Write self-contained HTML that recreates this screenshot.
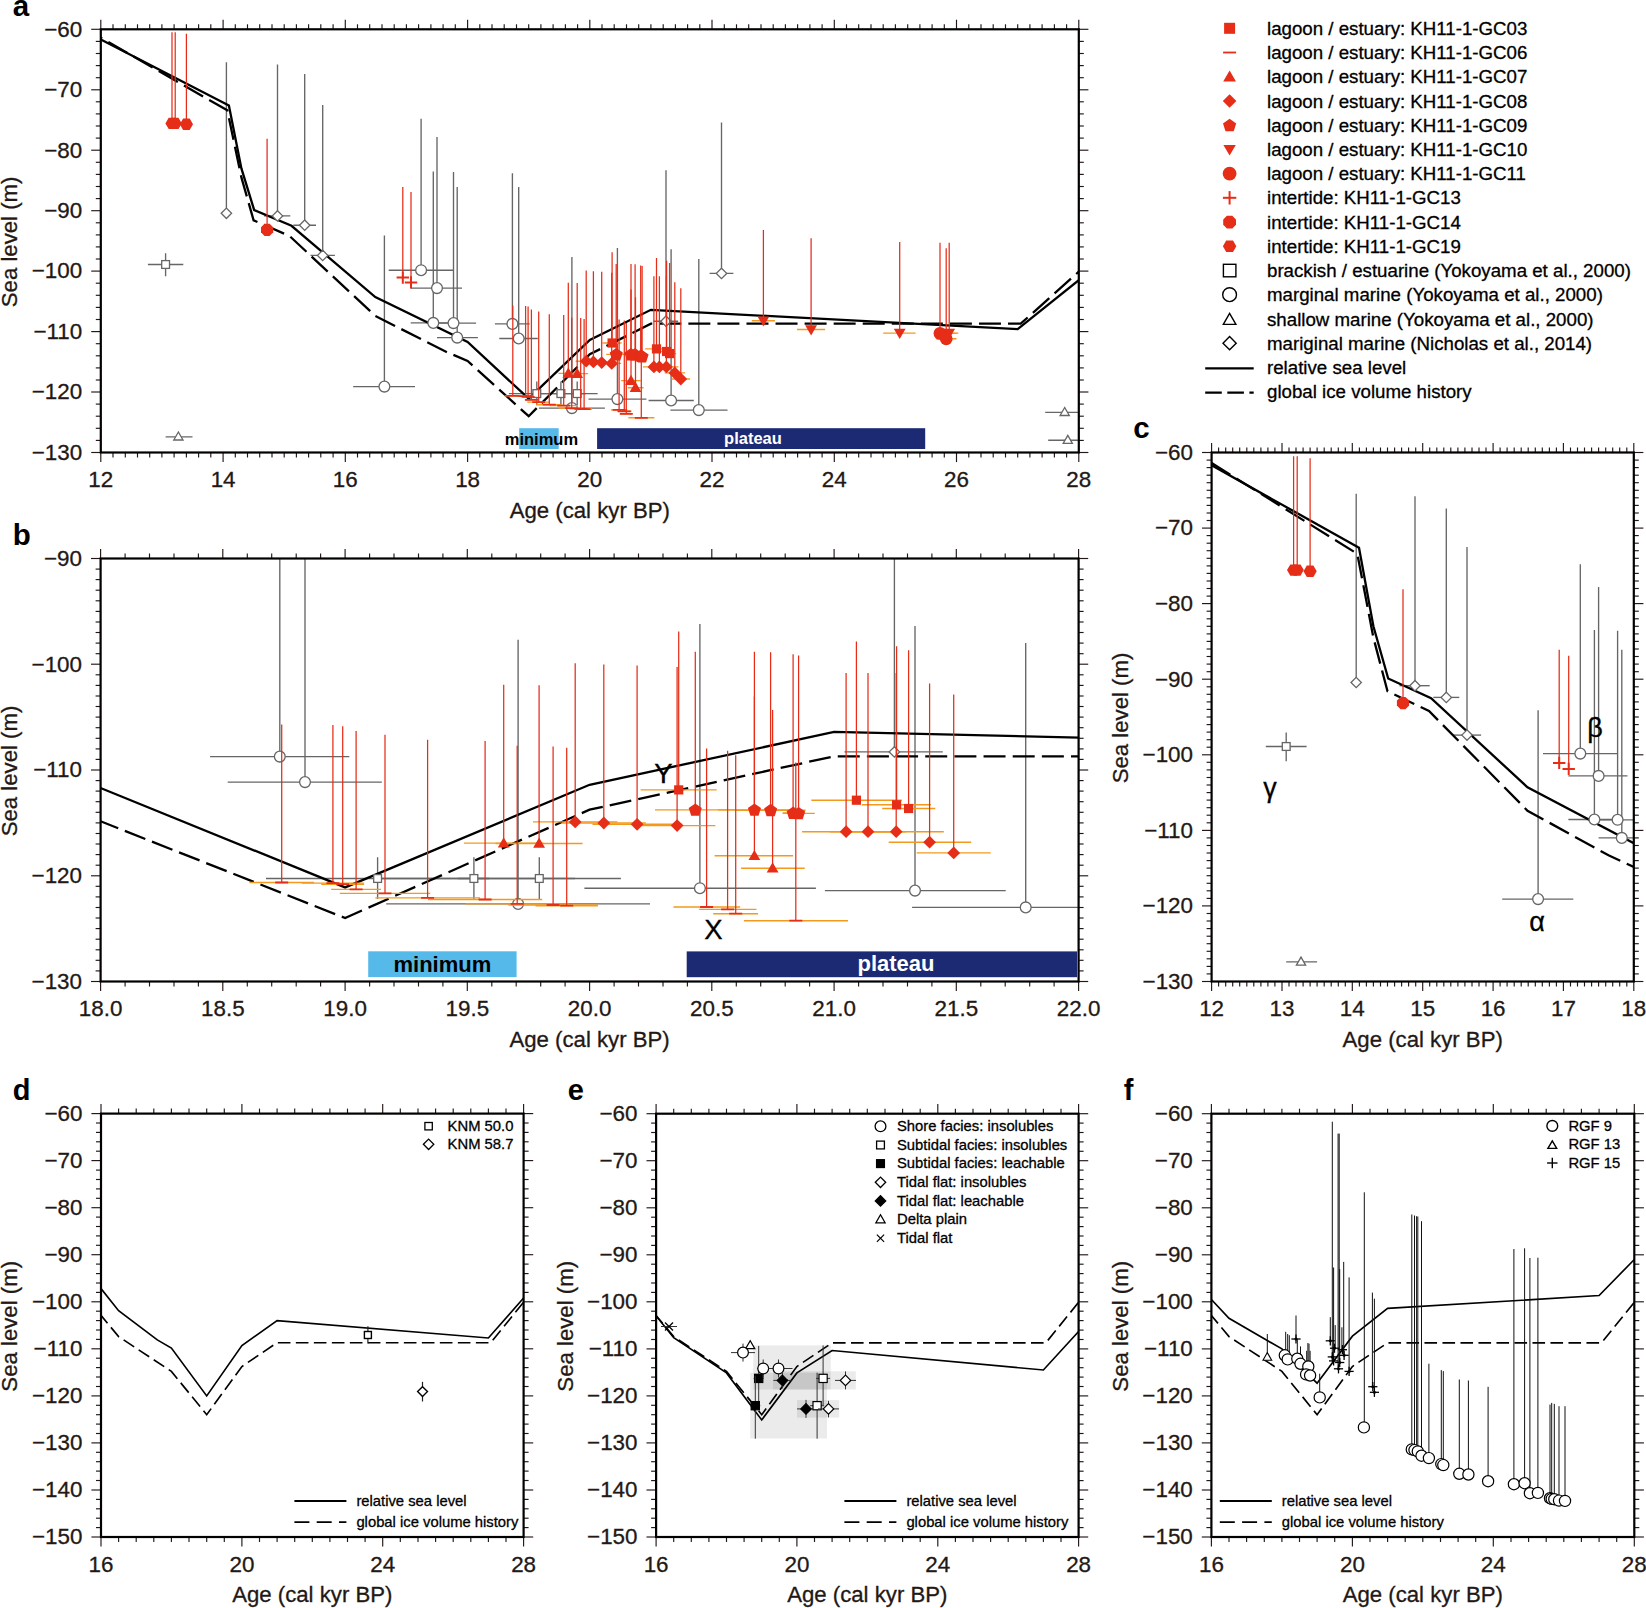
<!DOCTYPE html>
<html lang="en"><head><meta charset="utf-8"><title>Sea level figure</title>
<style>html,body{margin:0;padding:0;background:#fff}svg{display:block}text{font-family:"Liberation Sans",sans-serif}</style>
</head><body>
<svg width="1646" height="1608" viewBox="0 0 1646 1608">
<rect width="1646" height="1608" fill="#fff"/>
<clipPath id="ca"><rect x="100.8" y="29.3" width="978" height="423.2"/></clipPath>
<g clip-path="url(#ca)">
<line x1="384.4" y1="235.5" x2="384.4" y2="386.6" stroke="#666666" stroke-width="1.35"/>
<line x1="353.2" y1="386.6" x2="415" y2="386.6" stroke="#666666" stroke-width="1.35"/>
<line x1="421.1" y1="118.8" x2="421.1" y2="270.2" stroke="#666666" stroke-width="1.35"/>
<line x1="388.7" y1="270.2" x2="453.5" y2="270.2" stroke="#666666" stroke-width="1.35"/>
<line x1="437" y1="136.9" x2="437" y2="288.1" stroke="#666666" stroke-width="1.35"/>
<line x1="410.7" y1="288.1" x2="462" y2="288.1" stroke="#666666" stroke-width="1.35"/>
<line x1="433.3" y1="171.4" x2="433.3" y2="322.9" stroke="#666666" stroke-width="1.35"/>
<line x1="410.7" y1="322.9" x2="455.3" y2="322.9" stroke="#666666" stroke-width="1.35"/>
<line x1="453.5" y1="172" x2="453.5" y2="323.1" stroke="#666666" stroke-width="1.35"/>
<line x1="430.9" y1="323.1" x2="476.1" y2="323.1" stroke="#666666" stroke-width="1.35"/>
<line x1="457.2" y1="187.1" x2="457.2" y2="337.6" stroke="#666666" stroke-width="1.35"/>
<line x1="437" y1="337.6" x2="477.9" y2="337.6" stroke="#666666" stroke-width="1.35"/>
<line x1="512.4" y1="173.2" x2="512.4" y2="323.9" stroke="#666666" stroke-width="1.35"/>
<line x1="494.9" y1="323.9" x2="529.7" y2="323.9" stroke="#666666" stroke-width="1.35"/>
<line x1="518.7" y1="187.1" x2="518.7" y2="338.5" stroke="#666666" stroke-width="1.35"/>
<line x1="499.3" y1="338.5" x2="537.8" y2="338.5" stroke="#666666" stroke-width="1.35"/>
<line x1="571.9" y1="257.1" x2="571.9" y2="408.1" stroke="#666666" stroke-width="1.35"/>
<line x1="538.9" y1="408.1" x2="604.9" y2="408.1" stroke="#666666" stroke-width="1.35"/>
<line x1="617.4" y1="248.1" x2="617.4" y2="399.1" stroke="#666666" stroke-width="1.35"/>
<line x1="588.5" y1="399.1" x2="646.4" y2="399.1" stroke="#666666" stroke-width="1.35"/>
<line x1="671.1" y1="249.3" x2="671.1" y2="400.5" stroke="#666666" stroke-width="1.35"/>
<line x1="648.6" y1="400.5" x2="693.8" y2="400.5" stroke="#666666" stroke-width="1.35"/>
<line x1="698.8" y1="259" x2="698.8" y2="410.1" stroke="#666666" stroke-width="1.35"/>
<line x1="670.4" y1="410.1" x2="727.5" y2="410.1" stroke="#666666" stroke-width="1.35"/>
<line x1="165.6" y1="253.3" x2="165.6" y2="276.3" stroke="#666666" stroke-width="1.35"/>
<line x1="147.9" y1="264.5" x2="183.3" y2="264.5" stroke="#666666" stroke-width="1.35"/>
<line x1="536.8" y1="381.5" x2="536.8" y2="405.3" stroke="#666666" stroke-width="1.35"/>
<line x1="508.9" y1="393.6" x2="564.7" y2="393.6" stroke="#666666" stroke-width="1.35"/>
<line x1="560.9" y1="381.5" x2="560.9" y2="405.3" stroke="#666666" stroke-width="1.35"/>
<line x1="535.8" y1="393.6" x2="586.1" y2="393.6" stroke="#666666" stroke-width="1.35"/>
<line x1="577.2" y1="381.5" x2="577.2" y2="405.3" stroke="#666666" stroke-width="1.35"/>
<line x1="556.8" y1="393.6" x2="597.6" y2="393.6" stroke="#666666" stroke-width="1.35"/>
<line x1="165.6" y1="436.8" x2="192.5" y2="436.8" stroke="#666666" stroke-width="1.35"/>
<line x1="1045.2" y1="412.3" x2="1081.9" y2="412.3" stroke="#666666" stroke-width="1.35"/>
<line x1="1048.2" y1="440.2" x2="1084.9" y2="440.2" stroke="#666666" stroke-width="1.35"/>
<line x1="226.4" y1="62.2" x2="226.4" y2="213.3" stroke="#666666" stroke-width="1.35"/>
<line x1="223.1" y1="213.3" x2="229.8" y2="213.3" stroke="#666666" stroke-width="1.35"/>
<line x1="277.5" y1="64.4" x2="277.5" y2="215.9" stroke="#666666" stroke-width="1.35"/>
<line x1="264" y1="215.9" x2="290.3" y2="215.9" stroke="#666666" stroke-width="1.35"/>
<line x1="304.7" y1="74" x2="304.7" y2="225.2" stroke="#666666" stroke-width="1.35"/>
<line x1="293.3" y1="225.2" x2="316" y2="225.2" stroke="#666666" stroke-width="1.35"/>
<line x1="322.7" y1="104.9" x2="322.7" y2="255.4" stroke="#666666" stroke-width="1.35"/>
<line x1="310.5" y1="255.4" x2="334.9" y2="255.4" stroke="#666666" stroke-width="1.35"/>
<line x1="666" y1="170.2" x2="666" y2="321.2" stroke="#666666" stroke-width="1.35"/>
<line x1="653.5" y1="321.2" x2="678.1" y2="321.2" stroke="#666666" stroke-width="1.35"/>
<line x1="721.5" y1="122.4" x2="721.5" y2="273.4" stroke="#666666" stroke-width="1.35"/>
<line x1="709.6" y1="273.4" x2="733.4" y2="273.4" stroke="#666666" stroke-width="1.35"/>
<polyline points="100.8,39.6 228.9,105.5 241.4,168.4 254.2,210.1 291.5,225.8 375.3,297.1 467.6,341.9 528.7,398.7 589.8,340 650.9,309.8 1017.7,329.2 1078.8,280.2" fill="none" stroke="#000000" stroke-width="2.3" stroke-linejoin="miter"/>
<polyline points="100.8,37.8 227.3,110.3 241.4,177.4 253.6,220.3 289.7,236.1 375.3,315.9 445.5,351.5 467.6,360.9 528.7,416.2 589.8,354.3 650.9,323.7 1020.7,323.7 1078.8,271.7" fill="none" stroke="#000000" stroke-width="2.3" stroke-dasharray="22 7.06" stroke-dashoffset="20.37"/>
<circle cx="384.4" cy="386.6" r="5.4" fill="#fff" stroke="#666666" stroke-width="1.3"/>
<circle cx="421.1" cy="270.2" r="5.4" fill="#fff" stroke="#666666" stroke-width="1.3"/>
<circle cx="437" cy="288.1" r="5.4" fill="#fff" stroke="#666666" stroke-width="1.3"/>
<circle cx="433.3" cy="322.9" r="5.4" fill="#fff" stroke="#666666" stroke-width="1.3"/>
<circle cx="453.5" cy="323.1" r="5.4" fill="#fff" stroke="#666666" stroke-width="1.3"/>
<circle cx="457.2" cy="337.6" r="5.4" fill="#fff" stroke="#666666" stroke-width="1.3"/>
<circle cx="512.4" cy="323.9" r="5.4" fill="#fff" stroke="#666666" stroke-width="1.3"/>
<circle cx="518.7" cy="338.5" r="5.4" fill="#fff" stroke="#666666" stroke-width="1.3"/>
<circle cx="571.9" cy="408.1" r="5.4" fill="#fff" stroke="#666666" stroke-width="1.3"/>
<circle cx="617.4" cy="399.1" r="5.4" fill="#fff" stroke="#666666" stroke-width="1.3"/>
<circle cx="671.1" cy="400.5" r="5.4" fill="#fff" stroke="#666666" stroke-width="1.3"/>
<circle cx="698.8" cy="410.1" r="5.4" fill="#fff" stroke="#666666" stroke-width="1.3"/>
<rect x="161.7" y="260.6" width="7.8" height="7.8" fill="#fff" stroke="#666666" stroke-width="1.3"/>
<rect x="532.9" y="389.7" width="7.8" height="7.8" fill="#fff" stroke="#666666" stroke-width="1.3"/>
<rect x="557" y="389.7" width="7.8" height="7.8" fill="#fff" stroke="#666666" stroke-width="1.3"/>
<rect x="573.3" y="389.7" width="7.8" height="7.8" fill="#fff" stroke="#666666" stroke-width="1.3"/>
<polygon points="173.8,440 183,440 178.4,432" fill="#fff" stroke="#666666" stroke-width="1.3" stroke-linejoin="miter"/>
<polygon points="1060.1,415.5 1069.3,415.5 1064.7,407.5" fill="#fff" stroke="#666666" stroke-width="1.3" stroke-linejoin="miter"/>
<polygon points="1063.2,443.4 1072.4,443.4 1067.8,435.4" fill="#fff" stroke="#666666" stroke-width="1.3" stroke-linejoin="miter"/>
<polygon points="221.2,213.3 226.4,208.1 231.6,213.3 226.4,218.5" fill="#fff" stroke="#666666" stroke-width="1.3" stroke-linejoin="miter"/>
<polygon points="272.3,215.9 277.5,210.7 282.7,215.9 277.5,221.1" fill="#fff" stroke="#666666" stroke-width="1.3" stroke-linejoin="miter"/>
<polygon points="299.5,225.2 304.7,220 309.9,225.2 304.7,230.4" fill="#fff" stroke="#666666" stroke-width="1.3" stroke-linejoin="miter"/>
<polygon points="317.5,255.4 322.7,250.2 327.9,255.4 322.7,260.6" fill="#fff" stroke="#666666" stroke-width="1.3" stroke-linejoin="miter"/>
<polygon points="660.8,321.2 666,316 671.2,321.2 666,326.4" fill="#fff" stroke="#666666" stroke-width="1.3" stroke-linejoin="miter"/>
<polygon points="716.3,273.4 721.5,268.2 726.7,273.4 721.5,278.6" fill="#fff" stroke="#666666" stroke-width="1.3" stroke-linejoin="miter"/>
<line x1="504.7" y1="395.9" x2="520.9" y2="395.9" stroke="#f39a1e" stroke-width="1.4"/>
<line x1="517.8" y1="396.2" x2="533.4" y2="396.2" stroke="#f39a1e" stroke-width="1.4"/>
<line x1="522.7" y1="396.9" x2="533.4" y2="396.9" stroke="#f39a1e" stroke-width="1.4"/>
<line x1="525.2" y1="399.8" x2="537.7" y2="399.8" stroke="#f39a1e" stroke-width="1.4"/>
<line x1="527.3" y1="402.1" x2="550" y2="402.1" stroke="#f39a1e" stroke-width="1.4"/>
<line x1="536.2" y1="404.7" x2="562.4" y2="404.7" stroke="#f39a1e" stroke-width="1.4"/>
<line x1="549.4" y1="405.6" x2="577.9" y2="405.6" stroke="#f39a1e" stroke-width="1.4"/>
<line x1="558.8" y1="408.1" x2="584.6" y2="408.1" stroke="#f39a1e" stroke-width="1.4"/>
<line x1="569.5" y1="408.8" x2="591.9" y2="408.8" stroke="#f39a1e" stroke-width="1.4"/>
<line x1="576.3" y1="409.1" x2="591.9" y2="409.1" stroke="#f39a1e" stroke-width="1.4"/>
<line x1="610.8" y1="409.9" x2="627.4" y2="409.9" stroke="#f39a1e" stroke-width="1.4"/>
<line x1="617.2" y1="411.3" x2="631.5" y2="411.3" stroke="#f39a1e" stroke-width="1.4"/>
<line x1="620.7" y1="413.8" x2="631.9" y2="413.8" stroke="#f39a1e" stroke-width="1.4"/>
<line x1="628.4" y1="417.8" x2="654.4" y2="417.8" stroke="#f39a1e" stroke-width="1.4"/>
<line x1="558.4" y1="373.4" x2="578.3" y2="373.4" stroke="#f39a1e" stroke-width="1.4"/>
<line x1="566.3" y1="373.6" x2="588.1" y2="373.6" stroke="#f39a1e" stroke-width="1.4"/>
<line x1="621.1" y1="380.6" x2="640.7" y2="380.6" stroke="#f39a1e" stroke-width="1.4"/>
<line x1="627.7" y1="387.8" x2="643.6" y2="387.8" stroke="#f39a1e" stroke-width="1.4"/>
<line x1="575.6" y1="361.2" x2="596.8" y2="361.2" stroke="#f39a1e" stroke-width="1.4"/>
<line x1="582.9" y1="361.9" x2="603.9" y2="361.9" stroke="#f39a1e" stroke-width="1.4"/>
<line x1="590.5" y1="362.6" x2="612.9" y2="362.6" stroke="#f39a1e" stroke-width="1.4"/>
<line x1="602.1" y1="363.4" x2="621.2" y2="363.4" stroke="#f39a1e" stroke-width="1.4"/>
<line x1="642.9" y1="366.9" x2="664.9" y2="366.9" stroke="#f39a1e" stroke-width="1.4"/>
<line x1="649.8" y1="366.9" x2="669" y2="366.9" stroke="#f39a1e" stroke-width="1.4"/>
<line x1="654.5" y1="366.9" x2="678.4" y2="366.9" stroke="#f39a1e" stroke-width="1.4"/>
<line x1="664.6" y1="372.9" x2="685.2" y2="372.9" stroke="#f39a1e" stroke-width="1.4"/>
<line x1="671.6" y1="379" x2="690.1" y2="379" stroke="#f39a1e" stroke-width="1.4"/>
<line x1="602.5" y1="343" x2="621.6" y2="343" stroke="#f39a1e" stroke-width="1.4"/>
<line x1="645.2" y1="348.9" x2="667.9" y2="348.9" stroke="#f39a1e" stroke-width="1.4"/>
<line x1="657.9" y1="351.5" x2="675.1" y2="351.5" stroke="#f39a1e" stroke-width="1.4"/>
<line x1="662.9" y1="353.6" x2="676.2" y2="353.6" stroke="#f39a1e" stroke-width="1.4"/>
<line x1="606.2" y1="354.4" x2="626.3" y2="354.4" stroke="#f39a1e" stroke-width="1.4"/>
<line x1="621.9" y1="354.4" x2="640.1" y2="354.4" stroke="#f39a1e" stroke-width="1.4"/>
<line x1="626.3" y1="354.6" x2="643.8" y2="354.6" stroke="#f39a1e" stroke-width="1.4"/>
<line x1="638.1" y1="356.1" x2="643.3" y2="356.1" stroke="#f39a1e" stroke-width="1.4"/>
<line x1="638.1" y1="356.4" x2="646.1" y2="356.4" stroke="#f39a1e" stroke-width="1.4"/>
<line x1="751.8" y1="320.7" x2="775" y2="320.7" stroke="#f39a1e" stroke-width="1.4"/>
<line x1="797" y1="329.5" x2="825.1" y2="329.5" stroke="#f39a1e" stroke-width="1.4"/>
<line x1="883.2" y1="333.1" x2="915.6" y2="333.1" stroke="#f39a1e" stroke-width="1.4"/>
<line x1="934.5" y1="333.1" x2="958.4" y2="333.1" stroke="#f39a1e" stroke-width="1.4"/>
<line x1="934.5" y1="333.4" x2="956.5" y2="333.4" stroke="#f39a1e" stroke-width="1.4"/>
<line x1="935.8" y1="338.8" x2="956.5" y2="338.8" stroke="#f39a1e" stroke-width="1.4"/>
<line x1="512.8" y1="305.6" x2="512.8" y2="395.9" stroke="#e62d17" stroke-width="1.25"/>
<line x1="506.3" y1="395.9" x2="519.3" y2="395.9" stroke="#e62d17" stroke-width="1.8"/>
<line x1="525.6" y1="305.9" x2="525.6" y2="396.2" stroke="#e62d17" stroke-width="1.25"/>
<line x1="519.1" y1="396.2" x2="532.1" y2="396.2" stroke="#e62d17" stroke-width="1.8"/>
<line x1="528.1" y1="306.6" x2="528.1" y2="396.9" stroke="#e62d17" stroke-width="1.25"/>
<line x1="521.6" y1="396.9" x2="534.6" y2="396.9" stroke="#e62d17" stroke-width="1.8"/>
<line x1="531.4" y1="309.4" x2="531.4" y2="399.8" stroke="#e62d17" stroke-width="1.25"/>
<line x1="524.9" y1="399.8" x2="537.9" y2="399.8" stroke="#e62d17" stroke-width="1.8"/>
<line x1="538.7" y1="311.5" x2="538.7" y2="402.1" stroke="#e62d17" stroke-width="1.25"/>
<line x1="532.2" y1="402.1" x2="545.2" y2="402.1" stroke="#e62d17" stroke-width="1.8"/>
<line x1="549.3" y1="314.3" x2="549.3" y2="404.7" stroke="#e62d17" stroke-width="1.25"/>
<line x1="542.8" y1="404.7" x2="555.8" y2="404.7" stroke="#e62d17" stroke-width="1.8"/>
<line x1="563.7" y1="315" x2="563.7" y2="405.6" stroke="#e62d17" stroke-width="1.25"/>
<line x1="557.2" y1="405.6" x2="570.2" y2="405.6" stroke="#e62d17" stroke-width="1.8"/>
<line x1="571.7" y1="317.7" x2="571.7" y2="408.1" stroke="#e62d17" stroke-width="1.25"/>
<line x1="565.2" y1="408.1" x2="578.2" y2="408.1" stroke="#e62d17" stroke-width="1.8"/>
<line x1="580.7" y1="318.1" x2="580.7" y2="408.8" stroke="#e62d17" stroke-width="1.25"/>
<line x1="574.2" y1="408.8" x2="587.2" y2="408.8" stroke="#e62d17" stroke-width="1.8"/>
<line x1="584.1" y1="318.9" x2="584.1" y2="409.1" stroke="#e62d17" stroke-width="1.25"/>
<line x1="577.6" y1="409.1" x2="590.6" y2="409.1" stroke="#e62d17" stroke-width="1.8"/>
<line x1="619.1" y1="319.4" x2="619.1" y2="409.9" stroke="#e62d17" stroke-width="1.25"/>
<line x1="612.6" y1="409.9" x2="625.6" y2="409.9" stroke="#e62d17" stroke-width="1.8"/>
<line x1="624.3" y1="320.6" x2="624.3" y2="411.3" stroke="#e62d17" stroke-width="1.25"/>
<line x1="617.8" y1="411.3" x2="630.8" y2="411.3" stroke="#e62d17" stroke-width="1.8"/>
<line x1="626.3" y1="323.1" x2="626.3" y2="413.8" stroke="#e62d17" stroke-width="1.25"/>
<line x1="619.8" y1="413.8" x2="632.8" y2="413.8" stroke="#e62d17" stroke-width="1.8"/>
<line x1="641.3" y1="327.4" x2="641.3" y2="417.8" stroke="#e62d17" stroke-width="1.25"/>
<line x1="634.8" y1="417.8" x2="647.8" y2="417.8" stroke="#e62d17" stroke-width="1.8"/>
<line x1="568.3" y1="282.8" x2="568.3" y2="373.4" stroke="#e62d17" stroke-width="1.25"/>
<polygon points="562.4,377.7 574.2,377.7 568.3,367.5" fill="#e62d17" stroke="none" stroke-width="0" stroke-linejoin="miter"/>
<line x1="577.2" y1="283.1" x2="577.2" y2="373.6" stroke="#e62d17" stroke-width="1.25"/>
<polygon points="571.3,377.9 583.1,377.9 577.2,367.7" fill="#e62d17" stroke="none" stroke-width="0" stroke-linejoin="miter"/>
<line x1="631" y1="289.6" x2="631" y2="380.6" stroke="#e62d17" stroke-width="1.25"/>
<polygon points="625.1,384.9 636.9,384.9 631,374.7" fill="#e62d17" stroke="none" stroke-width="0" stroke-linejoin="miter"/>
<line x1="635.5" y1="297.3" x2="635.5" y2="387.8" stroke="#e62d17" stroke-width="1.25"/>
<polygon points="629.6,392 641.4,392 635.5,381.8" fill="#e62d17" stroke="none" stroke-width="0" stroke-linejoin="miter"/>
<line x1="586.2" y1="270.6" x2="586.2" y2="361.2" stroke="#e62d17" stroke-width="1.25"/>
<polygon points="579.8,361.2 586.2,354.8 592.6,361.2 586.2,367.6" fill="#e62d17" stroke="none" stroke-width="0" stroke-linejoin="miter"/>
<line x1="593.4" y1="271.2" x2="593.4" y2="361.9" stroke="#e62d17" stroke-width="1.25"/>
<polygon points="587,361.9 593.4,355.5 599.8,361.9 593.4,368.3" fill="#e62d17" stroke="none" stroke-width="0" stroke-linejoin="miter"/>
<line x1="601.7" y1="271.8" x2="601.7" y2="362.6" stroke="#e62d17" stroke-width="1.25"/>
<polygon points="595.3,362.6 601.7,356.2 608.1,362.6 601.7,369" fill="#e62d17" stroke="none" stroke-width="0" stroke-linejoin="miter"/>
<line x1="611.7" y1="272.7" x2="611.7" y2="363.4" stroke="#e62d17" stroke-width="1.25"/>
<polygon points="605.3,363.4 611.7,357 618.1,363.4 611.7,369.8" fill="#e62d17" stroke="none" stroke-width="0" stroke-linejoin="miter"/>
<line x1="653.9" y1="276.2" x2="653.9" y2="366.9" stroke="#e62d17" stroke-width="1.25"/>
<polygon points="647.5,366.9 653.9,360.5 660.3,366.9 653.9,373.3" fill="#e62d17" stroke="none" stroke-width="0" stroke-linejoin="miter"/>
<line x1="659.4" y1="276.2" x2="659.4" y2="366.9" stroke="#e62d17" stroke-width="1.25"/>
<polygon points="653,366.9 659.4,360.5 665.8,366.9 659.4,373.3" fill="#e62d17" stroke="none" stroke-width="0" stroke-linejoin="miter"/>
<line x1="666.4" y1="276.2" x2="666.4" y2="366.9" stroke="#e62d17" stroke-width="1.25"/>
<polygon points="660,366.9 666.4,360.5 672.8,366.9 666.4,373.3" fill="#e62d17" stroke="none" stroke-width="0" stroke-linejoin="miter"/>
<line x1="674.8" y1="282.2" x2="674.8" y2="372.9" stroke="#e62d17" stroke-width="1.25"/>
<polygon points="668.4,372.9 674.8,366.5 681.2,372.9 674.8,379.3" fill="#e62d17" stroke="none" stroke-width="0" stroke-linejoin="miter"/>
<line x1="680.8" y1="288.3" x2="680.8" y2="379" stroke="#e62d17" stroke-width="1.25"/>
<polygon points="674.4,379 680.8,372.6 687.2,379 680.8,385.4" fill="#e62d17" stroke="none" stroke-width="0" stroke-linejoin="miter"/>
<line x1="612.1" y1="252.3" x2="612.1" y2="343" stroke="#e62d17" stroke-width="1.25"/>
<rect x="607.5" y="338.4" width="9.2" height="9.2" fill="#e62d17" stroke="none" stroke-width="0"/>
<line x1="656.5" y1="258.1" x2="656.5" y2="348.9" stroke="#e62d17" stroke-width="1.25"/>
<rect x="651.9" y="344.3" width="9.2" height="9.2" fill="#e62d17" stroke="none" stroke-width="0"/>
<line x1="666.6" y1="260.8" x2="666.6" y2="351.5" stroke="#e62d17" stroke-width="1.25"/>
<rect x="662" y="346.9" width="9.2" height="9.2" fill="#e62d17" stroke="none" stroke-width="0"/>
<line x1="669.6" y1="263.1" x2="669.6" y2="353.6" stroke="#e62d17" stroke-width="1.25"/>
<rect x="665" y="349" width="9.2" height="9.2" fill="#e62d17" stroke="none" stroke-width="0"/>
<line x1="616.2" y1="264" x2="616.2" y2="354.4" stroke="#e62d17" stroke-width="1.25"/>
<polygon points="616.2,347.9 622.8,352.6 620.3,360.4 612.2,360.4 609.7,352.6" fill="#e62d17" stroke="none" stroke-width="0" stroke-linejoin="miter"/>
<line x1="631" y1="264" x2="631" y2="354.4" stroke="#e62d17" stroke-width="1.25"/>
<polygon points="631,347.9 637.6,352.6 635.1,360.4 627,360.4 624.4,352.6" fill="#e62d17" stroke="none" stroke-width="0" stroke-linejoin="miter"/>
<line x1="635.1" y1="264.2" x2="635.1" y2="354.6" stroke="#e62d17" stroke-width="1.25"/>
<polygon points="635.1,348.1 641.6,352.9 639.1,360.6 631,360.6 628.5,352.9" fill="#e62d17" stroke="none" stroke-width="0" stroke-linejoin="miter"/>
<line x1="640.7" y1="265.5" x2="640.7" y2="356.1" stroke="#e62d17" stroke-width="1.25"/>
<polygon points="640.7,349.6 647.2,354.4 644.7,362.1 636.6,362.1 634.1,354.4" fill="#e62d17" stroke="none" stroke-width="0" stroke-linejoin="miter"/>
<line x1="642.1" y1="266.1" x2="642.1" y2="356.4" stroke="#e62d17" stroke-width="1.25"/>
<polygon points="642.1,349.9 648.6,354.6 646.1,362.4 638,362.4 635.5,354.6" fill="#e62d17" stroke="none" stroke-width="0" stroke-linejoin="miter"/>
<line x1="763.4" y1="230" x2="763.4" y2="320.7" stroke="#e62d17" stroke-width="1.25"/>
<polygon points="757.5,316.4 769.3,316.4 763.4,326.6" fill="#e62d17" stroke="none" stroke-width="0" stroke-linejoin="miter"/>
<line x1="811.1" y1="238.2" x2="811.1" y2="329.5" stroke="#e62d17" stroke-width="1.25"/>
<polygon points="805.2,325.2 817,325.2 811.1,335.4" fill="#e62d17" stroke="none" stroke-width="0" stroke-linejoin="miter"/>
<line x1="899.7" y1="242.1" x2="899.7" y2="333.1" stroke="#e62d17" stroke-width="1.25"/>
<polygon points="893.8,328.8 905.6,328.8 899.7,339" fill="#e62d17" stroke="none" stroke-width="0" stroke-linejoin="miter"/>
<line x1="949.2" y1="242.7" x2="949.2" y2="333.1" stroke="#e62d17" stroke-width="1.25"/>
<polygon points="943.3,328.8 955.1,328.8 949.2,339" fill="#e62d17" stroke="none" stroke-width="0" stroke-linejoin="miter"/>
<line x1="940" y1="242.7" x2="940" y2="333.4" stroke="#e62d17" stroke-width="1.25"/>
<circle cx="940" cy="333.4" r="6.4" fill="#e62d17" stroke="none" stroke-width="0"/>
<line x1="946.2" y1="248.2" x2="946.2" y2="338.8" stroke="#e62d17" stroke-width="1.25"/>
<circle cx="946.2" cy="338.8" r="6.4" fill="#e62d17" stroke="none" stroke-width="0"/>
<line x1="402.8" y1="187.1" x2="402.8" y2="277.6" stroke="#e62d17" stroke-width="1.25"/>
<line x1="396.6" y1="277.6" x2="409" y2="277.6" stroke="#e62d17" stroke-width="2.0"/>
<line x1="402.8" y1="271.4" x2="402.8" y2="283.8" stroke="#e62d17" stroke-width="2.0"/>
<line x1="411" y1="191.9" x2="411" y2="282.4" stroke="#e62d17" stroke-width="1.25"/>
<line x1="404.8" y1="282.4" x2="417.2" y2="282.4" stroke="#e62d17" stroke-width="2.0"/>
<line x1="411" y1="276.2" x2="411" y2="288.6" stroke="#e62d17" stroke-width="2.0"/>
<line x1="172" y1="32.3" x2="172" y2="123.4" stroke="#e62d17" stroke-width="1.25"/>
<polygon points="178.6,123.4 175.3,129.1 168.7,129.1 165.4,123.4 168.7,117.7 175.3,117.7" fill="#e62d17" stroke="none" stroke-width="0" stroke-linejoin="miter"/>
<line x1="175.2" y1="32.3" x2="175.2" y2="123.4" stroke="#e62d17" stroke-width="1.25"/>
<polygon points="181.8,123.4 178.5,129.1 171.9,129.1 168.6,123.4 171.9,117.7 178.5,117.7" fill="#e62d17" stroke="none" stroke-width="0" stroke-linejoin="miter"/>
<line x1="186.4" y1="33.8" x2="186.4" y2="124.3" stroke="#e62d17" stroke-width="1.25"/>
<polygon points="193,124.3 189.7,130.1 183.1,130.1 179.8,124.3 183.1,118.6 189.7,118.6" fill="#e62d17" stroke="none" stroke-width="0" stroke-linejoin="miter"/>
<line x1="267.1" y1="138.7" x2="267.1" y2="229.8" stroke="#e62d17" stroke-width="1.25"/>
<polygon points="273.2,232.3 269.6,235.9 264.5,235.9 261,232.3 261,227.3 264.5,223.7 269.6,223.7 273.2,227.3" fill="#e62d17" stroke="none" stroke-width="0" stroke-linejoin="miter"/>
<rect x="519.2" y="428.2" width="39.5" height="20.8" fill="#55b9e9"/>
<rect x="597.1" y="428.2" width="328.1" height="20.8" fill="#1b2a72"/>
<text x="541.4" y="444.6" font-size="16.5" text-anchor="middle" font-weight="bold" fill="#000000">minimum</text>
<text x="753" y="444.4" font-size="16.5" text-anchor="middle" font-weight="bold" fill="#fff">plateau</text>
</g>
<line x1="100.8" y1="452.5" x2="100.8" y2="462.1" stroke="#231815" stroke-width="1.15"/>
<line x1="100.8" y1="29.3" x2="100.8" y2="19.7" stroke="#231815" stroke-width="1.15"/>
<text x="100.8" y="487.1" font-size="22.4" text-anchor="middle" font-weight="normal" fill="#231815" stroke="#231815" stroke-width="0.3">12</text>
<line x1="113" y1="452.5" x2="113" y2="457.5" stroke="#231815" stroke-width="1.15"/>
<line x1="113" y1="29.3" x2="113" y2="24.3" stroke="#231815" stroke-width="1.15"/>
<line x1="125.3" y1="452.5" x2="125.3" y2="457.5" stroke="#231815" stroke-width="1.15"/>
<line x1="125.3" y1="29.3" x2="125.3" y2="24.3" stroke="#231815" stroke-width="1.15"/>
<line x1="137.5" y1="452.5" x2="137.5" y2="457.5" stroke="#231815" stroke-width="1.15"/>
<line x1="137.5" y1="29.3" x2="137.5" y2="24.3" stroke="#231815" stroke-width="1.15"/>
<line x1="149.7" y1="452.5" x2="149.7" y2="457.5" stroke="#231815" stroke-width="1.15"/>
<line x1="149.7" y1="29.3" x2="149.7" y2="24.3" stroke="#231815" stroke-width="1.15"/>
<line x1="161.9" y1="452.5" x2="161.9" y2="457.5" stroke="#231815" stroke-width="1.15"/>
<line x1="161.9" y1="29.3" x2="161.9" y2="24.3" stroke="#231815" stroke-width="1.15"/>
<line x1="174.1" y1="452.5" x2="174.1" y2="457.5" stroke="#231815" stroke-width="1.15"/>
<line x1="174.1" y1="29.3" x2="174.1" y2="24.3" stroke="#231815" stroke-width="1.15"/>
<line x1="186.4" y1="452.5" x2="186.4" y2="457.5" stroke="#231815" stroke-width="1.15"/>
<line x1="186.4" y1="29.3" x2="186.4" y2="24.3" stroke="#231815" stroke-width="1.15"/>
<line x1="198.6" y1="452.5" x2="198.6" y2="457.5" stroke="#231815" stroke-width="1.15"/>
<line x1="198.6" y1="29.3" x2="198.6" y2="24.3" stroke="#231815" stroke-width="1.15"/>
<line x1="210.8" y1="452.5" x2="210.8" y2="457.5" stroke="#231815" stroke-width="1.15"/>
<line x1="210.8" y1="29.3" x2="210.8" y2="24.3" stroke="#231815" stroke-width="1.15"/>
<line x1="223.1" y1="452.5" x2="223.1" y2="462.1" stroke="#231815" stroke-width="1.15"/>
<line x1="223.1" y1="29.3" x2="223.1" y2="19.7" stroke="#231815" stroke-width="1.15"/>
<text x="223.1" y="487.1" font-size="22.4" text-anchor="middle" font-weight="normal" fill="#231815" stroke="#231815" stroke-width="0.3">14</text>
<line x1="235.3" y1="452.5" x2="235.3" y2="457.5" stroke="#231815" stroke-width="1.15"/>
<line x1="235.3" y1="29.3" x2="235.3" y2="24.3" stroke="#231815" stroke-width="1.15"/>
<line x1="247.5" y1="452.5" x2="247.5" y2="457.5" stroke="#231815" stroke-width="1.15"/>
<line x1="247.5" y1="29.3" x2="247.5" y2="24.3" stroke="#231815" stroke-width="1.15"/>
<line x1="259.7" y1="452.5" x2="259.7" y2="457.5" stroke="#231815" stroke-width="1.15"/>
<line x1="259.7" y1="29.3" x2="259.7" y2="24.3" stroke="#231815" stroke-width="1.15"/>
<line x1="272" y1="452.5" x2="272" y2="457.5" stroke="#231815" stroke-width="1.15"/>
<line x1="272" y1="29.3" x2="272" y2="24.3" stroke="#231815" stroke-width="1.15"/>
<line x1="284.2" y1="452.5" x2="284.2" y2="457.5" stroke="#231815" stroke-width="1.15"/>
<line x1="284.2" y1="29.3" x2="284.2" y2="24.3" stroke="#231815" stroke-width="1.15"/>
<line x1="296.4" y1="452.5" x2="296.4" y2="457.5" stroke="#231815" stroke-width="1.15"/>
<line x1="296.4" y1="29.3" x2="296.4" y2="24.3" stroke="#231815" stroke-width="1.15"/>
<line x1="308.6" y1="452.5" x2="308.6" y2="457.5" stroke="#231815" stroke-width="1.15"/>
<line x1="308.6" y1="29.3" x2="308.6" y2="24.3" stroke="#231815" stroke-width="1.15"/>
<line x1="320.8" y1="452.5" x2="320.8" y2="457.5" stroke="#231815" stroke-width="1.15"/>
<line x1="320.8" y1="29.3" x2="320.8" y2="24.3" stroke="#231815" stroke-width="1.15"/>
<line x1="333.1" y1="452.5" x2="333.1" y2="457.5" stroke="#231815" stroke-width="1.15"/>
<line x1="333.1" y1="29.3" x2="333.1" y2="24.3" stroke="#231815" stroke-width="1.15"/>
<line x1="345.3" y1="452.5" x2="345.3" y2="462.1" stroke="#231815" stroke-width="1.15"/>
<line x1="345.3" y1="29.3" x2="345.3" y2="19.7" stroke="#231815" stroke-width="1.15"/>
<text x="345.3" y="487.1" font-size="22.4" text-anchor="middle" font-weight="normal" fill="#231815" stroke="#231815" stroke-width="0.3">16</text>
<line x1="357.5" y1="452.5" x2="357.5" y2="457.5" stroke="#231815" stroke-width="1.15"/>
<line x1="357.5" y1="29.3" x2="357.5" y2="24.3" stroke="#231815" stroke-width="1.15"/>
<line x1="369.7" y1="452.5" x2="369.7" y2="457.5" stroke="#231815" stroke-width="1.15"/>
<line x1="369.7" y1="29.3" x2="369.7" y2="24.3" stroke="#231815" stroke-width="1.15"/>
<line x1="382" y1="452.5" x2="382" y2="457.5" stroke="#231815" stroke-width="1.15"/>
<line x1="382" y1="29.3" x2="382" y2="24.3" stroke="#231815" stroke-width="1.15"/>
<line x1="394.2" y1="452.5" x2="394.2" y2="457.5" stroke="#231815" stroke-width="1.15"/>
<line x1="394.2" y1="29.3" x2="394.2" y2="24.3" stroke="#231815" stroke-width="1.15"/>
<line x1="406.4" y1="452.5" x2="406.4" y2="457.5" stroke="#231815" stroke-width="1.15"/>
<line x1="406.4" y1="29.3" x2="406.4" y2="24.3" stroke="#231815" stroke-width="1.15"/>
<line x1="418.6" y1="452.5" x2="418.6" y2="457.5" stroke="#231815" stroke-width="1.15"/>
<line x1="418.6" y1="29.3" x2="418.6" y2="24.3" stroke="#231815" stroke-width="1.15"/>
<line x1="430.9" y1="452.5" x2="430.9" y2="457.5" stroke="#231815" stroke-width="1.15"/>
<line x1="430.9" y1="29.3" x2="430.9" y2="24.3" stroke="#231815" stroke-width="1.15"/>
<line x1="443.1" y1="452.5" x2="443.1" y2="457.5" stroke="#231815" stroke-width="1.15"/>
<line x1="443.1" y1="29.3" x2="443.1" y2="24.3" stroke="#231815" stroke-width="1.15"/>
<line x1="455.3" y1="452.5" x2="455.3" y2="457.5" stroke="#231815" stroke-width="1.15"/>
<line x1="455.3" y1="29.3" x2="455.3" y2="24.3" stroke="#231815" stroke-width="1.15"/>
<line x1="467.6" y1="452.5" x2="467.6" y2="462.1" stroke="#231815" stroke-width="1.15"/>
<line x1="467.6" y1="29.3" x2="467.6" y2="19.7" stroke="#231815" stroke-width="1.15"/>
<text x="467.6" y="487.1" font-size="22.4" text-anchor="middle" font-weight="normal" fill="#231815" stroke="#231815" stroke-width="0.3">18</text>
<line x1="479.8" y1="452.5" x2="479.8" y2="457.5" stroke="#231815" stroke-width="1.15"/>
<line x1="479.8" y1="29.3" x2="479.8" y2="24.3" stroke="#231815" stroke-width="1.15"/>
<line x1="492" y1="452.5" x2="492" y2="457.5" stroke="#231815" stroke-width="1.15"/>
<line x1="492" y1="29.3" x2="492" y2="24.3" stroke="#231815" stroke-width="1.15"/>
<line x1="504.2" y1="452.5" x2="504.2" y2="457.5" stroke="#231815" stroke-width="1.15"/>
<line x1="504.2" y1="29.3" x2="504.2" y2="24.3" stroke="#231815" stroke-width="1.15"/>
<line x1="516.5" y1="452.5" x2="516.5" y2="457.5" stroke="#231815" stroke-width="1.15"/>
<line x1="516.5" y1="29.3" x2="516.5" y2="24.3" stroke="#231815" stroke-width="1.15"/>
<line x1="528.7" y1="452.5" x2="528.7" y2="457.5" stroke="#231815" stroke-width="1.15"/>
<line x1="528.7" y1="29.3" x2="528.7" y2="24.3" stroke="#231815" stroke-width="1.15"/>
<line x1="540.9" y1="452.5" x2="540.9" y2="457.5" stroke="#231815" stroke-width="1.15"/>
<line x1="540.9" y1="29.3" x2="540.9" y2="24.3" stroke="#231815" stroke-width="1.15"/>
<line x1="553.1" y1="452.5" x2="553.1" y2="457.5" stroke="#231815" stroke-width="1.15"/>
<line x1="553.1" y1="29.3" x2="553.1" y2="24.3" stroke="#231815" stroke-width="1.15"/>
<line x1="565.4" y1="452.5" x2="565.4" y2="457.5" stroke="#231815" stroke-width="1.15"/>
<line x1="565.4" y1="29.3" x2="565.4" y2="24.3" stroke="#231815" stroke-width="1.15"/>
<line x1="577.6" y1="452.5" x2="577.6" y2="457.5" stroke="#231815" stroke-width="1.15"/>
<line x1="577.6" y1="29.3" x2="577.6" y2="24.3" stroke="#231815" stroke-width="1.15"/>
<line x1="589.8" y1="452.5" x2="589.8" y2="462.1" stroke="#231815" stroke-width="1.15"/>
<line x1="589.8" y1="29.3" x2="589.8" y2="19.7" stroke="#231815" stroke-width="1.15"/>
<text x="589.8" y="487.1" font-size="22.4" text-anchor="middle" font-weight="normal" fill="#231815" stroke="#231815" stroke-width="0.3">20</text>
<line x1="602" y1="452.5" x2="602" y2="457.5" stroke="#231815" stroke-width="1.15"/>
<line x1="602" y1="29.3" x2="602" y2="24.3" stroke="#231815" stroke-width="1.15"/>
<line x1="614.2" y1="452.5" x2="614.2" y2="457.5" stroke="#231815" stroke-width="1.15"/>
<line x1="614.2" y1="29.3" x2="614.2" y2="24.3" stroke="#231815" stroke-width="1.15"/>
<line x1="626.5" y1="452.5" x2="626.5" y2="457.5" stroke="#231815" stroke-width="1.15"/>
<line x1="626.5" y1="29.3" x2="626.5" y2="24.3" stroke="#231815" stroke-width="1.15"/>
<line x1="638.7" y1="452.5" x2="638.7" y2="457.5" stroke="#231815" stroke-width="1.15"/>
<line x1="638.7" y1="29.3" x2="638.7" y2="24.3" stroke="#231815" stroke-width="1.15"/>
<line x1="650.9" y1="452.5" x2="650.9" y2="457.5" stroke="#231815" stroke-width="1.15"/>
<line x1="650.9" y1="29.3" x2="650.9" y2="24.3" stroke="#231815" stroke-width="1.15"/>
<line x1="663.2" y1="452.5" x2="663.2" y2="457.5" stroke="#231815" stroke-width="1.15"/>
<line x1="663.2" y1="29.3" x2="663.2" y2="24.3" stroke="#231815" stroke-width="1.15"/>
<line x1="675.4" y1="452.5" x2="675.4" y2="457.5" stroke="#231815" stroke-width="1.15"/>
<line x1="675.4" y1="29.3" x2="675.4" y2="24.3" stroke="#231815" stroke-width="1.15"/>
<line x1="687.6" y1="452.5" x2="687.6" y2="457.5" stroke="#231815" stroke-width="1.15"/>
<line x1="687.6" y1="29.3" x2="687.6" y2="24.3" stroke="#231815" stroke-width="1.15"/>
<line x1="699.8" y1="452.5" x2="699.8" y2="457.5" stroke="#231815" stroke-width="1.15"/>
<line x1="699.8" y1="29.3" x2="699.8" y2="24.3" stroke="#231815" stroke-width="1.15"/>
<line x1="712" y1="452.5" x2="712" y2="462.1" stroke="#231815" stroke-width="1.15"/>
<line x1="712" y1="29.3" x2="712" y2="19.7" stroke="#231815" stroke-width="1.15"/>
<text x="712" y="487.1" font-size="22.4" text-anchor="middle" font-weight="normal" fill="#231815" stroke="#231815" stroke-width="0.3">22</text>
<line x1="724.3" y1="452.5" x2="724.3" y2="457.5" stroke="#231815" stroke-width="1.15"/>
<line x1="724.3" y1="29.3" x2="724.3" y2="24.3" stroke="#231815" stroke-width="1.15"/>
<line x1="736.5" y1="452.5" x2="736.5" y2="457.5" stroke="#231815" stroke-width="1.15"/>
<line x1="736.5" y1="29.3" x2="736.5" y2="24.3" stroke="#231815" stroke-width="1.15"/>
<line x1="748.7" y1="452.5" x2="748.7" y2="457.5" stroke="#231815" stroke-width="1.15"/>
<line x1="748.7" y1="29.3" x2="748.7" y2="24.3" stroke="#231815" stroke-width="1.15"/>
<line x1="761" y1="452.5" x2="761" y2="457.5" stroke="#231815" stroke-width="1.15"/>
<line x1="761" y1="29.3" x2="761" y2="24.3" stroke="#231815" stroke-width="1.15"/>
<line x1="773.2" y1="452.5" x2="773.2" y2="457.5" stroke="#231815" stroke-width="1.15"/>
<line x1="773.2" y1="29.3" x2="773.2" y2="24.3" stroke="#231815" stroke-width="1.15"/>
<line x1="785.4" y1="452.5" x2="785.4" y2="457.5" stroke="#231815" stroke-width="1.15"/>
<line x1="785.4" y1="29.3" x2="785.4" y2="24.3" stroke="#231815" stroke-width="1.15"/>
<line x1="797.6" y1="452.5" x2="797.6" y2="457.5" stroke="#231815" stroke-width="1.15"/>
<line x1="797.6" y1="29.3" x2="797.6" y2="24.3" stroke="#231815" stroke-width="1.15"/>
<line x1="809.9" y1="452.5" x2="809.9" y2="457.5" stroke="#231815" stroke-width="1.15"/>
<line x1="809.9" y1="29.3" x2="809.9" y2="24.3" stroke="#231815" stroke-width="1.15"/>
<line x1="822.1" y1="452.5" x2="822.1" y2="457.5" stroke="#231815" stroke-width="1.15"/>
<line x1="822.1" y1="29.3" x2="822.1" y2="24.3" stroke="#231815" stroke-width="1.15"/>
<line x1="834.3" y1="452.5" x2="834.3" y2="462.1" stroke="#231815" stroke-width="1.15"/>
<line x1="834.3" y1="29.3" x2="834.3" y2="19.7" stroke="#231815" stroke-width="1.15"/>
<text x="834.3" y="487.1" font-size="22.4" text-anchor="middle" font-weight="normal" fill="#231815" stroke="#231815" stroke-width="0.3">24</text>
<line x1="846.5" y1="452.5" x2="846.5" y2="457.5" stroke="#231815" stroke-width="1.15"/>
<line x1="846.5" y1="29.3" x2="846.5" y2="24.3" stroke="#231815" stroke-width="1.15"/>
<line x1="858.7" y1="452.5" x2="858.7" y2="457.5" stroke="#231815" stroke-width="1.15"/>
<line x1="858.7" y1="29.3" x2="858.7" y2="24.3" stroke="#231815" stroke-width="1.15"/>
<line x1="871" y1="452.5" x2="871" y2="457.5" stroke="#231815" stroke-width="1.15"/>
<line x1="871" y1="29.3" x2="871" y2="24.3" stroke="#231815" stroke-width="1.15"/>
<line x1="883.2" y1="452.5" x2="883.2" y2="457.5" stroke="#231815" stroke-width="1.15"/>
<line x1="883.2" y1="29.3" x2="883.2" y2="24.3" stroke="#231815" stroke-width="1.15"/>
<line x1="895.4" y1="452.5" x2="895.4" y2="457.5" stroke="#231815" stroke-width="1.15"/>
<line x1="895.4" y1="29.3" x2="895.4" y2="24.3" stroke="#231815" stroke-width="1.15"/>
<line x1="907.7" y1="452.5" x2="907.7" y2="457.5" stroke="#231815" stroke-width="1.15"/>
<line x1="907.7" y1="29.3" x2="907.7" y2="24.3" stroke="#231815" stroke-width="1.15"/>
<line x1="919.9" y1="452.5" x2="919.9" y2="457.5" stroke="#231815" stroke-width="1.15"/>
<line x1="919.9" y1="29.3" x2="919.9" y2="24.3" stroke="#231815" stroke-width="1.15"/>
<line x1="932.1" y1="452.5" x2="932.1" y2="457.5" stroke="#231815" stroke-width="1.15"/>
<line x1="932.1" y1="29.3" x2="932.1" y2="24.3" stroke="#231815" stroke-width="1.15"/>
<line x1="944.3" y1="452.5" x2="944.3" y2="457.5" stroke="#231815" stroke-width="1.15"/>
<line x1="944.3" y1="29.3" x2="944.3" y2="24.3" stroke="#231815" stroke-width="1.15"/>
<line x1="956.5" y1="452.5" x2="956.5" y2="462.1" stroke="#231815" stroke-width="1.15"/>
<line x1="956.5" y1="29.3" x2="956.5" y2="19.7" stroke="#231815" stroke-width="1.15"/>
<text x="956.5" y="487.1" font-size="22.4" text-anchor="middle" font-weight="normal" fill="#231815" stroke="#231815" stroke-width="0.3">26</text>
<line x1="968.8" y1="452.5" x2="968.8" y2="457.5" stroke="#231815" stroke-width="1.15"/>
<line x1="968.8" y1="29.3" x2="968.8" y2="24.3" stroke="#231815" stroke-width="1.15"/>
<line x1="981" y1="452.5" x2="981" y2="457.5" stroke="#231815" stroke-width="1.15"/>
<line x1="981" y1="29.3" x2="981" y2="24.3" stroke="#231815" stroke-width="1.15"/>
<line x1="993.2" y1="452.5" x2="993.2" y2="457.5" stroke="#231815" stroke-width="1.15"/>
<line x1="993.2" y1="29.3" x2="993.2" y2="24.3" stroke="#231815" stroke-width="1.15"/>
<line x1="1005.5" y1="452.5" x2="1005.5" y2="457.5" stroke="#231815" stroke-width="1.15"/>
<line x1="1005.5" y1="29.3" x2="1005.5" y2="24.3" stroke="#231815" stroke-width="1.15"/>
<line x1="1017.7" y1="452.5" x2="1017.7" y2="457.5" stroke="#231815" stroke-width="1.15"/>
<line x1="1017.7" y1="29.3" x2="1017.7" y2="24.3" stroke="#231815" stroke-width="1.15"/>
<line x1="1029.9" y1="452.5" x2="1029.9" y2="457.5" stroke="#231815" stroke-width="1.15"/>
<line x1="1029.9" y1="29.3" x2="1029.9" y2="24.3" stroke="#231815" stroke-width="1.15"/>
<line x1="1042.1" y1="452.5" x2="1042.1" y2="457.5" stroke="#231815" stroke-width="1.15"/>
<line x1="1042.1" y1="29.3" x2="1042.1" y2="24.3" stroke="#231815" stroke-width="1.15"/>
<line x1="1054.4" y1="452.5" x2="1054.4" y2="457.5" stroke="#231815" stroke-width="1.15"/>
<line x1="1054.4" y1="29.3" x2="1054.4" y2="24.3" stroke="#231815" stroke-width="1.15"/>
<line x1="1066.6" y1="452.5" x2="1066.6" y2="457.5" stroke="#231815" stroke-width="1.15"/>
<line x1="1066.6" y1="29.3" x2="1066.6" y2="24.3" stroke="#231815" stroke-width="1.15"/>
<line x1="1078.8" y1="452.5" x2="1078.8" y2="462.1" stroke="#231815" stroke-width="1.15"/>
<line x1="1078.8" y1="29.3" x2="1078.8" y2="19.7" stroke="#231815" stroke-width="1.15"/>
<text x="1078.8" y="487.1" font-size="22.4" text-anchor="middle" font-weight="normal" fill="#231815" stroke="#231815" stroke-width="0.3">28</text>
<line x1="100.8" y1="29.3" x2="91.2" y2="29.3" stroke="#231815" stroke-width="1.15"/>
<line x1="1078.8" y1="29.3" x2="1088.4" y2="29.3" stroke="#231815" stroke-width="1.15"/>
<text x="82.2" y="36.6" font-size="22.4" text-anchor="end" font-weight="normal" fill="#231815" stroke="#231815" stroke-width="0.3">−60</text>
<line x1="100.8" y1="41.4" x2="95.8" y2="41.4" stroke="#231815" stroke-width="1.15"/>
<line x1="1078.8" y1="41.4" x2="1083.8" y2="41.4" stroke="#231815" stroke-width="1.15"/>
<line x1="100.8" y1="53.5" x2="95.8" y2="53.5" stroke="#231815" stroke-width="1.15"/>
<line x1="1078.8" y1="53.5" x2="1083.8" y2="53.5" stroke="#231815" stroke-width="1.15"/>
<line x1="100.8" y1="65.6" x2="95.8" y2="65.6" stroke="#231815" stroke-width="1.15"/>
<line x1="1078.8" y1="65.6" x2="1083.8" y2="65.6" stroke="#231815" stroke-width="1.15"/>
<line x1="100.8" y1="77.7" x2="95.8" y2="77.7" stroke="#231815" stroke-width="1.15"/>
<line x1="1078.8" y1="77.7" x2="1083.8" y2="77.7" stroke="#231815" stroke-width="1.15"/>
<line x1="100.8" y1="89.8" x2="91.2" y2="89.8" stroke="#231815" stroke-width="1.15"/>
<line x1="1078.8" y1="89.8" x2="1088.4" y2="89.8" stroke="#231815" stroke-width="1.15"/>
<text x="82.2" y="97.1" font-size="22.4" text-anchor="end" font-weight="normal" fill="#231815" stroke="#231815" stroke-width="0.3">−70</text>
<line x1="100.8" y1="101.8" x2="95.8" y2="101.8" stroke="#231815" stroke-width="1.15"/>
<line x1="1078.8" y1="101.8" x2="1083.8" y2="101.8" stroke="#231815" stroke-width="1.15"/>
<line x1="100.8" y1="113.9" x2="95.8" y2="113.9" stroke="#231815" stroke-width="1.15"/>
<line x1="1078.8" y1="113.9" x2="1083.8" y2="113.9" stroke="#231815" stroke-width="1.15"/>
<line x1="100.8" y1="126" x2="95.8" y2="126" stroke="#231815" stroke-width="1.15"/>
<line x1="1078.8" y1="126" x2="1083.8" y2="126" stroke="#231815" stroke-width="1.15"/>
<line x1="100.8" y1="138.1" x2="95.8" y2="138.1" stroke="#231815" stroke-width="1.15"/>
<line x1="1078.8" y1="138.1" x2="1083.8" y2="138.1" stroke="#231815" stroke-width="1.15"/>
<line x1="100.8" y1="150.2" x2="91.2" y2="150.2" stroke="#231815" stroke-width="1.15"/>
<line x1="1078.8" y1="150.2" x2="1088.4" y2="150.2" stroke="#231815" stroke-width="1.15"/>
<text x="82.2" y="157.5" font-size="22.4" text-anchor="end" font-weight="normal" fill="#231815" stroke="#231815" stroke-width="0.3">−80</text>
<line x1="100.8" y1="162.3" x2="95.8" y2="162.3" stroke="#231815" stroke-width="1.15"/>
<line x1="1078.8" y1="162.3" x2="1083.8" y2="162.3" stroke="#231815" stroke-width="1.15"/>
<line x1="100.8" y1="174.4" x2="95.8" y2="174.4" stroke="#231815" stroke-width="1.15"/>
<line x1="1078.8" y1="174.4" x2="1083.8" y2="174.4" stroke="#231815" stroke-width="1.15"/>
<line x1="100.8" y1="186.5" x2="95.8" y2="186.5" stroke="#231815" stroke-width="1.15"/>
<line x1="1078.8" y1="186.5" x2="1083.8" y2="186.5" stroke="#231815" stroke-width="1.15"/>
<line x1="100.8" y1="198.6" x2="95.8" y2="198.6" stroke="#231815" stroke-width="1.15"/>
<line x1="1078.8" y1="198.6" x2="1083.8" y2="198.6" stroke="#231815" stroke-width="1.15"/>
<line x1="100.8" y1="210.7" x2="91.2" y2="210.7" stroke="#231815" stroke-width="1.15"/>
<line x1="1078.8" y1="210.7" x2="1088.4" y2="210.7" stroke="#231815" stroke-width="1.15"/>
<text x="82.2" y="218" font-size="22.4" text-anchor="end" font-weight="normal" fill="#231815" stroke="#231815" stroke-width="0.3">−90</text>
<line x1="100.8" y1="222.8" x2="95.8" y2="222.8" stroke="#231815" stroke-width="1.15"/>
<line x1="1078.8" y1="222.8" x2="1083.8" y2="222.8" stroke="#231815" stroke-width="1.15"/>
<line x1="100.8" y1="234.9" x2="95.8" y2="234.9" stroke="#231815" stroke-width="1.15"/>
<line x1="1078.8" y1="234.9" x2="1083.8" y2="234.9" stroke="#231815" stroke-width="1.15"/>
<line x1="100.8" y1="246.9" x2="95.8" y2="246.9" stroke="#231815" stroke-width="1.15"/>
<line x1="1078.8" y1="246.9" x2="1083.8" y2="246.9" stroke="#231815" stroke-width="1.15"/>
<line x1="100.8" y1="259" x2="95.8" y2="259" stroke="#231815" stroke-width="1.15"/>
<line x1="1078.8" y1="259" x2="1083.8" y2="259" stroke="#231815" stroke-width="1.15"/>
<line x1="100.8" y1="271.1" x2="91.2" y2="271.1" stroke="#231815" stroke-width="1.15"/>
<line x1="1078.8" y1="271.1" x2="1088.4" y2="271.1" stroke="#231815" stroke-width="1.15"/>
<text x="82.2" y="278.4" font-size="22.4" text-anchor="end" font-weight="normal" fill="#231815" stroke="#231815" stroke-width="0.3">−100</text>
<line x1="100.8" y1="283.2" x2="95.8" y2="283.2" stroke="#231815" stroke-width="1.15"/>
<line x1="1078.8" y1="283.2" x2="1083.8" y2="283.2" stroke="#231815" stroke-width="1.15"/>
<line x1="100.8" y1="295.3" x2="95.8" y2="295.3" stroke="#231815" stroke-width="1.15"/>
<line x1="1078.8" y1="295.3" x2="1083.8" y2="295.3" stroke="#231815" stroke-width="1.15"/>
<line x1="100.8" y1="307.4" x2="95.8" y2="307.4" stroke="#231815" stroke-width="1.15"/>
<line x1="1078.8" y1="307.4" x2="1083.8" y2="307.4" stroke="#231815" stroke-width="1.15"/>
<line x1="100.8" y1="319.5" x2="95.8" y2="319.5" stroke="#231815" stroke-width="1.15"/>
<line x1="1078.8" y1="319.5" x2="1083.8" y2="319.5" stroke="#231815" stroke-width="1.15"/>
<line x1="100.8" y1="331.6" x2="91.2" y2="331.6" stroke="#231815" stroke-width="1.15"/>
<line x1="1078.8" y1="331.6" x2="1088.4" y2="331.6" stroke="#231815" stroke-width="1.15"/>
<text x="82.2" y="338.9" font-size="22.4" text-anchor="end" font-weight="normal" fill="#231815" stroke="#231815" stroke-width="0.3">−110</text>
<line x1="100.8" y1="343.7" x2="95.8" y2="343.7" stroke="#231815" stroke-width="1.15"/>
<line x1="1078.8" y1="343.7" x2="1083.8" y2="343.7" stroke="#231815" stroke-width="1.15"/>
<line x1="100.8" y1="355.8" x2="95.8" y2="355.8" stroke="#231815" stroke-width="1.15"/>
<line x1="1078.8" y1="355.8" x2="1083.8" y2="355.8" stroke="#231815" stroke-width="1.15"/>
<line x1="100.8" y1="367.9" x2="95.8" y2="367.9" stroke="#231815" stroke-width="1.15"/>
<line x1="1078.8" y1="367.9" x2="1083.8" y2="367.9" stroke="#231815" stroke-width="1.15"/>
<line x1="100.8" y1="380" x2="95.8" y2="380" stroke="#231815" stroke-width="1.15"/>
<line x1="1078.8" y1="380" x2="1083.8" y2="380" stroke="#231815" stroke-width="1.15"/>
<line x1="100.8" y1="392" x2="91.2" y2="392" stroke="#231815" stroke-width="1.15"/>
<line x1="1078.8" y1="392" x2="1088.4" y2="392" stroke="#231815" stroke-width="1.15"/>
<text x="82.2" y="399.3" font-size="22.4" text-anchor="end" font-weight="normal" fill="#231815" stroke="#231815" stroke-width="0.3">−120</text>
<line x1="100.8" y1="404.1" x2="95.8" y2="404.1" stroke="#231815" stroke-width="1.15"/>
<line x1="1078.8" y1="404.1" x2="1083.8" y2="404.1" stroke="#231815" stroke-width="1.15"/>
<line x1="100.8" y1="416.2" x2="95.8" y2="416.2" stroke="#231815" stroke-width="1.15"/>
<line x1="1078.8" y1="416.2" x2="1083.8" y2="416.2" stroke="#231815" stroke-width="1.15"/>
<line x1="100.8" y1="428.3" x2="95.8" y2="428.3" stroke="#231815" stroke-width="1.15"/>
<line x1="1078.8" y1="428.3" x2="1083.8" y2="428.3" stroke="#231815" stroke-width="1.15"/>
<line x1="100.8" y1="440.4" x2="95.8" y2="440.4" stroke="#231815" stroke-width="1.15"/>
<line x1="1078.8" y1="440.4" x2="1083.8" y2="440.4" stroke="#231815" stroke-width="1.15"/>
<line x1="100.8" y1="452.5" x2="91.2" y2="452.5" stroke="#231815" stroke-width="1.15"/>
<line x1="1078.8" y1="452.5" x2="1088.4" y2="452.5" stroke="#231815" stroke-width="1.15"/>
<text x="82.2" y="459.8" font-size="22.4" text-anchor="end" font-weight="normal" fill="#231815" stroke="#231815" stroke-width="0.3">−130</text>
<rect x="100.8" y="29.3" width="978" height="423.2" fill="none" stroke="#000000" stroke-width="2.2"/>
<text x="589.8" y="517.8" font-size="22.2" text-anchor="middle" font-weight="normal" fill="#231815" stroke="#231815" stroke-width="0.3">Age (cal kyr BP)</text>
<text x="17.3" y="241.9" font-size="22.2" text-anchor="middle" font-weight="normal" fill="#231815" transform="rotate(-90 17.3 241.9)" stroke="#231815" stroke-width="0.3">Sea level (m)</text>
<text x="12.8" y="15.9" font-size="29.5" text-anchor="start" font-weight="bold" fill="#000000">a</text>
<clipPath id="cb"><rect x="100.6" y="558.5" width="978" height="423"/></clipPath>
<g clip-path="url(#cb)">
<line x1="279.8" y1="492.9" x2="279.8" y2="756.6" stroke="#666666" stroke-width="1.35"/>
<line x1="210.1" y1="756.6" x2="349.3" y2="756.6" stroke="#666666" stroke-width="1.35"/>
<line x1="305" y1="517.3" x2="305" y2="782.1" stroke="#666666" stroke-width="1.35"/>
<line x1="227.7" y1="782.1" x2="381.8" y2="782.1" stroke="#666666" stroke-width="1.35"/>
<line x1="518.1" y1="639.7" x2="518.1" y2="903.9" stroke="#666666" stroke-width="1.35"/>
<line x1="386.2" y1="903.9" x2="650" y2="903.9" stroke="#666666" stroke-width="1.35"/>
<line x1="699.9" y1="623.9" x2="699.9" y2="888.2" stroke="#666666" stroke-width="1.35"/>
<line x1="584.4" y1="888.2" x2="815.9" y2="888.2" stroke="#666666" stroke-width="1.35"/>
<line x1="915" y1="626.1" x2="915" y2="890.6" stroke="#666666" stroke-width="1.35"/>
<line x1="824.9" y1="890.6" x2="1005.7" y2="890.6" stroke="#666666" stroke-width="1.35"/>
<line x1="1025.7" y1="643" x2="1025.7" y2="907.4" stroke="#666666" stroke-width="1.35"/>
<line x1="912.1" y1="907.4" x2="1140.3" y2="907.4" stroke="#666666" stroke-width="1.35"/>
<line x1="377.6" y1="857.3" x2="377.6" y2="898.9" stroke="#666666" stroke-width="1.35"/>
<line x1="266" y1="878.5" x2="489.2" y2="878.5" stroke="#666666" stroke-width="1.35"/>
<line x1="473.9" y1="857.3" x2="473.9" y2="898.9" stroke="#666666" stroke-width="1.35"/>
<line x1="373.8" y1="878.5" x2="575" y2="878.5" stroke="#666666" stroke-width="1.35"/>
<line x1="539.3" y1="857.3" x2="539.3" y2="898.9" stroke="#666666" stroke-width="1.35"/>
<line x1="457.7" y1="878.5" x2="620.9" y2="878.5" stroke="#666666" stroke-width="1.35"/>
<line x1="894.4" y1="487.6" x2="894.4" y2="751.9" stroke="#666666" stroke-width="1.35"/>
<line x1="844.5" y1="751.9" x2="942.8" y2="751.9" stroke="#666666" stroke-width="1.35"/>
<polyline points="-1366.4,259.2 -854.2,374.5 -804,484.5 -752.7,557.4 -603.6,584.9 -268.6,709.7 100.6,788 345.1,887.4 589.6,784.8 834.1,731.9 2301.1,765.8 2545.6,680.1" fill="none" stroke="#000000" stroke-width="2.3" stroke-linejoin="miter"/>
<polyline points="-1366.4,256.1 -860.3,383 -804,500.3 -755.1,575.4 -610.9,602.9 -268.6,742.5 12.6,804.9 100.6,821.3 345.1,918 589.6,809.7 834.1,756.3 2313.3,756.3 2545.6,665.3" fill="none" stroke="#000000" stroke-width="2.3" stroke-dasharray="22 7.16" stroke-dashoffset="0.51"/>
<circle cx="279.8" cy="756.6" r="5.4" fill="#fff" stroke="#666666" stroke-width="1.3"/>
<circle cx="305" cy="782.1" r="5.4" fill="#fff" stroke="#666666" stroke-width="1.3"/>
<circle cx="518.1" cy="903.9" r="5.4" fill="#fff" stroke="#666666" stroke-width="1.3"/>
<circle cx="699.9" cy="888.2" r="5.4" fill="#fff" stroke="#666666" stroke-width="1.3"/>
<circle cx="915" cy="890.6" r="5.4" fill="#fff" stroke="#666666" stroke-width="1.3"/>
<circle cx="1025.7" cy="907.4" r="5.4" fill="#fff" stroke="#666666" stroke-width="1.3"/>
<rect x="373.7" y="874.6" width="7.8" height="7.8" fill="#fff" stroke="#666666" stroke-width="1.3"/>
<rect x="470" y="874.6" width="7.8" height="7.8" fill="#fff" stroke="#666666" stroke-width="1.3"/>
<rect x="535.4" y="874.6" width="7.8" height="7.8" fill="#fff" stroke="#666666" stroke-width="1.3"/>
<polygon points="889.2,751.9 894.4,746.7 899.6,751.9 894.4,757.1" fill="#fff" stroke="#666666" stroke-width="1.3" stroke-linejoin="miter"/>
<line x1="249.4" y1="882.5" x2="314" y2="882.5" stroke="#f39a1e" stroke-width="1.4"/>
<line x1="301.7" y1="883.1" x2="364.1" y2="883.1" stroke="#f39a1e" stroke-width="1.4"/>
<line x1="321.2" y1="884.2" x2="364.1" y2="884.2" stroke="#f39a1e" stroke-width="1.4"/>
<line x1="331.2" y1="889.4" x2="381" y2="889.4" stroke="#f39a1e" stroke-width="1.4"/>
<line x1="339.8" y1="893.4" x2="430.2" y2="893.4" stroke="#f39a1e" stroke-width="1.4"/>
<line x1="375.3" y1="897.9" x2="480" y2="897.9" stroke="#f39a1e" stroke-width="1.4"/>
<line x1="428" y1="899.5" x2="542.2" y2="899.5" stroke="#f39a1e" stroke-width="1.4"/>
<line x1="465.6" y1="903.9" x2="568.9" y2="903.9" stroke="#f39a1e" stroke-width="1.4"/>
<line x1="508.3" y1="905" x2="597.9" y2="905" stroke="#f39a1e" stroke-width="1.4"/>
<line x1="535.6" y1="905.7" x2="597.9" y2="905.7" stroke="#f39a1e" stroke-width="1.4"/>
<line x1="673.4" y1="907" x2="740.1" y2="907" stroke="#f39a1e" stroke-width="1.4"/>
<line x1="699.2" y1="909.4" x2="756.5" y2="909.4" stroke="#f39a1e" stroke-width="1.4"/>
<line x1="713.2" y1="913.7" x2="758" y2="913.7" stroke="#f39a1e" stroke-width="1.4"/>
<line x1="743.9" y1="920.7" x2="848" y2="920.7" stroke="#f39a1e" stroke-width="1.4"/>
<line x1="463.9" y1="843.1" x2="543.5" y2="843.1" stroke="#f39a1e" stroke-width="1.4"/>
<line x1="495.6" y1="843.5" x2="582.6" y2="843.5" stroke="#f39a1e" stroke-width="1.4"/>
<line x1="714.6" y1="855.8" x2="793.1" y2="855.8" stroke="#f39a1e" stroke-width="1.4"/>
<line x1="741.1" y1="868.3" x2="804.7" y2="868.3" stroke="#f39a1e" stroke-width="1.4"/>
<line x1="533" y1="821.9" x2="617.4" y2="821.9" stroke="#f39a1e" stroke-width="1.4"/>
<line x1="561.9" y1="823" x2="645.8" y2="823" stroke="#f39a1e" stroke-width="1.4"/>
<line x1="592.5" y1="824.3" x2="682.2" y2="824.3" stroke="#f39a1e" stroke-width="1.4"/>
<line x1="638.8" y1="825.6" x2="715.4" y2="825.6" stroke="#f39a1e" stroke-width="1.4"/>
<line x1="802.1" y1="831.7" x2="890" y2="831.7" stroke="#f39a1e" stroke-width="1.4"/>
<line x1="829.7" y1="831.7" x2="906.2" y2="831.7" stroke="#f39a1e" stroke-width="1.4"/>
<line x1="848.5" y1="831.7" x2="943.8" y2="831.7" stroke="#f39a1e" stroke-width="1.4"/>
<line x1="888.7" y1="842.2" x2="971.2" y2="842.2" stroke="#f39a1e" stroke-width="1.4"/>
<line x1="916.7" y1="852.9" x2="990.7" y2="852.9" stroke="#f39a1e" stroke-width="1.4"/>
<line x1="640.6" y1="789.9" x2="716.7" y2="789.9" stroke="#f39a1e" stroke-width="1.4"/>
<line x1="811.3" y1="800.2" x2="901.9" y2="800.2" stroke="#f39a1e" stroke-width="1.4"/>
<line x1="862" y1="804.8" x2="930.9" y2="804.8" stroke="#f39a1e" stroke-width="1.4"/>
<line x1="882.2" y1="808.5" x2="935.3" y2="808.5" stroke="#f39a1e" stroke-width="1.4"/>
<line x1="655" y1="809.9" x2="735.5" y2="809.9" stroke="#f39a1e" stroke-width="1.4"/>
<line x1="718.1" y1="809.9" x2="790.7" y2="809.9" stroke="#f39a1e" stroke-width="1.4"/>
<line x1="735.6" y1="810.3" x2="805.6" y2="810.3" stroke="#f39a1e" stroke-width="1.4"/>
<line x1="782.7" y1="812.9" x2="803.6" y2="812.9" stroke="#f39a1e" stroke-width="1.4"/>
<line x1="782.7" y1="813.4" x2="814.8" y2="813.4" stroke="#f39a1e" stroke-width="1.4"/>
<line x1="281.7" y1="724.5" x2="281.7" y2="882.5" stroke="#e62d17" stroke-width="1.25"/>
<line x1="275.2" y1="882.5" x2="288.2" y2="882.5" stroke="#e62d17" stroke-width="1.8"/>
<line x1="332.9" y1="725.1" x2="332.9" y2="883.1" stroke="#e62d17" stroke-width="1.25"/>
<line x1="326.4" y1="883.1" x2="339.4" y2="883.1" stroke="#e62d17" stroke-width="1.8"/>
<line x1="342.7" y1="726.3" x2="342.7" y2="884.2" stroke="#e62d17" stroke-width="1.25"/>
<line x1="336.2" y1="884.2" x2="349.2" y2="884.2" stroke="#e62d17" stroke-width="1.8"/>
<line x1="356.1" y1="731.1" x2="356.1" y2="889.4" stroke="#e62d17" stroke-width="1.25"/>
<line x1="349.6" y1="889.4" x2="362.6" y2="889.4" stroke="#e62d17" stroke-width="1.8"/>
<line x1="385" y1="734.8" x2="385" y2="893.4" stroke="#e62d17" stroke-width="1.25"/>
<line x1="378.5" y1="893.4" x2="391.5" y2="893.4" stroke="#e62d17" stroke-width="1.8"/>
<line x1="427.6" y1="739.7" x2="427.6" y2="897.9" stroke="#e62d17" stroke-width="1.25"/>
<line x1="421.1" y1="897.9" x2="434.1" y2="897.9" stroke="#e62d17" stroke-width="1.8"/>
<line x1="485.1" y1="741" x2="485.1" y2="899.5" stroke="#e62d17" stroke-width="1.25"/>
<line x1="478.6" y1="899.5" x2="491.6" y2="899.5" stroke="#e62d17" stroke-width="1.8"/>
<line x1="517.2" y1="745.8" x2="517.2" y2="903.9" stroke="#e62d17" stroke-width="1.25"/>
<line x1="510.7" y1="903.9" x2="523.7" y2="903.9" stroke="#e62d17" stroke-width="1.8"/>
<line x1="553.1" y1="746.4" x2="553.1" y2="905" stroke="#e62d17" stroke-width="1.25"/>
<line x1="546.6" y1="905" x2="559.6" y2="905" stroke="#e62d17" stroke-width="1.8"/>
<line x1="566.7" y1="747.7" x2="566.7" y2="905.7" stroke="#e62d17" stroke-width="1.25"/>
<line x1="560.2" y1="905.7" x2="573.2" y2="905.7" stroke="#e62d17" stroke-width="1.8"/>
<line x1="706.6" y1="748.6" x2="706.6" y2="907" stroke="#e62d17" stroke-width="1.25"/>
<line x1="700.1" y1="907" x2="713.1" y2="907" stroke="#e62d17" stroke-width="1.8"/>
<line x1="727.6" y1="750.8" x2="727.6" y2="909.4" stroke="#e62d17" stroke-width="1.25"/>
<line x1="721.1" y1="909.4" x2="734.1" y2="909.4" stroke="#e62d17" stroke-width="1.8"/>
<line x1="735.7" y1="755.2" x2="735.7" y2="913.7" stroke="#e62d17" stroke-width="1.25"/>
<line x1="729.2" y1="913.7" x2="742.2" y2="913.7" stroke="#e62d17" stroke-width="1.8"/>
<line x1="795.8" y1="762.6" x2="795.8" y2="920.7" stroke="#e62d17" stroke-width="1.25"/>
<line x1="789.3" y1="920.7" x2="802.3" y2="920.7" stroke="#e62d17" stroke-width="1.8"/>
<line x1="503.7" y1="684.7" x2="503.7" y2="843.1" stroke="#e62d17" stroke-width="1.25"/>
<polygon points="497.8,847.4 509.6,847.4 503.7,837.2" fill="#e62d17" stroke="none" stroke-width="0" stroke-linejoin="miter"/>
<line x1="539.1" y1="685.2" x2="539.1" y2="843.5" stroke="#e62d17" stroke-width="1.25"/>
<polygon points="533.2,847.8 545,847.8 539.1,837.6" fill="#e62d17" stroke="none" stroke-width="0" stroke-linejoin="miter"/>
<line x1="754.4" y1="696.6" x2="754.4" y2="855.8" stroke="#e62d17" stroke-width="1.25"/>
<polygon points="748.5,860.1 760.3,860.1 754.4,849.9" fill="#e62d17" stroke="none" stroke-width="0" stroke-linejoin="miter"/>
<line x1="772.6" y1="710.1" x2="772.6" y2="868.3" stroke="#e62d17" stroke-width="1.25"/>
<polygon points="766.7,872.5 778.5,872.5 772.6,862.3" fill="#e62d17" stroke="none" stroke-width="0" stroke-linejoin="miter"/>
<line x1="575.2" y1="663.3" x2="575.2" y2="821.9" stroke="#e62d17" stroke-width="1.25"/>
<polygon points="568.8,821.9 575.2,815.5 581.6,821.9 575.2,828.3" fill="#e62d17" stroke="none" stroke-width="0" stroke-linejoin="miter"/>
<line x1="603.8" y1="664.4" x2="603.8" y2="823" stroke="#e62d17" stroke-width="1.25"/>
<polygon points="597.4,823 603.8,816.6 610.2,823 603.8,829.4" fill="#e62d17" stroke="none" stroke-width="0" stroke-linejoin="miter"/>
<line x1="637.1" y1="665.5" x2="637.1" y2="824.3" stroke="#e62d17" stroke-width="1.25"/>
<polygon points="630.7,824.3 637.1,817.9 643.5,824.3 637.1,830.7" fill="#e62d17" stroke="none" stroke-width="0" stroke-linejoin="miter"/>
<line x1="677.1" y1="667" x2="677.1" y2="825.6" stroke="#e62d17" stroke-width="1.25"/>
<polygon points="670.7,825.6 677.1,819.2 683.5,825.6 677.1,832" fill="#e62d17" stroke="none" stroke-width="0" stroke-linejoin="miter"/>
<line x1="846.1" y1="673.1" x2="846.1" y2="831.7" stroke="#e62d17" stroke-width="1.25"/>
<polygon points="839.7,831.7 846.1,825.3 852.5,831.7 846.1,838.1" fill="#e62d17" stroke="none" stroke-width="0" stroke-linejoin="miter"/>
<line x1="868" y1="673.1" x2="868" y2="831.7" stroke="#e62d17" stroke-width="1.25"/>
<polygon points="861.6,831.7 868,825.3 874.4,831.7 868,838.1" fill="#e62d17" stroke="none" stroke-width="0" stroke-linejoin="miter"/>
<line x1="896.2" y1="673.1" x2="896.2" y2="831.7" stroke="#e62d17" stroke-width="1.25"/>
<polygon points="889.8,831.7 896.2,825.3 902.6,831.7 896.2,838.1" fill="#e62d17" stroke="none" stroke-width="0" stroke-linejoin="miter"/>
<line x1="929.6" y1="683.6" x2="929.6" y2="842.2" stroke="#e62d17" stroke-width="1.25"/>
<polygon points="923.2,842.2 929.6,835.8 936,842.2 929.6,848.6" fill="#e62d17" stroke="none" stroke-width="0" stroke-linejoin="miter"/>
<line x1="953.7" y1="694.4" x2="953.7" y2="852.9" stroke="#e62d17" stroke-width="1.25"/>
<polygon points="947.3,852.9 953.7,846.5 960.1,852.9 953.7,859.3" fill="#e62d17" stroke="none" stroke-width="0" stroke-linejoin="miter"/>
<line x1="678.7" y1="631.4" x2="678.7" y2="789.9" stroke="#e62d17" stroke-width="1.25"/>
<rect x="674.1" y="785.3" width="9.2" height="9.2" fill="#e62d17" stroke="none" stroke-width="0"/>
<line x1="856.4" y1="641.4" x2="856.4" y2="800.2" stroke="#e62d17" stroke-width="1.25"/>
<rect x="851.8" y="795.6" width="9.2" height="9.2" fill="#e62d17" stroke="none" stroke-width="0"/>
<line x1="896.6" y1="646.2" x2="896.6" y2="804.8" stroke="#e62d17" stroke-width="1.25"/>
<rect x="892" y="800.2" width="9.2" height="9.2" fill="#e62d17" stroke="none" stroke-width="0"/>
<line x1="908.6" y1="650.2" x2="908.6" y2="808.5" stroke="#e62d17" stroke-width="1.25"/>
<rect x="904" y="803.9" width="9.2" height="9.2" fill="#e62d17" stroke="none" stroke-width="0"/>
<line x1="695.3" y1="651.7" x2="695.3" y2="809.9" stroke="#e62d17" stroke-width="1.25"/>
<polygon points="695.3,803.4 701.8,808.1 699.3,815.8 691.2,815.8 688.7,808.1" fill="#e62d17" stroke="none" stroke-width="0" stroke-linejoin="miter"/>
<line x1="754.4" y1="651.7" x2="754.4" y2="809.9" stroke="#e62d17" stroke-width="1.25"/>
<polygon points="754.4,803.4 761,808.1 758.5,815.8 750.4,815.8 747.9,808.1" fill="#e62d17" stroke="none" stroke-width="0" stroke-linejoin="miter"/>
<line x1="770.6" y1="652.2" x2="770.6" y2="810.3" stroke="#e62d17" stroke-width="1.25"/>
<polygon points="770.6,803.8 777.2,808.6 774.7,816.3 766.6,816.3 764.1,808.6" fill="#e62d17" stroke="none" stroke-width="0" stroke-linejoin="miter"/>
<line x1="793.1" y1="654.3" x2="793.1" y2="812.9" stroke="#e62d17" stroke-width="1.25"/>
<polygon points="793.1,806.4 799.7,811.2 797.2,818.9 789.1,818.9 786.6,811.2" fill="#e62d17" stroke="none" stroke-width="0" stroke-linejoin="miter"/>
<line x1="798.6" y1="655.4" x2="798.6" y2="813.4" stroke="#e62d17" stroke-width="1.25"/>
<polygon points="798.6,806.9 805.2,811.6 802.7,819.3 794.6,819.3 792.1,811.6" fill="#e62d17" stroke="none" stroke-width="0" stroke-linejoin="miter"/>
<rect x="368.2" y="951.3" width="148.4" height="25.8" fill="#55b9e9"/>
<rect x="686.7" y="951.4" width="390.4" height="25.8" fill="#1b2a72"/>
<text x="442.4" y="971.6" font-size="22" text-anchor="middle" font-weight="bold" fill="#000000">minimum</text>
<text x="896" y="971.4" font-size="22" text-anchor="middle" font-weight="bold" fill="#fff">plateau</text>
</g>
<text x="663.3" y="783" font-size="27.5" text-anchor="middle" font-weight="normal" fill="#000000" stroke="#000000" stroke-width="0.3">Y</text>
<text x="713.3" y="939.3" font-size="27.5" text-anchor="middle" font-weight="normal" fill="#000000" stroke="#000000" stroke-width="0.3">X</text>
<line x1="100.6" y1="981.5" x2="100.6" y2="991.1" stroke="#231815" stroke-width="1.15"/>
<line x1="100.6" y1="558.5" x2="100.6" y2="548.9" stroke="#231815" stroke-width="1.15"/>
<text x="100.6" y="1016.1" font-size="22.4" text-anchor="middle" font-weight="normal" fill="#231815" stroke="#231815" stroke-width="0.3">18.0</text>
<line x1="125.1" y1="981.5" x2="125.1" y2="986.5" stroke="#231815" stroke-width="1.15"/>
<line x1="125.1" y1="558.5" x2="125.1" y2="553.5" stroke="#231815" stroke-width="1.15"/>
<line x1="149.5" y1="981.5" x2="149.5" y2="986.5" stroke="#231815" stroke-width="1.15"/>
<line x1="149.5" y1="558.5" x2="149.5" y2="553.5" stroke="#231815" stroke-width="1.15"/>
<line x1="174" y1="981.5" x2="174" y2="986.5" stroke="#231815" stroke-width="1.15"/>
<line x1="174" y1="558.5" x2="174" y2="553.5" stroke="#231815" stroke-width="1.15"/>
<line x1="198.4" y1="981.5" x2="198.4" y2="986.5" stroke="#231815" stroke-width="1.15"/>
<line x1="198.4" y1="558.5" x2="198.4" y2="553.5" stroke="#231815" stroke-width="1.15"/>
<line x1="222.8" y1="981.5" x2="222.8" y2="991.1" stroke="#231815" stroke-width="1.15"/>
<line x1="222.8" y1="558.5" x2="222.8" y2="548.9" stroke="#231815" stroke-width="1.15"/>
<text x="222.8" y="1016.1" font-size="22.4" text-anchor="middle" font-weight="normal" fill="#231815" stroke="#231815" stroke-width="0.3">18.5</text>
<line x1="247.3" y1="981.5" x2="247.3" y2="986.5" stroke="#231815" stroke-width="1.15"/>
<line x1="247.3" y1="558.5" x2="247.3" y2="553.5" stroke="#231815" stroke-width="1.15"/>
<line x1="271.7" y1="981.5" x2="271.7" y2="986.5" stroke="#231815" stroke-width="1.15"/>
<line x1="271.7" y1="558.5" x2="271.7" y2="553.5" stroke="#231815" stroke-width="1.15"/>
<line x1="296.2" y1="981.5" x2="296.2" y2="986.5" stroke="#231815" stroke-width="1.15"/>
<line x1="296.2" y1="558.5" x2="296.2" y2="553.5" stroke="#231815" stroke-width="1.15"/>
<line x1="320.6" y1="981.5" x2="320.6" y2="986.5" stroke="#231815" stroke-width="1.15"/>
<line x1="320.6" y1="558.5" x2="320.6" y2="553.5" stroke="#231815" stroke-width="1.15"/>
<line x1="345.1" y1="981.5" x2="345.1" y2="991.1" stroke="#231815" stroke-width="1.15"/>
<line x1="345.1" y1="558.5" x2="345.1" y2="548.9" stroke="#231815" stroke-width="1.15"/>
<text x="345.1" y="1016.1" font-size="22.4" text-anchor="middle" font-weight="normal" fill="#231815" stroke="#231815" stroke-width="0.3">19.0</text>
<line x1="369.6" y1="981.5" x2="369.6" y2="986.5" stroke="#231815" stroke-width="1.15"/>
<line x1="369.6" y1="558.5" x2="369.6" y2="553.5" stroke="#231815" stroke-width="1.15"/>
<line x1="394" y1="981.5" x2="394" y2="986.5" stroke="#231815" stroke-width="1.15"/>
<line x1="394" y1="558.5" x2="394" y2="553.5" stroke="#231815" stroke-width="1.15"/>
<line x1="418.5" y1="981.5" x2="418.5" y2="986.5" stroke="#231815" stroke-width="1.15"/>
<line x1="418.5" y1="558.5" x2="418.5" y2="553.5" stroke="#231815" stroke-width="1.15"/>
<line x1="442.9" y1="981.5" x2="442.9" y2="986.5" stroke="#231815" stroke-width="1.15"/>
<line x1="442.9" y1="558.5" x2="442.9" y2="553.5" stroke="#231815" stroke-width="1.15"/>
<line x1="467.3" y1="981.5" x2="467.3" y2="991.1" stroke="#231815" stroke-width="1.15"/>
<line x1="467.3" y1="558.5" x2="467.3" y2="548.9" stroke="#231815" stroke-width="1.15"/>
<text x="467.3" y="1016.1" font-size="22.4" text-anchor="middle" font-weight="normal" fill="#231815" stroke="#231815" stroke-width="0.3">19.5</text>
<line x1="491.8" y1="981.5" x2="491.8" y2="986.5" stroke="#231815" stroke-width="1.15"/>
<line x1="491.8" y1="558.5" x2="491.8" y2="553.5" stroke="#231815" stroke-width="1.15"/>
<line x1="516.2" y1="981.5" x2="516.2" y2="986.5" stroke="#231815" stroke-width="1.15"/>
<line x1="516.2" y1="558.5" x2="516.2" y2="553.5" stroke="#231815" stroke-width="1.15"/>
<line x1="540.7" y1="981.5" x2="540.7" y2="986.5" stroke="#231815" stroke-width="1.15"/>
<line x1="540.7" y1="558.5" x2="540.7" y2="553.5" stroke="#231815" stroke-width="1.15"/>
<line x1="565.1" y1="981.5" x2="565.1" y2="986.5" stroke="#231815" stroke-width="1.15"/>
<line x1="565.1" y1="558.5" x2="565.1" y2="553.5" stroke="#231815" stroke-width="1.15"/>
<line x1="589.6" y1="981.5" x2="589.6" y2="991.1" stroke="#231815" stroke-width="1.15"/>
<line x1="589.6" y1="558.5" x2="589.6" y2="548.9" stroke="#231815" stroke-width="1.15"/>
<text x="589.6" y="1016.1" font-size="22.4" text-anchor="middle" font-weight="normal" fill="#231815" stroke="#231815" stroke-width="0.3">20.0</text>
<line x1="614.1" y1="981.5" x2="614.1" y2="986.5" stroke="#231815" stroke-width="1.15"/>
<line x1="614.1" y1="558.5" x2="614.1" y2="553.5" stroke="#231815" stroke-width="1.15"/>
<line x1="638.5" y1="981.5" x2="638.5" y2="986.5" stroke="#231815" stroke-width="1.15"/>
<line x1="638.5" y1="558.5" x2="638.5" y2="553.5" stroke="#231815" stroke-width="1.15"/>
<line x1="663" y1="981.5" x2="663" y2="986.5" stroke="#231815" stroke-width="1.15"/>
<line x1="663" y1="558.5" x2="663" y2="553.5" stroke="#231815" stroke-width="1.15"/>
<line x1="687.4" y1="981.5" x2="687.4" y2="986.5" stroke="#231815" stroke-width="1.15"/>
<line x1="687.4" y1="558.5" x2="687.4" y2="553.5" stroke="#231815" stroke-width="1.15"/>
<line x1="711.8" y1="981.5" x2="711.8" y2="991.1" stroke="#231815" stroke-width="1.15"/>
<line x1="711.8" y1="558.5" x2="711.8" y2="548.9" stroke="#231815" stroke-width="1.15"/>
<text x="711.8" y="1016.1" font-size="22.4" text-anchor="middle" font-weight="normal" fill="#231815" stroke="#231815" stroke-width="0.3">20.5</text>
<line x1="736.3" y1="981.5" x2="736.3" y2="986.5" stroke="#231815" stroke-width="1.15"/>
<line x1="736.3" y1="558.5" x2="736.3" y2="553.5" stroke="#231815" stroke-width="1.15"/>
<line x1="760.7" y1="981.5" x2="760.7" y2="986.5" stroke="#231815" stroke-width="1.15"/>
<line x1="760.7" y1="558.5" x2="760.7" y2="553.5" stroke="#231815" stroke-width="1.15"/>
<line x1="785.2" y1="981.5" x2="785.2" y2="986.5" stroke="#231815" stroke-width="1.15"/>
<line x1="785.2" y1="558.5" x2="785.2" y2="553.5" stroke="#231815" stroke-width="1.15"/>
<line x1="809.6" y1="981.5" x2="809.6" y2="986.5" stroke="#231815" stroke-width="1.15"/>
<line x1="809.6" y1="558.5" x2="809.6" y2="553.5" stroke="#231815" stroke-width="1.15"/>
<line x1="834.1" y1="981.5" x2="834.1" y2="991.1" stroke="#231815" stroke-width="1.15"/>
<line x1="834.1" y1="558.5" x2="834.1" y2="548.9" stroke="#231815" stroke-width="1.15"/>
<text x="834.1" y="1016.1" font-size="22.4" text-anchor="middle" font-weight="normal" fill="#231815" stroke="#231815" stroke-width="0.3">21.0</text>
<line x1="858.6" y1="981.5" x2="858.6" y2="986.5" stroke="#231815" stroke-width="1.15"/>
<line x1="858.6" y1="558.5" x2="858.6" y2="553.5" stroke="#231815" stroke-width="1.15"/>
<line x1="883" y1="981.5" x2="883" y2="986.5" stroke="#231815" stroke-width="1.15"/>
<line x1="883" y1="558.5" x2="883" y2="553.5" stroke="#231815" stroke-width="1.15"/>
<line x1="907.5" y1="981.5" x2="907.5" y2="986.5" stroke="#231815" stroke-width="1.15"/>
<line x1="907.5" y1="558.5" x2="907.5" y2="553.5" stroke="#231815" stroke-width="1.15"/>
<line x1="931.9" y1="981.5" x2="931.9" y2="986.5" stroke="#231815" stroke-width="1.15"/>
<line x1="931.9" y1="558.5" x2="931.9" y2="553.5" stroke="#231815" stroke-width="1.15"/>
<line x1="956.3" y1="981.5" x2="956.3" y2="991.1" stroke="#231815" stroke-width="1.15"/>
<line x1="956.3" y1="558.5" x2="956.3" y2="548.9" stroke="#231815" stroke-width="1.15"/>
<text x="956.3" y="1016.1" font-size="22.4" text-anchor="middle" font-weight="normal" fill="#231815" stroke="#231815" stroke-width="0.3">21.5</text>
<line x1="980.8" y1="981.5" x2="980.8" y2="986.5" stroke="#231815" stroke-width="1.15"/>
<line x1="980.8" y1="558.5" x2="980.8" y2="553.5" stroke="#231815" stroke-width="1.15"/>
<line x1="1005.2" y1="981.5" x2="1005.2" y2="986.5" stroke="#231815" stroke-width="1.15"/>
<line x1="1005.2" y1="558.5" x2="1005.2" y2="553.5" stroke="#231815" stroke-width="1.15"/>
<line x1="1029.7" y1="981.5" x2="1029.7" y2="986.5" stroke="#231815" stroke-width="1.15"/>
<line x1="1029.7" y1="558.5" x2="1029.7" y2="553.5" stroke="#231815" stroke-width="1.15"/>
<line x1="1054.1" y1="981.5" x2="1054.1" y2="986.5" stroke="#231815" stroke-width="1.15"/>
<line x1="1054.1" y1="558.5" x2="1054.1" y2="553.5" stroke="#231815" stroke-width="1.15"/>
<line x1="1078.6" y1="981.5" x2="1078.6" y2="991.1" stroke="#231815" stroke-width="1.15"/>
<line x1="1078.6" y1="558.5" x2="1078.6" y2="548.9" stroke="#231815" stroke-width="1.15"/>
<text x="1078.6" y="1016.1" font-size="22.4" text-anchor="middle" font-weight="normal" fill="#231815" stroke="#231815" stroke-width="0.3">22.0</text>
<line x1="100.6" y1="558.5" x2="91" y2="558.5" stroke="#231815" stroke-width="1.15"/>
<line x1="1078.6" y1="558.5" x2="1088.2" y2="558.5" stroke="#231815" stroke-width="1.15"/>
<text x="82" y="565.8" font-size="22.4" text-anchor="end" font-weight="normal" fill="#231815" stroke="#231815" stroke-width="0.3">−90</text>
<line x1="100.6" y1="569.1" x2="95.6" y2="569.1" stroke="#231815" stroke-width="1.15"/>
<line x1="1078.6" y1="569.1" x2="1083.6" y2="569.1" stroke="#231815" stroke-width="1.15"/>
<line x1="100.6" y1="579.6" x2="95.6" y2="579.6" stroke="#231815" stroke-width="1.15"/>
<line x1="1078.6" y1="579.6" x2="1083.6" y2="579.6" stroke="#231815" stroke-width="1.15"/>
<line x1="100.6" y1="590.2" x2="95.6" y2="590.2" stroke="#231815" stroke-width="1.15"/>
<line x1="1078.6" y1="590.2" x2="1083.6" y2="590.2" stroke="#231815" stroke-width="1.15"/>
<line x1="100.6" y1="600.8" x2="95.6" y2="600.8" stroke="#231815" stroke-width="1.15"/>
<line x1="1078.6" y1="600.8" x2="1083.6" y2="600.8" stroke="#231815" stroke-width="1.15"/>
<line x1="100.6" y1="611.4" x2="95.6" y2="611.4" stroke="#231815" stroke-width="1.15"/>
<line x1="1078.6" y1="611.4" x2="1083.6" y2="611.4" stroke="#231815" stroke-width="1.15"/>
<line x1="100.6" y1="622" x2="95.6" y2="622" stroke="#231815" stroke-width="1.15"/>
<line x1="1078.6" y1="622" x2="1083.6" y2="622" stroke="#231815" stroke-width="1.15"/>
<line x1="100.6" y1="632.5" x2="95.6" y2="632.5" stroke="#231815" stroke-width="1.15"/>
<line x1="1078.6" y1="632.5" x2="1083.6" y2="632.5" stroke="#231815" stroke-width="1.15"/>
<line x1="100.6" y1="643.1" x2="95.6" y2="643.1" stroke="#231815" stroke-width="1.15"/>
<line x1="1078.6" y1="643.1" x2="1083.6" y2="643.1" stroke="#231815" stroke-width="1.15"/>
<line x1="100.6" y1="653.7" x2="95.6" y2="653.7" stroke="#231815" stroke-width="1.15"/>
<line x1="1078.6" y1="653.7" x2="1083.6" y2="653.7" stroke="#231815" stroke-width="1.15"/>
<line x1="100.6" y1="664.2" x2="91" y2="664.2" stroke="#231815" stroke-width="1.15"/>
<line x1="1078.6" y1="664.2" x2="1088.2" y2="664.2" stroke="#231815" stroke-width="1.15"/>
<text x="82" y="671.5" font-size="22.4" text-anchor="end" font-weight="normal" fill="#231815" stroke="#231815" stroke-width="0.3">−100</text>
<line x1="100.6" y1="674.8" x2="95.6" y2="674.8" stroke="#231815" stroke-width="1.15"/>
<line x1="1078.6" y1="674.8" x2="1083.6" y2="674.8" stroke="#231815" stroke-width="1.15"/>
<line x1="100.6" y1="685.4" x2="95.6" y2="685.4" stroke="#231815" stroke-width="1.15"/>
<line x1="1078.6" y1="685.4" x2="1083.6" y2="685.4" stroke="#231815" stroke-width="1.15"/>
<line x1="100.6" y1="696" x2="95.6" y2="696" stroke="#231815" stroke-width="1.15"/>
<line x1="1078.6" y1="696" x2="1083.6" y2="696" stroke="#231815" stroke-width="1.15"/>
<line x1="100.6" y1="706.5" x2="95.6" y2="706.5" stroke="#231815" stroke-width="1.15"/>
<line x1="1078.6" y1="706.5" x2="1083.6" y2="706.5" stroke="#231815" stroke-width="1.15"/>
<line x1="100.6" y1="717.1" x2="95.6" y2="717.1" stroke="#231815" stroke-width="1.15"/>
<line x1="1078.6" y1="717.1" x2="1083.6" y2="717.1" stroke="#231815" stroke-width="1.15"/>
<line x1="100.6" y1="727.7" x2="95.6" y2="727.7" stroke="#231815" stroke-width="1.15"/>
<line x1="1078.6" y1="727.7" x2="1083.6" y2="727.7" stroke="#231815" stroke-width="1.15"/>
<line x1="100.6" y1="738.3" x2="95.6" y2="738.3" stroke="#231815" stroke-width="1.15"/>
<line x1="1078.6" y1="738.3" x2="1083.6" y2="738.3" stroke="#231815" stroke-width="1.15"/>
<line x1="100.6" y1="748.9" x2="95.6" y2="748.9" stroke="#231815" stroke-width="1.15"/>
<line x1="1078.6" y1="748.9" x2="1083.6" y2="748.9" stroke="#231815" stroke-width="1.15"/>
<line x1="100.6" y1="759.4" x2="95.6" y2="759.4" stroke="#231815" stroke-width="1.15"/>
<line x1="1078.6" y1="759.4" x2="1083.6" y2="759.4" stroke="#231815" stroke-width="1.15"/>
<line x1="100.6" y1="770" x2="91" y2="770" stroke="#231815" stroke-width="1.15"/>
<line x1="1078.6" y1="770" x2="1088.2" y2="770" stroke="#231815" stroke-width="1.15"/>
<text x="82" y="777.3" font-size="22.4" text-anchor="end" font-weight="normal" fill="#231815" stroke="#231815" stroke-width="0.3">−110</text>
<line x1="100.6" y1="780.6" x2="95.6" y2="780.6" stroke="#231815" stroke-width="1.15"/>
<line x1="1078.6" y1="780.6" x2="1083.6" y2="780.6" stroke="#231815" stroke-width="1.15"/>
<line x1="100.6" y1="791.1" x2="95.6" y2="791.1" stroke="#231815" stroke-width="1.15"/>
<line x1="1078.6" y1="791.1" x2="1083.6" y2="791.1" stroke="#231815" stroke-width="1.15"/>
<line x1="100.6" y1="801.7" x2="95.6" y2="801.7" stroke="#231815" stroke-width="1.15"/>
<line x1="1078.6" y1="801.7" x2="1083.6" y2="801.7" stroke="#231815" stroke-width="1.15"/>
<line x1="100.6" y1="812.3" x2="95.6" y2="812.3" stroke="#231815" stroke-width="1.15"/>
<line x1="1078.6" y1="812.3" x2="1083.6" y2="812.3" stroke="#231815" stroke-width="1.15"/>
<line x1="100.6" y1="822.9" x2="95.6" y2="822.9" stroke="#231815" stroke-width="1.15"/>
<line x1="1078.6" y1="822.9" x2="1083.6" y2="822.9" stroke="#231815" stroke-width="1.15"/>
<line x1="100.6" y1="833.5" x2="95.6" y2="833.5" stroke="#231815" stroke-width="1.15"/>
<line x1="1078.6" y1="833.5" x2="1083.6" y2="833.5" stroke="#231815" stroke-width="1.15"/>
<line x1="100.6" y1="844" x2="95.6" y2="844" stroke="#231815" stroke-width="1.15"/>
<line x1="1078.6" y1="844" x2="1083.6" y2="844" stroke="#231815" stroke-width="1.15"/>
<line x1="100.6" y1="854.6" x2="95.6" y2="854.6" stroke="#231815" stroke-width="1.15"/>
<line x1="1078.6" y1="854.6" x2="1083.6" y2="854.6" stroke="#231815" stroke-width="1.15"/>
<line x1="100.6" y1="865.2" x2="95.6" y2="865.2" stroke="#231815" stroke-width="1.15"/>
<line x1="1078.6" y1="865.2" x2="1083.6" y2="865.2" stroke="#231815" stroke-width="1.15"/>
<line x1="100.6" y1="875.8" x2="91" y2="875.8" stroke="#231815" stroke-width="1.15"/>
<line x1="1078.6" y1="875.8" x2="1088.2" y2="875.8" stroke="#231815" stroke-width="1.15"/>
<text x="82" y="883" font-size="22.4" text-anchor="end" font-weight="normal" fill="#231815" stroke="#231815" stroke-width="0.3">−120</text>
<line x1="100.6" y1="886.3" x2="95.6" y2="886.3" stroke="#231815" stroke-width="1.15"/>
<line x1="1078.6" y1="886.3" x2="1083.6" y2="886.3" stroke="#231815" stroke-width="1.15"/>
<line x1="100.6" y1="896.9" x2="95.6" y2="896.9" stroke="#231815" stroke-width="1.15"/>
<line x1="1078.6" y1="896.9" x2="1083.6" y2="896.9" stroke="#231815" stroke-width="1.15"/>
<line x1="100.6" y1="907.5" x2="95.6" y2="907.5" stroke="#231815" stroke-width="1.15"/>
<line x1="1078.6" y1="907.5" x2="1083.6" y2="907.5" stroke="#231815" stroke-width="1.15"/>
<line x1="100.6" y1="918" x2="95.6" y2="918" stroke="#231815" stroke-width="1.15"/>
<line x1="1078.6" y1="918" x2="1083.6" y2="918" stroke="#231815" stroke-width="1.15"/>
<line x1="100.6" y1="928.6" x2="95.6" y2="928.6" stroke="#231815" stroke-width="1.15"/>
<line x1="1078.6" y1="928.6" x2="1083.6" y2="928.6" stroke="#231815" stroke-width="1.15"/>
<line x1="100.6" y1="939.2" x2="95.6" y2="939.2" stroke="#231815" stroke-width="1.15"/>
<line x1="1078.6" y1="939.2" x2="1083.6" y2="939.2" stroke="#231815" stroke-width="1.15"/>
<line x1="100.6" y1="949.8" x2="95.6" y2="949.8" stroke="#231815" stroke-width="1.15"/>
<line x1="1078.6" y1="949.8" x2="1083.6" y2="949.8" stroke="#231815" stroke-width="1.15"/>
<line x1="100.6" y1="960.3" x2="95.6" y2="960.3" stroke="#231815" stroke-width="1.15"/>
<line x1="1078.6" y1="960.3" x2="1083.6" y2="960.3" stroke="#231815" stroke-width="1.15"/>
<line x1="100.6" y1="970.9" x2="95.6" y2="970.9" stroke="#231815" stroke-width="1.15"/>
<line x1="1078.6" y1="970.9" x2="1083.6" y2="970.9" stroke="#231815" stroke-width="1.15"/>
<line x1="100.6" y1="981.5" x2="91" y2="981.5" stroke="#231815" stroke-width="1.15"/>
<line x1="1078.6" y1="981.5" x2="1088.2" y2="981.5" stroke="#231815" stroke-width="1.15"/>
<text x="82" y="988.8" font-size="22.4" text-anchor="end" font-weight="normal" fill="#231815" stroke="#231815" stroke-width="0.3">−130</text>
<rect x="100.6" y="558.5" width="978" height="423" fill="none" stroke="#000000" stroke-width="2.2"/>
<text x="589.6" y="1046.8" font-size="22.2" text-anchor="middle" font-weight="normal" fill="#231815" stroke="#231815" stroke-width="0.3">Age (cal kyr BP)</text>
<text x="17.1" y="771" font-size="22.2" text-anchor="middle" font-weight="normal" fill="#231815" transform="rotate(-90 17.1 771)" stroke="#231815" stroke-width="0.3">Sea level (m)</text>
<text x="12.8" y="545" font-size="29.5" text-anchor="start" font-weight="bold" fill="#000000">b</text>
<clipPath id="cc"><rect x="1211.6" y="452.5" width="422.2" height="529"/></clipPath>
<g clip-path="url(#cc)">
<line x1="1538.1" y1="710.2" x2="1538.1" y2="899.1" stroke="#666666" stroke-width="1.35"/>
<line x1="1502.2" y1="899.1" x2="1573.3" y2="899.1" stroke="#666666" stroke-width="1.35"/>
<line x1="1580.3" y1="564.3" x2="1580.3" y2="753.6" stroke="#666666" stroke-width="1.35"/>
<line x1="1543" y1="753.6" x2="1617.6" y2="753.6" stroke="#666666" stroke-width="1.35"/>
<line x1="1598.6" y1="587" x2="1598.6" y2="775.9" stroke="#666666" stroke-width="1.35"/>
<line x1="1568.4" y1="775.9" x2="1627.5" y2="775.9" stroke="#666666" stroke-width="1.35"/>
<line x1="1594.4" y1="630.1" x2="1594.4" y2="819.5" stroke="#666666" stroke-width="1.35"/>
<line x1="1568.4" y1="819.5" x2="1619.7" y2="819.5" stroke="#666666" stroke-width="1.35"/>
<line x1="1617.6" y1="630.8" x2="1617.6" y2="819.8" stroke="#666666" stroke-width="1.35"/>
<line x1="1591.6" y1="819.8" x2="1643.7" y2="819.8" stroke="#666666" stroke-width="1.35"/>
<line x1="1621.8" y1="649.7" x2="1621.8" y2="837.9" stroke="#666666" stroke-width="1.35"/>
<line x1="1598.6" y1="837.9" x2="1645.8" y2="837.9" stroke="#666666" stroke-width="1.35"/>
<line x1="1286.2" y1="732.5" x2="1286.2" y2="761.2" stroke="#666666" stroke-width="1.35"/>
<line x1="1265.8" y1="746.5" x2="1306.6" y2="746.5" stroke="#666666" stroke-width="1.35"/>
<line x1="1286.2" y1="961.9" x2="1317.1" y2="961.9" stroke="#666666" stroke-width="1.35"/>
<line x1="1356.2" y1="493.7" x2="1356.2" y2="682.5" stroke="#666666" stroke-width="1.35"/>
<line x1="1352.3" y1="682.5" x2="1360.1" y2="682.5" stroke="#666666" stroke-width="1.35"/>
<line x1="1415" y1="496.3" x2="1415" y2="685.7" stroke="#666666" stroke-width="1.35"/>
<line x1="1399.5" y1="685.7" x2="1429.7" y2="685.7" stroke="#666666" stroke-width="1.35"/>
<line x1="1446.3" y1="508.4" x2="1446.3" y2="697.4" stroke="#666666" stroke-width="1.35"/>
<line x1="1433.3" y1="697.4" x2="1459.3" y2="697.4" stroke="#666666" stroke-width="1.35"/>
<line x1="1467" y1="547" x2="1467" y2="735.1" stroke="#666666" stroke-width="1.35"/>
<line x1="1453" y1="735.1" x2="1481.1" y2="735.1" stroke="#666666" stroke-width="1.35"/>
<polyline points="1211.6,465.3 1359,547.7 1373.4,626.3 1388.2,678.5 1431.1,698.1 1527.5,787.3 1633.8,843.2 1704.2,914.2 1774.5,840.9 1844.9,803.2 2267.1,827.3 2337.5,766.1" fill="none" stroke="#000000" stroke-width="2.3" stroke-linejoin="miter"/>
<polyline points="1211.6,463.1 1357.3,553.8 1373.4,637.6 1387.5,691.3 1429,711 1527.5,810.7 1608.5,855.3 1633.8,867 1704.2,936.2 1774.5,858.7 1844.9,820.5 2270.6,820.5 2337.5,755.5" fill="none" stroke="#000000" stroke-width="2.3" stroke-linejoin="miter" stroke-dasharray="22 7.1"/>
<circle cx="1538.1" cy="899.1" r="5.4" fill="#fff" stroke="#666666" stroke-width="1.3"/>
<circle cx="1580.3" cy="753.6" r="5.4" fill="#fff" stroke="#666666" stroke-width="1.3"/>
<circle cx="1598.6" cy="775.9" r="5.4" fill="#fff" stroke="#666666" stroke-width="1.3"/>
<circle cx="1594.4" cy="819.5" r="5.4" fill="#fff" stroke="#666666" stroke-width="1.3"/>
<circle cx="1617.6" cy="819.8" r="5.4" fill="#fff" stroke="#666666" stroke-width="1.3"/>
<circle cx="1621.8" cy="837.9" r="5.4" fill="#fff" stroke="#666666" stroke-width="1.3"/>
<rect x="1282.3" y="742.6" width="7.8" height="7.8" fill="#fff" stroke="#666666" stroke-width="1.3"/>
<polygon points="1296.4,965.1 1305.6,965.1 1301,957.1" fill="#fff" stroke="#666666" stroke-width="1.3" stroke-linejoin="miter"/>
<polygon points="1351,682.5 1356.2,677.3 1361.4,682.5 1356.2,687.7" fill="#fff" stroke="#666666" stroke-width="1.3" stroke-linejoin="miter"/>
<polygon points="1409.8,685.7 1415,680.5 1420.2,685.7 1415,690.9" fill="#fff" stroke="#666666" stroke-width="1.3" stroke-linejoin="miter"/>
<polygon points="1441.1,697.4 1446.3,692.2 1451.5,697.4 1446.3,702.6" fill="#fff" stroke="#666666" stroke-width="1.3" stroke-linejoin="miter"/>
<polygon points="1461.8,735.1 1467,729.9 1472.2,735.1 1467,740.3" fill="#fff" stroke="#666666" stroke-width="1.3" stroke-linejoin="miter"/>
<line x1="1559.2" y1="649.7" x2="1559.2" y2="762.9" stroke="#e62d17" stroke-width="1.25"/>
<line x1="1553" y1="762.9" x2="1565.4" y2="762.9" stroke="#e62d17" stroke-width="2.0"/>
<line x1="1559.2" y1="756.7" x2="1559.2" y2="769.1" stroke="#e62d17" stroke-width="2.0"/>
<line x1="1568.7" y1="655.8" x2="1568.7" y2="768.9" stroke="#e62d17" stroke-width="1.25"/>
<line x1="1562.5" y1="768.9" x2="1574.9" y2="768.9" stroke="#e62d17" stroke-width="2.0"/>
<line x1="1568.7" y1="762.7" x2="1568.7" y2="775.1" stroke="#e62d17" stroke-width="2.0"/>
<line x1="1293.6" y1="456.3" x2="1293.6" y2="570.1" stroke="#e62d17" stroke-width="1.25"/>
<polygon points="1300.2,570.1 1296.9,575.8 1290.3,575.8 1287,570.1 1290.3,564.4 1296.9,564.4" fill="#e62d17" stroke="none" stroke-width="0" stroke-linejoin="miter"/>
<line x1="1297.2" y1="456.3" x2="1297.2" y2="570.1" stroke="#e62d17" stroke-width="1.25"/>
<polygon points="1303.8,570.1 1300.5,575.8 1293.9,575.8 1290.6,570.1 1293.9,564.4 1300.5,564.4" fill="#e62d17" stroke="none" stroke-width="0" stroke-linejoin="miter"/>
<line x1="1310.1" y1="458.2" x2="1310.1" y2="571.3" stroke="#e62d17" stroke-width="1.25"/>
<polygon points="1316.7,571.3 1313.4,577 1306.8,577 1303.5,571.3 1306.8,565.6 1313.4,565.6" fill="#e62d17" stroke="none" stroke-width="0" stroke-linejoin="miter"/>
<line x1="1403" y1="589.3" x2="1403" y2="703.1" stroke="#e62d17" stroke-width="1.25"/>
<polygon points="1409.1,705.6 1405.5,709.2 1400.5,709.2 1396.9,705.6 1396.9,700.6 1400.5,697 1405.5,697 1409.1,700.6" fill="#e62d17" stroke="none" stroke-width="0" stroke-linejoin="miter"/>
</g>
<text x="1270" y="796.5" font-size="27" text-anchor="middle" font-weight="normal" fill="#000000" stroke="#000000" stroke-width="0.3">γ</text>
<text x="1595" y="737" font-size="27" text-anchor="middle" font-weight="normal" fill="#000000" stroke="#000000" stroke-width="0.3">β</text>
<text x="1537" y="931" font-size="27" text-anchor="middle" font-weight="normal" fill="#000000" stroke="#000000" stroke-width="0.3">α</text>
<line x1="1211.6" y1="981.5" x2="1211.6" y2="991.1" stroke="#231815" stroke-width="1.15"/>
<line x1="1211.6" y1="452.5" x2="1211.6" y2="442.9" stroke="#231815" stroke-width="1.15"/>
<text x="1211.6" y="1016.1" font-size="22.4" text-anchor="middle" font-weight="normal" fill="#231815" stroke="#231815" stroke-width="0.3">12</text>
<line x1="1218.6" y1="981.5" x2="1218.6" y2="986.5" stroke="#231815" stroke-width="1.15"/>
<line x1="1218.6" y1="452.5" x2="1218.6" y2="447.5" stroke="#231815" stroke-width="1.15"/>
<line x1="1225.7" y1="981.5" x2="1225.7" y2="986.5" stroke="#231815" stroke-width="1.15"/>
<line x1="1225.7" y1="452.5" x2="1225.7" y2="447.5" stroke="#231815" stroke-width="1.15"/>
<line x1="1232.7" y1="981.5" x2="1232.7" y2="986.5" stroke="#231815" stroke-width="1.15"/>
<line x1="1232.7" y1="452.5" x2="1232.7" y2="447.5" stroke="#231815" stroke-width="1.15"/>
<line x1="1239.7" y1="981.5" x2="1239.7" y2="986.5" stroke="#231815" stroke-width="1.15"/>
<line x1="1239.7" y1="452.5" x2="1239.7" y2="447.5" stroke="#231815" stroke-width="1.15"/>
<line x1="1246.8" y1="981.5" x2="1246.8" y2="986.5" stroke="#231815" stroke-width="1.15"/>
<line x1="1246.8" y1="452.5" x2="1246.8" y2="447.5" stroke="#231815" stroke-width="1.15"/>
<line x1="1253.8" y1="981.5" x2="1253.8" y2="986.5" stroke="#231815" stroke-width="1.15"/>
<line x1="1253.8" y1="452.5" x2="1253.8" y2="447.5" stroke="#231815" stroke-width="1.15"/>
<line x1="1260.9" y1="981.5" x2="1260.9" y2="986.5" stroke="#231815" stroke-width="1.15"/>
<line x1="1260.9" y1="452.5" x2="1260.9" y2="447.5" stroke="#231815" stroke-width="1.15"/>
<line x1="1267.9" y1="981.5" x2="1267.9" y2="986.5" stroke="#231815" stroke-width="1.15"/>
<line x1="1267.9" y1="452.5" x2="1267.9" y2="447.5" stroke="#231815" stroke-width="1.15"/>
<line x1="1274.9" y1="981.5" x2="1274.9" y2="986.5" stroke="#231815" stroke-width="1.15"/>
<line x1="1274.9" y1="452.5" x2="1274.9" y2="447.5" stroke="#231815" stroke-width="1.15"/>
<line x1="1282" y1="981.5" x2="1282" y2="991.1" stroke="#231815" stroke-width="1.15"/>
<line x1="1282" y1="452.5" x2="1282" y2="442.9" stroke="#231815" stroke-width="1.15"/>
<text x="1282" y="1016.1" font-size="22.4" text-anchor="middle" font-weight="normal" fill="#231815" stroke="#231815" stroke-width="0.3">13</text>
<line x1="1289" y1="981.5" x2="1289" y2="986.5" stroke="#231815" stroke-width="1.15"/>
<line x1="1289" y1="452.5" x2="1289" y2="447.5" stroke="#231815" stroke-width="1.15"/>
<line x1="1296" y1="981.5" x2="1296" y2="986.5" stroke="#231815" stroke-width="1.15"/>
<line x1="1296" y1="452.5" x2="1296" y2="447.5" stroke="#231815" stroke-width="1.15"/>
<line x1="1303.1" y1="981.5" x2="1303.1" y2="986.5" stroke="#231815" stroke-width="1.15"/>
<line x1="1303.1" y1="452.5" x2="1303.1" y2="447.5" stroke="#231815" stroke-width="1.15"/>
<line x1="1310.1" y1="981.5" x2="1310.1" y2="986.5" stroke="#231815" stroke-width="1.15"/>
<line x1="1310.1" y1="452.5" x2="1310.1" y2="447.5" stroke="#231815" stroke-width="1.15"/>
<line x1="1317.1" y1="981.5" x2="1317.1" y2="986.5" stroke="#231815" stroke-width="1.15"/>
<line x1="1317.1" y1="452.5" x2="1317.1" y2="447.5" stroke="#231815" stroke-width="1.15"/>
<line x1="1324.2" y1="981.5" x2="1324.2" y2="986.5" stroke="#231815" stroke-width="1.15"/>
<line x1="1324.2" y1="452.5" x2="1324.2" y2="447.5" stroke="#231815" stroke-width="1.15"/>
<line x1="1331.2" y1="981.5" x2="1331.2" y2="986.5" stroke="#231815" stroke-width="1.15"/>
<line x1="1331.2" y1="452.5" x2="1331.2" y2="447.5" stroke="#231815" stroke-width="1.15"/>
<line x1="1338.3" y1="981.5" x2="1338.3" y2="986.5" stroke="#231815" stroke-width="1.15"/>
<line x1="1338.3" y1="452.5" x2="1338.3" y2="447.5" stroke="#231815" stroke-width="1.15"/>
<line x1="1345.3" y1="981.5" x2="1345.3" y2="986.5" stroke="#231815" stroke-width="1.15"/>
<line x1="1345.3" y1="452.5" x2="1345.3" y2="447.5" stroke="#231815" stroke-width="1.15"/>
<line x1="1352.3" y1="981.5" x2="1352.3" y2="991.1" stroke="#231815" stroke-width="1.15"/>
<line x1="1352.3" y1="452.5" x2="1352.3" y2="442.9" stroke="#231815" stroke-width="1.15"/>
<text x="1352.3" y="1016.1" font-size="22.4" text-anchor="middle" font-weight="normal" fill="#231815" stroke="#231815" stroke-width="0.3">14</text>
<line x1="1359.4" y1="981.5" x2="1359.4" y2="986.5" stroke="#231815" stroke-width="1.15"/>
<line x1="1359.4" y1="452.5" x2="1359.4" y2="447.5" stroke="#231815" stroke-width="1.15"/>
<line x1="1366.4" y1="981.5" x2="1366.4" y2="986.5" stroke="#231815" stroke-width="1.15"/>
<line x1="1366.4" y1="452.5" x2="1366.4" y2="447.5" stroke="#231815" stroke-width="1.15"/>
<line x1="1373.4" y1="981.5" x2="1373.4" y2="986.5" stroke="#231815" stroke-width="1.15"/>
<line x1="1373.4" y1="452.5" x2="1373.4" y2="447.5" stroke="#231815" stroke-width="1.15"/>
<line x1="1380.5" y1="981.5" x2="1380.5" y2="986.5" stroke="#231815" stroke-width="1.15"/>
<line x1="1380.5" y1="452.5" x2="1380.5" y2="447.5" stroke="#231815" stroke-width="1.15"/>
<line x1="1387.5" y1="981.5" x2="1387.5" y2="986.5" stroke="#231815" stroke-width="1.15"/>
<line x1="1387.5" y1="452.5" x2="1387.5" y2="447.5" stroke="#231815" stroke-width="1.15"/>
<line x1="1394.6" y1="981.5" x2="1394.6" y2="986.5" stroke="#231815" stroke-width="1.15"/>
<line x1="1394.6" y1="452.5" x2="1394.6" y2="447.5" stroke="#231815" stroke-width="1.15"/>
<line x1="1401.6" y1="981.5" x2="1401.6" y2="986.5" stroke="#231815" stroke-width="1.15"/>
<line x1="1401.6" y1="452.5" x2="1401.6" y2="447.5" stroke="#231815" stroke-width="1.15"/>
<line x1="1408.6" y1="981.5" x2="1408.6" y2="986.5" stroke="#231815" stroke-width="1.15"/>
<line x1="1408.6" y1="452.5" x2="1408.6" y2="447.5" stroke="#231815" stroke-width="1.15"/>
<line x1="1415.7" y1="981.5" x2="1415.7" y2="986.5" stroke="#231815" stroke-width="1.15"/>
<line x1="1415.7" y1="452.5" x2="1415.7" y2="447.5" stroke="#231815" stroke-width="1.15"/>
<line x1="1422.7" y1="981.5" x2="1422.7" y2="991.1" stroke="#231815" stroke-width="1.15"/>
<line x1="1422.7" y1="452.5" x2="1422.7" y2="442.9" stroke="#231815" stroke-width="1.15"/>
<text x="1422.7" y="1016.1" font-size="22.4" text-anchor="middle" font-weight="normal" fill="#231815" stroke="#231815" stroke-width="0.3">15</text>
<line x1="1429.7" y1="981.5" x2="1429.7" y2="986.5" stroke="#231815" stroke-width="1.15"/>
<line x1="1429.7" y1="452.5" x2="1429.7" y2="447.5" stroke="#231815" stroke-width="1.15"/>
<line x1="1436.8" y1="981.5" x2="1436.8" y2="986.5" stroke="#231815" stroke-width="1.15"/>
<line x1="1436.8" y1="452.5" x2="1436.8" y2="447.5" stroke="#231815" stroke-width="1.15"/>
<line x1="1443.8" y1="981.5" x2="1443.8" y2="986.5" stroke="#231815" stroke-width="1.15"/>
<line x1="1443.8" y1="452.5" x2="1443.8" y2="447.5" stroke="#231815" stroke-width="1.15"/>
<line x1="1450.8" y1="981.5" x2="1450.8" y2="986.5" stroke="#231815" stroke-width="1.15"/>
<line x1="1450.8" y1="452.5" x2="1450.8" y2="447.5" stroke="#231815" stroke-width="1.15"/>
<line x1="1457.9" y1="981.5" x2="1457.9" y2="986.5" stroke="#231815" stroke-width="1.15"/>
<line x1="1457.9" y1="452.5" x2="1457.9" y2="447.5" stroke="#231815" stroke-width="1.15"/>
<line x1="1464.9" y1="981.5" x2="1464.9" y2="986.5" stroke="#231815" stroke-width="1.15"/>
<line x1="1464.9" y1="452.5" x2="1464.9" y2="447.5" stroke="#231815" stroke-width="1.15"/>
<line x1="1472" y1="981.5" x2="1472" y2="986.5" stroke="#231815" stroke-width="1.15"/>
<line x1="1472" y1="452.5" x2="1472" y2="447.5" stroke="#231815" stroke-width="1.15"/>
<line x1="1479" y1="981.5" x2="1479" y2="986.5" stroke="#231815" stroke-width="1.15"/>
<line x1="1479" y1="452.5" x2="1479" y2="447.5" stroke="#231815" stroke-width="1.15"/>
<line x1="1486" y1="981.5" x2="1486" y2="986.5" stroke="#231815" stroke-width="1.15"/>
<line x1="1486" y1="452.5" x2="1486" y2="447.5" stroke="#231815" stroke-width="1.15"/>
<line x1="1493.1" y1="981.5" x2="1493.1" y2="991.1" stroke="#231815" stroke-width="1.15"/>
<line x1="1493.1" y1="452.5" x2="1493.1" y2="442.9" stroke="#231815" stroke-width="1.15"/>
<text x="1493.1" y="1016.1" font-size="22.4" text-anchor="middle" font-weight="normal" fill="#231815" stroke="#231815" stroke-width="0.3">16</text>
<line x1="1500.1" y1="981.5" x2="1500.1" y2="986.5" stroke="#231815" stroke-width="1.15"/>
<line x1="1500.1" y1="452.5" x2="1500.1" y2="447.5" stroke="#231815" stroke-width="1.15"/>
<line x1="1507.1" y1="981.5" x2="1507.1" y2="986.5" stroke="#231815" stroke-width="1.15"/>
<line x1="1507.1" y1="452.5" x2="1507.1" y2="447.5" stroke="#231815" stroke-width="1.15"/>
<line x1="1514.2" y1="981.5" x2="1514.2" y2="986.5" stroke="#231815" stroke-width="1.15"/>
<line x1="1514.2" y1="452.5" x2="1514.2" y2="447.5" stroke="#231815" stroke-width="1.15"/>
<line x1="1521.2" y1="981.5" x2="1521.2" y2="986.5" stroke="#231815" stroke-width="1.15"/>
<line x1="1521.2" y1="452.5" x2="1521.2" y2="447.5" stroke="#231815" stroke-width="1.15"/>
<line x1="1528.2" y1="981.5" x2="1528.2" y2="986.5" stroke="#231815" stroke-width="1.15"/>
<line x1="1528.2" y1="452.5" x2="1528.2" y2="447.5" stroke="#231815" stroke-width="1.15"/>
<line x1="1535.3" y1="981.5" x2="1535.3" y2="986.5" stroke="#231815" stroke-width="1.15"/>
<line x1="1535.3" y1="452.5" x2="1535.3" y2="447.5" stroke="#231815" stroke-width="1.15"/>
<line x1="1542.3" y1="981.5" x2="1542.3" y2="986.5" stroke="#231815" stroke-width="1.15"/>
<line x1="1542.3" y1="452.5" x2="1542.3" y2="447.5" stroke="#231815" stroke-width="1.15"/>
<line x1="1549.4" y1="981.5" x2="1549.4" y2="986.5" stroke="#231815" stroke-width="1.15"/>
<line x1="1549.4" y1="452.5" x2="1549.4" y2="447.5" stroke="#231815" stroke-width="1.15"/>
<line x1="1556.4" y1="981.5" x2="1556.4" y2="986.5" stroke="#231815" stroke-width="1.15"/>
<line x1="1556.4" y1="452.5" x2="1556.4" y2="447.5" stroke="#231815" stroke-width="1.15"/>
<line x1="1563.4" y1="981.5" x2="1563.4" y2="991.1" stroke="#231815" stroke-width="1.15"/>
<line x1="1563.4" y1="452.5" x2="1563.4" y2="442.9" stroke="#231815" stroke-width="1.15"/>
<text x="1563.4" y="1016.1" font-size="22.4" text-anchor="middle" font-weight="normal" fill="#231815" stroke="#231815" stroke-width="0.3">17</text>
<line x1="1570.5" y1="981.5" x2="1570.5" y2="986.5" stroke="#231815" stroke-width="1.15"/>
<line x1="1570.5" y1="452.5" x2="1570.5" y2="447.5" stroke="#231815" stroke-width="1.15"/>
<line x1="1577.5" y1="981.5" x2="1577.5" y2="986.5" stroke="#231815" stroke-width="1.15"/>
<line x1="1577.5" y1="452.5" x2="1577.5" y2="447.5" stroke="#231815" stroke-width="1.15"/>
<line x1="1584.5" y1="981.5" x2="1584.5" y2="986.5" stroke="#231815" stroke-width="1.15"/>
<line x1="1584.5" y1="452.5" x2="1584.5" y2="447.5" stroke="#231815" stroke-width="1.15"/>
<line x1="1591.6" y1="981.5" x2="1591.6" y2="986.5" stroke="#231815" stroke-width="1.15"/>
<line x1="1591.6" y1="452.5" x2="1591.6" y2="447.5" stroke="#231815" stroke-width="1.15"/>
<line x1="1598.6" y1="981.5" x2="1598.6" y2="986.5" stroke="#231815" stroke-width="1.15"/>
<line x1="1598.6" y1="452.5" x2="1598.6" y2="447.5" stroke="#231815" stroke-width="1.15"/>
<line x1="1605.7" y1="981.5" x2="1605.7" y2="986.5" stroke="#231815" stroke-width="1.15"/>
<line x1="1605.7" y1="452.5" x2="1605.7" y2="447.5" stroke="#231815" stroke-width="1.15"/>
<line x1="1612.7" y1="981.5" x2="1612.7" y2="986.5" stroke="#231815" stroke-width="1.15"/>
<line x1="1612.7" y1="452.5" x2="1612.7" y2="447.5" stroke="#231815" stroke-width="1.15"/>
<line x1="1619.7" y1="981.5" x2="1619.7" y2="986.5" stroke="#231815" stroke-width="1.15"/>
<line x1="1619.7" y1="452.5" x2="1619.7" y2="447.5" stroke="#231815" stroke-width="1.15"/>
<line x1="1626.8" y1="981.5" x2="1626.8" y2="986.5" stroke="#231815" stroke-width="1.15"/>
<line x1="1626.8" y1="452.5" x2="1626.8" y2="447.5" stroke="#231815" stroke-width="1.15"/>
<line x1="1633.8" y1="981.5" x2="1633.8" y2="991.1" stroke="#231815" stroke-width="1.15"/>
<line x1="1633.8" y1="452.5" x2="1633.8" y2="442.9" stroke="#231815" stroke-width="1.15"/>
<text x="1633.8" y="1016.1" font-size="22.4" text-anchor="middle" font-weight="normal" fill="#231815" stroke="#231815" stroke-width="0.3">18</text>
<line x1="1211.6" y1="452.5" x2="1202" y2="452.5" stroke="#231815" stroke-width="1.15"/>
<line x1="1633.8" y1="452.5" x2="1643.4" y2="452.5" stroke="#231815" stroke-width="1.15"/>
<text x="1193" y="459.8" font-size="22.4" text-anchor="end" font-weight="normal" fill="#231815" stroke="#231815" stroke-width="0.3">−60</text>
<line x1="1211.6" y1="460.1" x2="1206.6" y2="460.1" stroke="#231815" stroke-width="1.15"/>
<line x1="1633.8" y1="460.1" x2="1638.8" y2="460.1" stroke="#231815" stroke-width="1.15"/>
<line x1="1211.6" y1="467.6" x2="1206.6" y2="467.6" stroke="#231815" stroke-width="1.15"/>
<line x1="1633.8" y1="467.6" x2="1638.8" y2="467.6" stroke="#231815" stroke-width="1.15"/>
<line x1="1211.6" y1="475.2" x2="1206.6" y2="475.2" stroke="#231815" stroke-width="1.15"/>
<line x1="1633.8" y1="475.2" x2="1638.8" y2="475.2" stroke="#231815" stroke-width="1.15"/>
<line x1="1211.6" y1="482.7" x2="1206.6" y2="482.7" stroke="#231815" stroke-width="1.15"/>
<line x1="1633.8" y1="482.7" x2="1638.8" y2="482.7" stroke="#231815" stroke-width="1.15"/>
<line x1="1211.6" y1="490.3" x2="1206.6" y2="490.3" stroke="#231815" stroke-width="1.15"/>
<line x1="1633.8" y1="490.3" x2="1638.8" y2="490.3" stroke="#231815" stroke-width="1.15"/>
<line x1="1211.6" y1="497.8" x2="1206.6" y2="497.8" stroke="#231815" stroke-width="1.15"/>
<line x1="1633.8" y1="497.8" x2="1638.8" y2="497.8" stroke="#231815" stroke-width="1.15"/>
<line x1="1211.6" y1="505.4" x2="1206.6" y2="505.4" stroke="#231815" stroke-width="1.15"/>
<line x1="1633.8" y1="505.4" x2="1638.8" y2="505.4" stroke="#231815" stroke-width="1.15"/>
<line x1="1211.6" y1="513" x2="1206.6" y2="513" stroke="#231815" stroke-width="1.15"/>
<line x1="1633.8" y1="513" x2="1638.8" y2="513" stroke="#231815" stroke-width="1.15"/>
<line x1="1211.6" y1="520.5" x2="1206.6" y2="520.5" stroke="#231815" stroke-width="1.15"/>
<line x1="1633.8" y1="520.5" x2="1638.8" y2="520.5" stroke="#231815" stroke-width="1.15"/>
<line x1="1211.6" y1="528.1" x2="1202" y2="528.1" stroke="#231815" stroke-width="1.15"/>
<line x1="1633.8" y1="528.1" x2="1643.4" y2="528.1" stroke="#231815" stroke-width="1.15"/>
<text x="1193" y="535.4" font-size="22.4" text-anchor="end" font-weight="normal" fill="#231815" stroke="#231815" stroke-width="0.3">−70</text>
<line x1="1211.6" y1="535.6" x2="1206.6" y2="535.6" stroke="#231815" stroke-width="1.15"/>
<line x1="1633.8" y1="535.6" x2="1638.8" y2="535.6" stroke="#231815" stroke-width="1.15"/>
<line x1="1211.6" y1="543.2" x2="1206.6" y2="543.2" stroke="#231815" stroke-width="1.15"/>
<line x1="1633.8" y1="543.2" x2="1638.8" y2="543.2" stroke="#231815" stroke-width="1.15"/>
<line x1="1211.6" y1="550.7" x2="1206.6" y2="550.7" stroke="#231815" stroke-width="1.15"/>
<line x1="1633.8" y1="550.7" x2="1638.8" y2="550.7" stroke="#231815" stroke-width="1.15"/>
<line x1="1211.6" y1="558.3" x2="1206.6" y2="558.3" stroke="#231815" stroke-width="1.15"/>
<line x1="1633.8" y1="558.3" x2="1638.8" y2="558.3" stroke="#231815" stroke-width="1.15"/>
<line x1="1211.6" y1="565.9" x2="1206.6" y2="565.9" stroke="#231815" stroke-width="1.15"/>
<line x1="1633.8" y1="565.9" x2="1638.8" y2="565.9" stroke="#231815" stroke-width="1.15"/>
<line x1="1211.6" y1="573.4" x2="1206.6" y2="573.4" stroke="#231815" stroke-width="1.15"/>
<line x1="1633.8" y1="573.4" x2="1638.8" y2="573.4" stroke="#231815" stroke-width="1.15"/>
<line x1="1211.6" y1="581" x2="1206.6" y2="581" stroke="#231815" stroke-width="1.15"/>
<line x1="1633.8" y1="581" x2="1638.8" y2="581" stroke="#231815" stroke-width="1.15"/>
<line x1="1211.6" y1="588.5" x2="1206.6" y2="588.5" stroke="#231815" stroke-width="1.15"/>
<line x1="1633.8" y1="588.5" x2="1638.8" y2="588.5" stroke="#231815" stroke-width="1.15"/>
<line x1="1211.6" y1="596.1" x2="1206.6" y2="596.1" stroke="#231815" stroke-width="1.15"/>
<line x1="1633.8" y1="596.1" x2="1638.8" y2="596.1" stroke="#231815" stroke-width="1.15"/>
<line x1="1211.6" y1="603.6" x2="1202" y2="603.6" stroke="#231815" stroke-width="1.15"/>
<line x1="1633.8" y1="603.6" x2="1643.4" y2="603.6" stroke="#231815" stroke-width="1.15"/>
<text x="1193" y="610.9" font-size="22.4" text-anchor="end" font-weight="normal" fill="#231815" stroke="#231815" stroke-width="0.3">−80</text>
<line x1="1211.6" y1="611.2" x2="1206.6" y2="611.2" stroke="#231815" stroke-width="1.15"/>
<line x1="1633.8" y1="611.2" x2="1638.8" y2="611.2" stroke="#231815" stroke-width="1.15"/>
<line x1="1211.6" y1="618.8" x2="1206.6" y2="618.8" stroke="#231815" stroke-width="1.15"/>
<line x1="1633.8" y1="618.8" x2="1638.8" y2="618.8" stroke="#231815" stroke-width="1.15"/>
<line x1="1211.6" y1="626.3" x2="1206.6" y2="626.3" stroke="#231815" stroke-width="1.15"/>
<line x1="1633.8" y1="626.3" x2="1638.8" y2="626.3" stroke="#231815" stroke-width="1.15"/>
<line x1="1211.6" y1="633.9" x2="1206.6" y2="633.9" stroke="#231815" stroke-width="1.15"/>
<line x1="1633.8" y1="633.9" x2="1638.8" y2="633.9" stroke="#231815" stroke-width="1.15"/>
<line x1="1211.6" y1="641.4" x2="1206.6" y2="641.4" stroke="#231815" stroke-width="1.15"/>
<line x1="1633.8" y1="641.4" x2="1638.8" y2="641.4" stroke="#231815" stroke-width="1.15"/>
<line x1="1211.6" y1="649" x2="1206.6" y2="649" stroke="#231815" stroke-width="1.15"/>
<line x1="1633.8" y1="649" x2="1638.8" y2="649" stroke="#231815" stroke-width="1.15"/>
<line x1="1211.6" y1="656.5" x2="1206.6" y2="656.5" stroke="#231815" stroke-width="1.15"/>
<line x1="1633.8" y1="656.5" x2="1638.8" y2="656.5" stroke="#231815" stroke-width="1.15"/>
<line x1="1211.6" y1="664.1" x2="1206.6" y2="664.1" stroke="#231815" stroke-width="1.15"/>
<line x1="1633.8" y1="664.1" x2="1638.8" y2="664.1" stroke="#231815" stroke-width="1.15"/>
<line x1="1211.6" y1="671.7" x2="1206.6" y2="671.7" stroke="#231815" stroke-width="1.15"/>
<line x1="1633.8" y1="671.7" x2="1638.8" y2="671.7" stroke="#231815" stroke-width="1.15"/>
<line x1="1211.6" y1="679.2" x2="1202" y2="679.2" stroke="#231815" stroke-width="1.15"/>
<line x1="1633.8" y1="679.2" x2="1643.4" y2="679.2" stroke="#231815" stroke-width="1.15"/>
<text x="1193" y="686.5" font-size="22.4" text-anchor="end" font-weight="normal" fill="#231815" stroke="#231815" stroke-width="0.3">−90</text>
<line x1="1211.6" y1="686.8" x2="1206.6" y2="686.8" stroke="#231815" stroke-width="1.15"/>
<line x1="1633.8" y1="686.8" x2="1638.8" y2="686.8" stroke="#231815" stroke-width="1.15"/>
<line x1="1211.6" y1="694.3" x2="1206.6" y2="694.3" stroke="#231815" stroke-width="1.15"/>
<line x1="1633.8" y1="694.3" x2="1638.8" y2="694.3" stroke="#231815" stroke-width="1.15"/>
<line x1="1211.6" y1="701.9" x2="1206.6" y2="701.9" stroke="#231815" stroke-width="1.15"/>
<line x1="1633.8" y1="701.9" x2="1638.8" y2="701.9" stroke="#231815" stroke-width="1.15"/>
<line x1="1211.6" y1="709.4" x2="1206.6" y2="709.4" stroke="#231815" stroke-width="1.15"/>
<line x1="1633.8" y1="709.4" x2="1638.8" y2="709.4" stroke="#231815" stroke-width="1.15"/>
<line x1="1211.6" y1="717" x2="1206.6" y2="717" stroke="#231815" stroke-width="1.15"/>
<line x1="1633.8" y1="717" x2="1638.8" y2="717" stroke="#231815" stroke-width="1.15"/>
<line x1="1211.6" y1="724.6" x2="1206.6" y2="724.6" stroke="#231815" stroke-width="1.15"/>
<line x1="1633.8" y1="724.6" x2="1638.8" y2="724.6" stroke="#231815" stroke-width="1.15"/>
<line x1="1211.6" y1="732.1" x2="1206.6" y2="732.1" stroke="#231815" stroke-width="1.15"/>
<line x1="1633.8" y1="732.1" x2="1638.8" y2="732.1" stroke="#231815" stroke-width="1.15"/>
<line x1="1211.6" y1="739.7" x2="1206.6" y2="739.7" stroke="#231815" stroke-width="1.15"/>
<line x1="1633.8" y1="739.7" x2="1638.8" y2="739.7" stroke="#231815" stroke-width="1.15"/>
<line x1="1211.6" y1="747.2" x2="1206.6" y2="747.2" stroke="#231815" stroke-width="1.15"/>
<line x1="1633.8" y1="747.2" x2="1638.8" y2="747.2" stroke="#231815" stroke-width="1.15"/>
<line x1="1211.6" y1="754.8" x2="1202" y2="754.8" stroke="#231815" stroke-width="1.15"/>
<line x1="1633.8" y1="754.8" x2="1643.4" y2="754.8" stroke="#231815" stroke-width="1.15"/>
<text x="1193" y="762.1" font-size="22.4" text-anchor="end" font-weight="normal" fill="#231815" stroke="#231815" stroke-width="0.3">−100</text>
<line x1="1211.6" y1="762.3" x2="1206.6" y2="762.3" stroke="#231815" stroke-width="1.15"/>
<line x1="1633.8" y1="762.3" x2="1638.8" y2="762.3" stroke="#231815" stroke-width="1.15"/>
<line x1="1211.6" y1="769.9" x2="1206.6" y2="769.9" stroke="#231815" stroke-width="1.15"/>
<line x1="1633.8" y1="769.9" x2="1638.8" y2="769.9" stroke="#231815" stroke-width="1.15"/>
<line x1="1211.6" y1="777.5" x2="1206.6" y2="777.5" stroke="#231815" stroke-width="1.15"/>
<line x1="1633.8" y1="777.5" x2="1638.8" y2="777.5" stroke="#231815" stroke-width="1.15"/>
<line x1="1211.6" y1="785" x2="1206.6" y2="785" stroke="#231815" stroke-width="1.15"/>
<line x1="1633.8" y1="785" x2="1638.8" y2="785" stroke="#231815" stroke-width="1.15"/>
<line x1="1211.6" y1="792.6" x2="1206.6" y2="792.6" stroke="#231815" stroke-width="1.15"/>
<line x1="1633.8" y1="792.6" x2="1638.8" y2="792.6" stroke="#231815" stroke-width="1.15"/>
<line x1="1211.6" y1="800.1" x2="1206.6" y2="800.1" stroke="#231815" stroke-width="1.15"/>
<line x1="1633.8" y1="800.1" x2="1638.8" y2="800.1" stroke="#231815" stroke-width="1.15"/>
<line x1="1211.6" y1="807.7" x2="1206.6" y2="807.7" stroke="#231815" stroke-width="1.15"/>
<line x1="1633.8" y1="807.7" x2="1638.8" y2="807.7" stroke="#231815" stroke-width="1.15"/>
<line x1="1211.6" y1="815.2" x2="1206.6" y2="815.2" stroke="#231815" stroke-width="1.15"/>
<line x1="1633.8" y1="815.2" x2="1638.8" y2="815.2" stroke="#231815" stroke-width="1.15"/>
<line x1="1211.6" y1="822.8" x2="1206.6" y2="822.8" stroke="#231815" stroke-width="1.15"/>
<line x1="1633.8" y1="822.8" x2="1638.8" y2="822.8" stroke="#231815" stroke-width="1.15"/>
<line x1="1211.6" y1="830.4" x2="1202" y2="830.4" stroke="#231815" stroke-width="1.15"/>
<line x1="1633.8" y1="830.4" x2="1643.4" y2="830.4" stroke="#231815" stroke-width="1.15"/>
<text x="1193" y="837.7" font-size="22.4" text-anchor="end" font-weight="normal" fill="#231815" stroke="#231815" stroke-width="0.3">−110</text>
<line x1="1211.6" y1="837.9" x2="1206.6" y2="837.9" stroke="#231815" stroke-width="1.15"/>
<line x1="1633.8" y1="837.9" x2="1638.8" y2="837.9" stroke="#231815" stroke-width="1.15"/>
<line x1="1211.6" y1="845.5" x2="1206.6" y2="845.5" stroke="#231815" stroke-width="1.15"/>
<line x1="1633.8" y1="845.5" x2="1638.8" y2="845.5" stroke="#231815" stroke-width="1.15"/>
<line x1="1211.6" y1="853" x2="1206.6" y2="853" stroke="#231815" stroke-width="1.15"/>
<line x1="1633.8" y1="853" x2="1638.8" y2="853" stroke="#231815" stroke-width="1.15"/>
<line x1="1211.6" y1="860.6" x2="1206.6" y2="860.6" stroke="#231815" stroke-width="1.15"/>
<line x1="1633.8" y1="860.6" x2="1638.8" y2="860.6" stroke="#231815" stroke-width="1.15"/>
<line x1="1211.6" y1="868.1" x2="1206.6" y2="868.1" stroke="#231815" stroke-width="1.15"/>
<line x1="1633.8" y1="868.1" x2="1638.8" y2="868.1" stroke="#231815" stroke-width="1.15"/>
<line x1="1211.6" y1="875.7" x2="1206.6" y2="875.7" stroke="#231815" stroke-width="1.15"/>
<line x1="1633.8" y1="875.7" x2="1638.8" y2="875.7" stroke="#231815" stroke-width="1.15"/>
<line x1="1211.6" y1="883.3" x2="1206.6" y2="883.3" stroke="#231815" stroke-width="1.15"/>
<line x1="1633.8" y1="883.3" x2="1638.8" y2="883.3" stroke="#231815" stroke-width="1.15"/>
<line x1="1211.6" y1="890.8" x2="1206.6" y2="890.8" stroke="#231815" stroke-width="1.15"/>
<line x1="1633.8" y1="890.8" x2="1638.8" y2="890.8" stroke="#231815" stroke-width="1.15"/>
<line x1="1211.6" y1="898.4" x2="1206.6" y2="898.4" stroke="#231815" stroke-width="1.15"/>
<line x1="1633.8" y1="898.4" x2="1638.8" y2="898.4" stroke="#231815" stroke-width="1.15"/>
<line x1="1211.6" y1="905.9" x2="1202" y2="905.9" stroke="#231815" stroke-width="1.15"/>
<line x1="1633.8" y1="905.9" x2="1643.4" y2="905.9" stroke="#231815" stroke-width="1.15"/>
<text x="1193" y="913.2" font-size="22.4" text-anchor="end" font-weight="normal" fill="#231815" stroke="#231815" stroke-width="0.3">−120</text>
<line x1="1211.6" y1="913.5" x2="1206.6" y2="913.5" stroke="#231815" stroke-width="1.15"/>
<line x1="1633.8" y1="913.5" x2="1638.8" y2="913.5" stroke="#231815" stroke-width="1.15"/>
<line x1="1211.6" y1="921" x2="1206.6" y2="921" stroke="#231815" stroke-width="1.15"/>
<line x1="1633.8" y1="921" x2="1638.8" y2="921" stroke="#231815" stroke-width="1.15"/>
<line x1="1211.6" y1="928.6" x2="1206.6" y2="928.6" stroke="#231815" stroke-width="1.15"/>
<line x1="1633.8" y1="928.6" x2="1638.8" y2="928.6" stroke="#231815" stroke-width="1.15"/>
<line x1="1211.6" y1="936.2" x2="1206.6" y2="936.2" stroke="#231815" stroke-width="1.15"/>
<line x1="1633.8" y1="936.2" x2="1638.8" y2="936.2" stroke="#231815" stroke-width="1.15"/>
<line x1="1211.6" y1="943.7" x2="1206.6" y2="943.7" stroke="#231815" stroke-width="1.15"/>
<line x1="1633.8" y1="943.7" x2="1638.8" y2="943.7" stroke="#231815" stroke-width="1.15"/>
<line x1="1211.6" y1="951.3" x2="1206.6" y2="951.3" stroke="#231815" stroke-width="1.15"/>
<line x1="1633.8" y1="951.3" x2="1638.8" y2="951.3" stroke="#231815" stroke-width="1.15"/>
<line x1="1211.6" y1="958.8" x2="1206.6" y2="958.8" stroke="#231815" stroke-width="1.15"/>
<line x1="1633.8" y1="958.8" x2="1638.8" y2="958.8" stroke="#231815" stroke-width="1.15"/>
<line x1="1211.6" y1="966.4" x2="1206.6" y2="966.4" stroke="#231815" stroke-width="1.15"/>
<line x1="1633.8" y1="966.4" x2="1638.8" y2="966.4" stroke="#231815" stroke-width="1.15"/>
<line x1="1211.6" y1="973.9" x2="1206.6" y2="973.9" stroke="#231815" stroke-width="1.15"/>
<line x1="1633.8" y1="973.9" x2="1638.8" y2="973.9" stroke="#231815" stroke-width="1.15"/>
<line x1="1211.6" y1="981.5" x2="1202" y2="981.5" stroke="#231815" stroke-width="1.15"/>
<line x1="1633.8" y1="981.5" x2="1643.4" y2="981.5" stroke="#231815" stroke-width="1.15"/>
<text x="1193" y="988.8" font-size="22.4" text-anchor="end" font-weight="normal" fill="#231815" stroke="#231815" stroke-width="0.3">−130</text>
<rect x="1211.6" y="452.5" width="422.2" height="529" fill="none" stroke="#000000" stroke-width="2.2"/>
<text x="1422.7" y="1046.8" font-size="22.2" text-anchor="middle" font-weight="normal" fill="#231815" stroke="#231815" stroke-width="0.3">Age (cal kyr BP)</text>
<text x="1128.1" y="718" font-size="22.2" text-anchor="middle" font-weight="normal" fill="#231815" transform="rotate(-90 1128.1 718)" stroke="#231815" stroke-width="0.3">Sea level (m)</text>
<text x="1133.3" y="438.4" font-size="29.5" text-anchor="start" font-weight="bold" fill="#000000">c</text>
<rect x="1224.1" y="22.8" width="11" height="11" fill="#e62d17" stroke="none" stroke-width="0"/>
<text x="1267" y="34.9" font-size="18.7" text-anchor="start" font-weight="normal" fill="#000000" stroke="#000000" stroke-width="0.3">lagoon / estuary: KH11-1-GC03</text>
<line x1="1223.1" y1="52.5" x2="1236.1" y2="52.5" stroke="#e62d17" stroke-width="1.8"/>
<text x="1267" y="59.1" font-size="18.7" text-anchor="start" font-weight="normal" fill="#000000" stroke="#000000" stroke-width="0.3">lagoon / estuary: KH11-1-GC06</text>
<polygon points="1223.2,81.4 1236,81.4 1229.6,70.4" fill="#e62d17" stroke="none" stroke-width="0" stroke-linejoin="miter"/>
<text x="1267" y="83.3" font-size="18.7" text-anchor="start" font-weight="normal" fill="#000000" stroke="#000000" stroke-width="0.3">lagoon / estuary: KH11-1-GC07</text>
<polygon points="1222.8,101 1229.6,94.2 1236.4,101 1229.6,107.7" fill="#e62d17" stroke="none" stroke-width="0" stroke-linejoin="miter"/>
<text x="1267" y="107.6" font-size="18.7" text-anchor="start" font-weight="normal" fill="#000000" stroke="#000000" stroke-width="0.3">lagoon / estuary: KH11-1-GC08</text>
<polygon points="1229.6,118.7 1236.2,123.4 1233.7,131.2 1225.5,131.2 1223,123.4" fill="#e62d17" stroke="none" stroke-width="0" stroke-linejoin="miter"/>
<text x="1267" y="131.8" font-size="18.7" text-anchor="start" font-weight="normal" fill="#000000" stroke="#000000" stroke-width="0.3">lagoon / estuary: KH11-1-GC09</text>
<polygon points="1223.4,144.9 1235.8,144.9 1229.6,155.6" fill="#e62d17" stroke="none" stroke-width="0" stroke-linejoin="miter"/>
<text x="1267" y="156" font-size="18.7" text-anchor="start" font-weight="normal" fill="#000000" stroke="#000000" stroke-width="0.3">lagoon / estuary: KH11-1-GC10</text>
<circle cx="1229.6" cy="173.6" r="6.9" fill="#e62d17" stroke="none" stroke-width="0"/>
<text x="1267" y="180.2" font-size="18.7" text-anchor="start" font-weight="normal" fill="#000000" stroke="#000000" stroke-width="0.3">lagoon / estuary: KH11-1-GC11</text>
<line x1="1222.9" y1="197.8" x2="1236.3" y2="197.8" stroke="#e62d17" stroke-width="2.0"/>
<line x1="1229.6" y1="191.1" x2="1229.6" y2="204.5" stroke="#e62d17" stroke-width="2.0"/>
<text x="1267" y="204.4" font-size="18.7" text-anchor="start" font-weight="normal" fill="#000000" stroke="#000000" stroke-width="0.3">intertide: KH11-1-GC13</text>
<polygon points="1236,224.7 1232.3,228.5 1226.9,228.5 1223.2,224.7 1223.2,219.4 1226.9,215.7 1232.3,215.7 1236,219.4" fill="#e62d17" stroke="none" stroke-width="0" stroke-linejoin="miter"/>
<text x="1267" y="228.7" font-size="18.7" text-anchor="start" font-weight="normal" fill="#000000" stroke="#000000" stroke-width="0.3">intertide: KH11-1-GC14</text>
<polygon points="1236.3,246.3 1233,252.1 1226.2,252.1 1222.9,246.3 1226.2,240.4 1233,240.4" fill="#e62d17" stroke="none" stroke-width="0" stroke-linejoin="miter"/>
<text x="1267" y="252.9" font-size="18.7" text-anchor="start" font-weight="normal" fill="#000000" stroke="#000000" stroke-width="0.3">intertide: KH11-1-GC19</text>
<rect x="1223.4" y="264.3" width="12.5" height="12.5" fill="#fff" stroke="#000000" stroke-width="1.4"/>
<text x="1267" y="277.1" font-size="18.7" text-anchor="start" font-weight="normal" fill="#000000" stroke="#000000" stroke-width="0.3">brackish / estuarine (Yokoyama et al., 2000)</text>
<circle cx="1229.6" cy="294.7" r="6.9" fill="#fff" stroke="#000000" stroke-width="1.4"/>
<text x="1267" y="301.3" font-size="18.7" text-anchor="start" font-weight="normal" fill="#000000" stroke="#000000" stroke-width="0.3">marginal marine (Yokoyama et al., 2000)</text>
<polygon points="1223.3,324.4 1235.9,324.4 1229.6,313.3" fill="#fff" stroke="#000000" stroke-width="1.4" stroke-linejoin="miter"/>
<text x="1267" y="325.5" font-size="18.7" text-anchor="start" font-weight="normal" fill="#000000" stroke="#000000" stroke-width="0.3">shallow marine (Yokoyama et al., 2000)</text>
<polygon points="1223,343.2 1229.6,336.6 1236.2,343.2 1229.6,349.8" fill="#fff" stroke="#000000" stroke-width="1.4" stroke-linejoin="miter"/>
<text x="1267" y="349.8" font-size="18.7" text-anchor="start" font-weight="normal" fill="#000000" stroke="#000000" stroke-width="0.3">mariginal marine (Nicholas et al., 2014)</text>
<line x1="1205.2" y1="368.4" x2="1253.7" y2="368.4" stroke="#000000" stroke-width="2.3"/>
<text x="1267" y="374" font-size="18.7" text-anchor="start" font-weight="normal" fill="#000000" stroke="#000000" stroke-width="0.3">relative sea level</text>
<line x1="1205.2" y1="392.6" x2="1253.7" y2="392.6" stroke="#000000" stroke-width="2.3" stroke-dasharray="16.6 5.5"/>
<text x="1267" y="398.2" font-size="18.7" text-anchor="start" font-weight="normal" fill="#000000" stroke="#000000" stroke-width="0.3">global ice volume history</text>
<clipPath id="cd"><rect x="101" y="1113.6" width="422.6" height="423.4"/></clipPath>
<g clip-path="url(#cd)">
<polyline points="101,1288.6 118.6,1310.7 157.3,1339.9 171.4,1348.1 206.7,1395.9 241.9,1345.5 277.1,1320.6 488.4,1338 523.6,1298" fill="none" stroke="#000000" stroke-width="1.65" stroke-linejoin="miter"/>
<polyline points="101,1315.4 118.6,1336.6 171.4,1371.4 206.7,1414.7 241.9,1366.5 277.1,1342.7 490.8,1342.7 523.6,1302.2" fill="none" stroke="#000000" stroke-width="1.65" stroke-dasharray="12.6 5.4" stroke-dashoffset="2.41"/>
</g>
<line x1="367.9" y1="1326.2" x2="367.9" y2="1343.6" stroke="#222" stroke-width="1.2"/>
<rect x="364.4" y="1331.5" width="7" height="7" fill="#fff" stroke="#000000" stroke-width="1.4"/>
<line x1="422.5" y1="1381.8" x2="422.5" y2="1401.5" stroke="#222" stroke-width="1.2"/>
<polygon points="417.6,1391.6 422.5,1386.7 427.5,1391.6 422.5,1396.6" fill="#fff" stroke="#000000" stroke-width="1.4" stroke-linejoin="miter"/>
<rect x="424.9" y="1122.5" width="7.4" height="7.4" fill="#fff" stroke="#000000" stroke-width="1.3"/>
<polygon points="423.4,1144.3 428.6,1139.1 433.8,1144.3 428.6,1149.5" fill="#fff" stroke="#000000" stroke-width="1.3" stroke-linejoin="miter"/>
<text x="447.6" y="1130.8" font-size="14.8" text-anchor="start" font-weight="normal" fill="#000000" stroke="#000000" stroke-width="0.3">KNM 50.0</text>
<text x="447.6" y="1148.9" font-size="14.8" text-anchor="start" font-weight="normal" fill="#000000" stroke="#000000" stroke-width="0.3">KNM 58.7</text>
<line x1="294.4" y1="1501" x2="346.4" y2="1501" stroke="#000000" stroke-width="1.9"/>
<line x1="294.4" y1="1522.1" x2="346.4" y2="1522.1" stroke="#000000" stroke-width="1.9" stroke-dasharray="15 7.3"/>
<text x="356.4" y="1506.1" font-size="14.8" text-anchor="start" font-weight="normal" fill="#000000" stroke="#000000" stroke-width="0.3">relative sea level</text>
<text x="356.4" y="1527.2" font-size="14.8" text-anchor="start" font-weight="normal" fill="#000000" stroke="#000000" stroke-width="0.3">global ice volume history</text>
<line x1="101" y1="1537" x2="101" y2="1546.6" stroke="#231815" stroke-width="1.15"/>
<line x1="101" y1="1113.6" x2="101" y2="1104" stroke="#231815" stroke-width="1.15"/>
<text x="101" y="1571.6" font-size="22.4" text-anchor="middle" font-weight="normal" fill="#231815" stroke="#231815" stroke-width="0.3">16</text>
<line x1="118.6" y1="1537" x2="118.6" y2="1542" stroke="#231815" stroke-width="1.15"/>
<line x1="118.6" y1="1113.6" x2="118.6" y2="1108.6" stroke="#231815" stroke-width="1.15"/>
<line x1="136.2" y1="1537" x2="136.2" y2="1542" stroke="#231815" stroke-width="1.15"/>
<line x1="136.2" y1="1113.6" x2="136.2" y2="1108.6" stroke="#231815" stroke-width="1.15"/>
<line x1="153.8" y1="1537" x2="153.8" y2="1542" stroke="#231815" stroke-width="1.15"/>
<line x1="153.8" y1="1113.6" x2="153.8" y2="1108.6" stroke="#231815" stroke-width="1.15"/>
<line x1="171.4" y1="1537" x2="171.4" y2="1542" stroke="#231815" stroke-width="1.15"/>
<line x1="171.4" y1="1113.6" x2="171.4" y2="1108.6" stroke="#231815" stroke-width="1.15"/>
<line x1="189" y1="1537" x2="189" y2="1542" stroke="#231815" stroke-width="1.15"/>
<line x1="189" y1="1113.6" x2="189" y2="1108.6" stroke="#231815" stroke-width="1.15"/>
<line x1="206.7" y1="1537" x2="206.7" y2="1542" stroke="#231815" stroke-width="1.15"/>
<line x1="206.7" y1="1113.6" x2="206.7" y2="1108.6" stroke="#231815" stroke-width="1.15"/>
<line x1="224.3" y1="1537" x2="224.3" y2="1542" stroke="#231815" stroke-width="1.15"/>
<line x1="224.3" y1="1113.6" x2="224.3" y2="1108.6" stroke="#231815" stroke-width="1.15"/>
<line x1="241.9" y1="1537" x2="241.9" y2="1546.6" stroke="#231815" stroke-width="1.15"/>
<line x1="241.9" y1="1113.6" x2="241.9" y2="1104" stroke="#231815" stroke-width="1.15"/>
<text x="241.9" y="1571.6" font-size="22.4" text-anchor="middle" font-weight="normal" fill="#231815" stroke="#231815" stroke-width="0.3">20</text>
<line x1="259.5" y1="1537" x2="259.5" y2="1542" stroke="#231815" stroke-width="1.15"/>
<line x1="259.5" y1="1113.6" x2="259.5" y2="1108.6" stroke="#231815" stroke-width="1.15"/>
<line x1="277.1" y1="1537" x2="277.1" y2="1542" stroke="#231815" stroke-width="1.15"/>
<line x1="277.1" y1="1113.6" x2="277.1" y2="1108.6" stroke="#231815" stroke-width="1.15"/>
<line x1="294.7" y1="1537" x2="294.7" y2="1542" stroke="#231815" stroke-width="1.15"/>
<line x1="294.7" y1="1113.6" x2="294.7" y2="1108.6" stroke="#231815" stroke-width="1.15"/>
<line x1="312.3" y1="1537" x2="312.3" y2="1542" stroke="#231815" stroke-width="1.15"/>
<line x1="312.3" y1="1113.6" x2="312.3" y2="1108.6" stroke="#231815" stroke-width="1.15"/>
<line x1="329.9" y1="1537" x2="329.9" y2="1542" stroke="#231815" stroke-width="1.15"/>
<line x1="329.9" y1="1113.6" x2="329.9" y2="1108.6" stroke="#231815" stroke-width="1.15"/>
<line x1="347.5" y1="1537" x2="347.5" y2="1542" stroke="#231815" stroke-width="1.15"/>
<line x1="347.5" y1="1113.6" x2="347.5" y2="1108.6" stroke="#231815" stroke-width="1.15"/>
<line x1="365.1" y1="1537" x2="365.1" y2="1542" stroke="#231815" stroke-width="1.15"/>
<line x1="365.1" y1="1113.6" x2="365.1" y2="1108.6" stroke="#231815" stroke-width="1.15"/>
<line x1="382.7" y1="1537" x2="382.7" y2="1546.6" stroke="#231815" stroke-width="1.15"/>
<line x1="382.7" y1="1113.6" x2="382.7" y2="1104" stroke="#231815" stroke-width="1.15"/>
<text x="382.7" y="1571.6" font-size="22.4" text-anchor="middle" font-weight="normal" fill="#231815" stroke="#231815" stroke-width="0.3">24</text>
<line x1="400.3" y1="1537" x2="400.3" y2="1542" stroke="#231815" stroke-width="1.15"/>
<line x1="400.3" y1="1113.6" x2="400.3" y2="1108.6" stroke="#231815" stroke-width="1.15"/>
<line x1="418" y1="1537" x2="418" y2="1542" stroke="#231815" stroke-width="1.15"/>
<line x1="418" y1="1113.6" x2="418" y2="1108.6" stroke="#231815" stroke-width="1.15"/>
<line x1="435.6" y1="1537" x2="435.6" y2="1542" stroke="#231815" stroke-width="1.15"/>
<line x1="435.6" y1="1113.6" x2="435.6" y2="1108.6" stroke="#231815" stroke-width="1.15"/>
<line x1="453.2" y1="1537" x2="453.2" y2="1542" stroke="#231815" stroke-width="1.15"/>
<line x1="453.2" y1="1113.6" x2="453.2" y2="1108.6" stroke="#231815" stroke-width="1.15"/>
<line x1="470.8" y1="1537" x2="470.8" y2="1542" stroke="#231815" stroke-width="1.15"/>
<line x1="470.8" y1="1113.6" x2="470.8" y2="1108.6" stroke="#231815" stroke-width="1.15"/>
<line x1="488.4" y1="1537" x2="488.4" y2="1542" stroke="#231815" stroke-width="1.15"/>
<line x1="488.4" y1="1113.6" x2="488.4" y2="1108.6" stroke="#231815" stroke-width="1.15"/>
<line x1="506" y1="1537" x2="506" y2="1542" stroke="#231815" stroke-width="1.15"/>
<line x1="506" y1="1113.6" x2="506" y2="1108.6" stroke="#231815" stroke-width="1.15"/>
<line x1="523.6" y1="1537" x2="523.6" y2="1546.6" stroke="#231815" stroke-width="1.15"/>
<line x1="523.6" y1="1113.6" x2="523.6" y2="1104" stroke="#231815" stroke-width="1.15"/>
<text x="523.6" y="1571.6" font-size="22.4" text-anchor="middle" font-weight="normal" fill="#231815" stroke="#231815" stroke-width="0.3">28</text>
<line x1="101" y1="1113.6" x2="91.4" y2="1113.6" stroke="#231815" stroke-width="1.15"/>
<line x1="523.6" y1="1113.6" x2="533.2" y2="1113.6" stroke="#231815" stroke-width="1.15"/>
<text x="82.4" y="1120.9" font-size="22.4" text-anchor="end" font-weight="normal" fill="#231815" stroke="#231815" stroke-width="0.3">−60</text>
<line x1="101" y1="1123" x2="96" y2="1123" stroke="#231815" stroke-width="1.15"/>
<line x1="523.6" y1="1123" x2="528.6" y2="1123" stroke="#231815" stroke-width="1.15"/>
<line x1="101" y1="1132.4" x2="96" y2="1132.4" stroke="#231815" stroke-width="1.15"/>
<line x1="523.6" y1="1132.4" x2="528.6" y2="1132.4" stroke="#231815" stroke-width="1.15"/>
<line x1="101" y1="1141.8" x2="96" y2="1141.8" stroke="#231815" stroke-width="1.15"/>
<line x1="523.6" y1="1141.8" x2="528.6" y2="1141.8" stroke="#231815" stroke-width="1.15"/>
<line x1="101" y1="1151.2" x2="96" y2="1151.2" stroke="#231815" stroke-width="1.15"/>
<line x1="523.6" y1="1151.2" x2="528.6" y2="1151.2" stroke="#231815" stroke-width="1.15"/>
<line x1="101" y1="1160.6" x2="91.4" y2="1160.6" stroke="#231815" stroke-width="1.15"/>
<line x1="523.6" y1="1160.6" x2="533.2" y2="1160.6" stroke="#231815" stroke-width="1.15"/>
<text x="82.4" y="1167.9" font-size="22.4" text-anchor="end" font-weight="normal" fill="#231815" stroke="#231815" stroke-width="0.3">−70</text>
<line x1="101" y1="1170.1" x2="96" y2="1170.1" stroke="#231815" stroke-width="1.15"/>
<line x1="523.6" y1="1170.1" x2="528.6" y2="1170.1" stroke="#231815" stroke-width="1.15"/>
<line x1="101" y1="1179.5" x2="96" y2="1179.5" stroke="#231815" stroke-width="1.15"/>
<line x1="523.6" y1="1179.5" x2="528.6" y2="1179.5" stroke="#231815" stroke-width="1.15"/>
<line x1="101" y1="1188.9" x2="96" y2="1188.9" stroke="#231815" stroke-width="1.15"/>
<line x1="523.6" y1="1188.9" x2="528.6" y2="1188.9" stroke="#231815" stroke-width="1.15"/>
<line x1="101" y1="1198.3" x2="96" y2="1198.3" stroke="#231815" stroke-width="1.15"/>
<line x1="523.6" y1="1198.3" x2="528.6" y2="1198.3" stroke="#231815" stroke-width="1.15"/>
<line x1="101" y1="1207.7" x2="91.4" y2="1207.7" stroke="#231815" stroke-width="1.15"/>
<line x1="523.6" y1="1207.7" x2="533.2" y2="1207.7" stroke="#231815" stroke-width="1.15"/>
<text x="82.4" y="1215" font-size="22.4" text-anchor="end" font-weight="normal" fill="#231815" stroke="#231815" stroke-width="0.3">−80</text>
<line x1="101" y1="1217.1" x2="96" y2="1217.1" stroke="#231815" stroke-width="1.15"/>
<line x1="523.6" y1="1217.1" x2="528.6" y2="1217.1" stroke="#231815" stroke-width="1.15"/>
<line x1="101" y1="1226.5" x2="96" y2="1226.5" stroke="#231815" stroke-width="1.15"/>
<line x1="523.6" y1="1226.5" x2="528.6" y2="1226.5" stroke="#231815" stroke-width="1.15"/>
<line x1="101" y1="1235.9" x2="96" y2="1235.9" stroke="#231815" stroke-width="1.15"/>
<line x1="523.6" y1="1235.9" x2="528.6" y2="1235.9" stroke="#231815" stroke-width="1.15"/>
<line x1="101" y1="1245.3" x2="96" y2="1245.3" stroke="#231815" stroke-width="1.15"/>
<line x1="523.6" y1="1245.3" x2="528.6" y2="1245.3" stroke="#231815" stroke-width="1.15"/>
<line x1="101" y1="1254.7" x2="91.4" y2="1254.7" stroke="#231815" stroke-width="1.15"/>
<line x1="523.6" y1="1254.7" x2="533.2" y2="1254.7" stroke="#231815" stroke-width="1.15"/>
<text x="82.4" y="1262" font-size="22.4" text-anchor="end" font-weight="normal" fill="#231815" stroke="#231815" stroke-width="0.3">−90</text>
<line x1="101" y1="1264.1" x2="96" y2="1264.1" stroke="#231815" stroke-width="1.15"/>
<line x1="523.6" y1="1264.1" x2="528.6" y2="1264.1" stroke="#231815" stroke-width="1.15"/>
<line x1="101" y1="1273.6" x2="96" y2="1273.6" stroke="#231815" stroke-width="1.15"/>
<line x1="523.6" y1="1273.6" x2="528.6" y2="1273.6" stroke="#231815" stroke-width="1.15"/>
<line x1="101" y1="1283" x2="96" y2="1283" stroke="#231815" stroke-width="1.15"/>
<line x1="523.6" y1="1283" x2="528.6" y2="1283" stroke="#231815" stroke-width="1.15"/>
<line x1="101" y1="1292.4" x2="96" y2="1292.4" stroke="#231815" stroke-width="1.15"/>
<line x1="523.6" y1="1292.4" x2="528.6" y2="1292.4" stroke="#231815" stroke-width="1.15"/>
<line x1="101" y1="1301.8" x2="91.4" y2="1301.8" stroke="#231815" stroke-width="1.15"/>
<line x1="523.6" y1="1301.8" x2="533.2" y2="1301.8" stroke="#231815" stroke-width="1.15"/>
<text x="82.4" y="1309.1" font-size="22.4" text-anchor="end" font-weight="normal" fill="#231815" stroke="#231815" stroke-width="0.3">−100</text>
<line x1="101" y1="1311.2" x2="96" y2="1311.2" stroke="#231815" stroke-width="1.15"/>
<line x1="523.6" y1="1311.2" x2="528.6" y2="1311.2" stroke="#231815" stroke-width="1.15"/>
<line x1="101" y1="1320.6" x2="96" y2="1320.6" stroke="#231815" stroke-width="1.15"/>
<line x1="523.6" y1="1320.6" x2="528.6" y2="1320.6" stroke="#231815" stroke-width="1.15"/>
<line x1="101" y1="1330" x2="96" y2="1330" stroke="#231815" stroke-width="1.15"/>
<line x1="523.6" y1="1330" x2="528.6" y2="1330" stroke="#231815" stroke-width="1.15"/>
<line x1="101" y1="1339.4" x2="96" y2="1339.4" stroke="#231815" stroke-width="1.15"/>
<line x1="523.6" y1="1339.4" x2="528.6" y2="1339.4" stroke="#231815" stroke-width="1.15"/>
<line x1="101" y1="1348.8" x2="91.4" y2="1348.8" stroke="#231815" stroke-width="1.15"/>
<line x1="523.6" y1="1348.8" x2="533.2" y2="1348.8" stroke="#231815" stroke-width="1.15"/>
<text x="82.4" y="1356.1" font-size="22.4" text-anchor="end" font-weight="normal" fill="#231815" stroke="#231815" stroke-width="0.3">−110</text>
<line x1="101" y1="1358.2" x2="96" y2="1358.2" stroke="#231815" stroke-width="1.15"/>
<line x1="523.6" y1="1358.2" x2="528.6" y2="1358.2" stroke="#231815" stroke-width="1.15"/>
<line x1="101" y1="1367.6" x2="96" y2="1367.6" stroke="#231815" stroke-width="1.15"/>
<line x1="523.6" y1="1367.6" x2="528.6" y2="1367.6" stroke="#231815" stroke-width="1.15"/>
<line x1="101" y1="1377" x2="96" y2="1377" stroke="#231815" stroke-width="1.15"/>
<line x1="523.6" y1="1377" x2="528.6" y2="1377" stroke="#231815" stroke-width="1.15"/>
<line x1="101" y1="1386.5" x2="96" y2="1386.5" stroke="#231815" stroke-width="1.15"/>
<line x1="523.6" y1="1386.5" x2="528.6" y2="1386.5" stroke="#231815" stroke-width="1.15"/>
<line x1="101" y1="1395.9" x2="91.4" y2="1395.9" stroke="#231815" stroke-width="1.15"/>
<line x1="523.6" y1="1395.9" x2="533.2" y2="1395.9" stroke="#231815" stroke-width="1.15"/>
<text x="82.4" y="1403.2" font-size="22.4" text-anchor="end" font-weight="normal" fill="#231815" stroke="#231815" stroke-width="0.3">−120</text>
<line x1="101" y1="1405.3" x2="96" y2="1405.3" stroke="#231815" stroke-width="1.15"/>
<line x1="523.6" y1="1405.3" x2="528.6" y2="1405.3" stroke="#231815" stroke-width="1.15"/>
<line x1="101" y1="1414.7" x2="96" y2="1414.7" stroke="#231815" stroke-width="1.15"/>
<line x1="523.6" y1="1414.7" x2="528.6" y2="1414.7" stroke="#231815" stroke-width="1.15"/>
<line x1="101" y1="1424.1" x2="96" y2="1424.1" stroke="#231815" stroke-width="1.15"/>
<line x1="523.6" y1="1424.1" x2="528.6" y2="1424.1" stroke="#231815" stroke-width="1.15"/>
<line x1="101" y1="1433.5" x2="96" y2="1433.5" stroke="#231815" stroke-width="1.15"/>
<line x1="523.6" y1="1433.5" x2="528.6" y2="1433.5" stroke="#231815" stroke-width="1.15"/>
<line x1="101" y1="1442.9" x2="91.4" y2="1442.9" stroke="#231815" stroke-width="1.15"/>
<line x1="523.6" y1="1442.9" x2="533.2" y2="1442.9" stroke="#231815" stroke-width="1.15"/>
<text x="82.4" y="1450.2" font-size="22.4" text-anchor="end" font-weight="normal" fill="#231815" stroke="#231815" stroke-width="0.3">−130</text>
<line x1="101" y1="1452.3" x2="96" y2="1452.3" stroke="#231815" stroke-width="1.15"/>
<line x1="523.6" y1="1452.3" x2="528.6" y2="1452.3" stroke="#231815" stroke-width="1.15"/>
<line x1="101" y1="1461.7" x2="96" y2="1461.7" stroke="#231815" stroke-width="1.15"/>
<line x1="523.6" y1="1461.7" x2="528.6" y2="1461.7" stroke="#231815" stroke-width="1.15"/>
<line x1="101" y1="1471.1" x2="96" y2="1471.1" stroke="#231815" stroke-width="1.15"/>
<line x1="523.6" y1="1471.1" x2="528.6" y2="1471.1" stroke="#231815" stroke-width="1.15"/>
<line x1="101" y1="1480.5" x2="96" y2="1480.5" stroke="#231815" stroke-width="1.15"/>
<line x1="523.6" y1="1480.5" x2="528.6" y2="1480.5" stroke="#231815" stroke-width="1.15"/>
<line x1="101" y1="1490" x2="91.4" y2="1490" stroke="#231815" stroke-width="1.15"/>
<line x1="523.6" y1="1490" x2="533.2" y2="1490" stroke="#231815" stroke-width="1.15"/>
<text x="82.4" y="1497.3" font-size="22.4" text-anchor="end" font-weight="normal" fill="#231815" stroke="#231815" stroke-width="0.3">−140</text>
<line x1="101" y1="1499.4" x2="96" y2="1499.4" stroke="#231815" stroke-width="1.15"/>
<line x1="523.6" y1="1499.4" x2="528.6" y2="1499.4" stroke="#231815" stroke-width="1.15"/>
<line x1="101" y1="1508.8" x2="96" y2="1508.8" stroke="#231815" stroke-width="1.15"/>
<line x1="523.6" y1="1508.8" x2="528.6" y2="1508.8" stroke="#231815" stroke-width="1.15"/>
<line x1="101" y1="1518.2" x2="96" y2="1518.2" stroke="#231815" stroke-width="1.15"/>
<line x1="523.6" y1="1518.2" x2="528.6" y2="1518.2" stroke="#231815" stroke-width="1.15"/>
<line x1="101" y1="1527.6" x2="96" y2="1527.6" stroke="#231815" stroke-width="1.15"/>
<line x1="523.6" y1="1527.6" x2="528.6" y2="1527.6" stroke="#231815" stroke-width="1.15"/>
<line x1="101" y1="1537" x2="91.4" y2="1537" stroke="#231815" stroke-width="1.15"/>
<line x1="523.6" y1="1537" x2="533.2" y2="1537" stroke="#231815" stroke-width="1.15"/>
<text x="82.4" y="1544.3" font-size="22.4" text-anchor="end" font-weight="normal" fill="#231815" stroke="#231815" stroke-width="0.3">−150</text>
<rect x="101" y="1113.6" width="422.6" height="423.4" fill="none" stroke="#000000" stroke-width="2.2"/>
<text x="312.3" y="1602.3" font-size="22.2" text-anchor="middle" font-weight="normal" fill="#231815" stroke="#231815" stroke-width="0.3">Age (cal kyr BP)</text>
<text x="17.5" y="1326.3" font-size="22.2" text-anchor="middle" font-weight="normal" fill="#231815" transform="rotate(-90 17.5 1326.3)" stroke="#231815" stroke-width="0.3">Sea level (m)</text>
<text x="12.8" y="1100.1" font-size="29" text-anchor="start" font-weight="bold" fill="#000000">d</text>
<rect x="750.2" y="1372.8" width="76.8" height="65.7" fill="#000" fill-opacity="0.078"/>
<rect x="753.3" y="1345.4" width="77.4" height="44.1" fill="#000" fill-opacity="0.078"/>
<rect x="773" y="1371.3" width="82.8" height="18.2" fill="#000" fill-opacity="0.078"/>
<rect x="797" y="1400.1" width="42.1" height="17.5" fill="#000" fill-opacity="0.078"/>
<clipPath id="ce"><rect x="656.1" y="1113.7" width="422.5" height="423.3"/></clipPath>
<g clip-path="url(#ce)">
<polyline points="656.1,1315.9 673.7,1337.6 726.5,1372.9 761.7,1419.9 796.9,1372.9 832.1,1350.5 1043.4,1370 1078.6,1331.5" fill="none" stroke="#000000" stroke-width="1.65" stroke-linejoin="miter"/>
<polyline points="656.1,1315.5 673.7,1336.6 726.5,1371.4 761.7,1414.7 796.9,1366.5 832.1,1342.8 1045.9,1342.8 1078.6,1302.3" fill="none" stroke="#000000" stroke-width="1.65" stroke-dasharray="12.6 5.4" stroke-dashoffset="2.47"/>
</g>
<line x1="661" y1="1326.5" x2="677" y2="1326.5" stroke="#333" stroke-width="1.0"/>
<line x1="669" y1="1326.5" x2="669" y2="1326.5" stroke="#333" stroke-width="1.0"/>
<line x1="665" y1="1322.5" x2="673" y2="1330.5" stroke="#000000" stroke-width="1.2"/>
<line x1="665" y1="1330.5" x2="673" y2="1322.5" stroke="#000000" stroke-width="1.2"/>
<line x1="750.2" y1="1345.5" x2="750.2" y2="1345.5" stroke="#333" stroke-width="1.0"/>
<line x1="750.2" y1="1345.5" x2="750.2" y2="1345.5" stroke="#333" stroke-width="1.0"/>
<polygon points="745.6,1348.7 754.8,1348.7 750.2,1340.7" fill="#fff" stroke="#000000" stroke-width="1.2" stroke-linejoin="miter"/>
<line x1="731" y1="1352.6" x2="755" y2="1352.6" stroke="#333" stroke-width="1.0"/>
<line x1="743" y1="1343.6" x2="743" y2="1361.6" stroke="#333" stroke-width="1.0"/>
<circle cx="743" cy="1352.6" r="5.4" fill="#fff" stroke="#000000" stroke-width="1.2"/>
<line x1="753.7" y1="1378.4" x2="763.7" y2="1378.4" stroke="#333" stroke-width="1.0"/>
<line x1="758.7" y1="1345.9" x2="758.7" y2="1408.4" stroke="#333" stroke-width="1.0"/>
<rect x="754.6" y="1374.3" width="8.2" height="8.2" fill="#000000" stroke="#000000" stroke-width="1.2"/>
<line x1="750.3" y1="1405.7" x2="760.3" y2="1405.7" stroke="#333" stroke-width="1.0"/>
<line x1="755.3" y1="1375.7" x2="755.3" y2="1438.7" stroke="#333" stroke-width="1.0"/>
<rect x="751.2" y="1401.6" width="8.2" height="8.2" fill="#000000" stroke="#000000" stroke-width="1.2"/>
<line x1="757.2" y1="1368.5" x2="778.2" y2="1368.5" stroke="#333" stroke-width="1.0"/>
<line x1="763.2" y1="1359.5" x2="763.2" y2="1377.5" stroke="#333" stroke-width="1.0"/>
<circle cx="763.2" cy="1368.5" r="5.4" fill="#fff" stroke="#000000" stroke-width="1.2"/>
<line x1="768.5" y1="1368.5" x2="792.5" y2="1368.5" stroke="#333" stroke-width="1.0"/>
<line x1="778.5" y1="1359.5" x2="778.5" y2="1377.5" stroke="#333" stroke-width="1.0"/>
<circle cx="778.5" cy="1368.5" r="5.4" fill="#fff" stroke="#000000" stroke-width="1.2"/>
<line x1="773.4" y1="1380.4" x2="791.4" y2="1380.4" stroke="#333" stroke-width="1.0"/>
<line x1="782.4" y1="1372.4" x2="782.4" y2="1388.4" stroke="#333" stroke-width="1.0"/>
<polygon points="777.2,1380.4 782.4,1375.2 787.6,1380.4 782.4,1385.6" fill="#000000" stroke="#000000" stroke-width="1.2" stroke-linejoin="miter"/>
<line x1="797" y1="1408.9" x2="815" y2="1408.9" stroke="#333" stroke-width="1.0"/>
<line x1="806" y1="1399.9" x2="806" y2="1417.9" stroke="#333" stroke-width="1.0"/>
<polygon points="800.8,1408.9 806,1403.7 811.2,1408.9 806,1414.1" fill="#000000" stroke="#000000" stroke-width="1.2" stroke-linejoin="miter"/>
<line x1="816.1" y1="1378.4" x2="830.1" y2="1378.4" stroke="#333" stroke-width="1.0"/>
<line x1="823.1" y1="1345.4" x2="823.1" y2="1405.4" stroke="#333" stroke-width="1.0"/>
<rect x="819" y="1374.3" width="8.2" height="8.2" fill="#fff" stroke="#000000" stroke-width="1.2"/>
<line x1="810.1" y1="1405.7" x2="824.1" y2="1405.7" stroke="#333" stroke-width="1.0"/>
<line x1="817.1" y1="1372.7" x2="817.1" y2="1438.7" stroke="#333" stroke-width="1.0"/>
<rect x="813" y="1401.6" width="8.2" height="8.2" fill="#fff" stroke="#000000" stroke-width="1.2"/>
<line x1="835" y1="1380.4" x2="856" y2="1380.4" stroke="#333" stroke-width="1.0"/>
<line x1="845.5" y1="1371.4" x2="845.5" y2="1389.4" stroke="#333" stroke-width="1.0"/>
<polygon points="840.3,1380.4 845.5,1375.2 850.7,1380.4 845.5,1385.6" fill="#fff" stroke="#000000" stroke-width="1.2" stroke-linejoin="miter"/>
<line x1="818" y1="1408.9" x2="839" y2="1408.9" stroke="#333" stroke-width="1.0"/>
<line x1="828.5" y1="1400.9" x2="828.5" y2="1417.4" stroke="#333" stroke-width="1.0"/>
<polygon points="823.3,1408.9 828.5,1403.7 833.7,1408.9 828.5,1414.1" fill="#fff" stroke="#000000" stroke-width="1.2" stroke-linejoin="miter"/>
<circle cx="880.5" cy="1126.3" r="5.4" fill="#fff" stroke="#000000" stroke-width="1.3"/>
<text x="897" y="1130.9" font-size="14.8" text-anchor="start" font-weight="normal" fill="#000000" stroke="#000000" stroke-width="0.3">Shore facies: insolubles</text>
<rect x="876.6" y="1141.1" width="7.8" height="7.8" fill="#fff" stroke="#000000" stroke-width="1.3"/>
<text x="897" y="1149.6" font-size="14.8" text-anchor="start" font-weight="normal" fill="#000000" stroke="#000000" stroke-width="0.3">Subtidal facies: insolubles</text>
<rect x="876.6" y="1159.7" width="7.8" height="7.8" fill="#000000" stroke="#000000" stroke-width="1.3"/>
<text x="897" y="1168.2" font-size="14.8" text-anchor="start" font-weight="normal" fill="#000000" stroke="#000000" stroke-width="0.3">Subtidal facies: leachable</text>
<polygon points="875.3,1182.3 880.5,1177.1 885.7,1182.3 880.5,1187.5" fill="#fff" stroke="#000000" stroke-width="1.3" stroke-linejoin="miter"/>
<text x="897" y="1186.9" font-size="14.8" text-anchor="start" font-weight="normal" fill="#000000" stroke="#000000" stroke-width="0.3">Tidal flat: insolubles</text>
<polygon points="875.3,1200.9 880.5,1195.7 885.7,1200.9 880.5,1206.1" fill="#000000" stroke="#000000" stroke-width="1.3" stroke-linejoin="miter"/>
<text x="897" y="1205.5" font-size="14.8" text-anchor="start" font-weight="normal" fill="#000000" stroke="#000000" stroke-width="0.3">Tidal flat: leachable</text>
<polygon points="875.9,1222.8 885.1,1222.8 880.5,1214.8" fill="#fff" stroke="#000000" stroke-width="1.3" stroke-linejoin="miter"/>
<text x="897" y="1224.2" font-size="14.8" text-anchor="start" font-weight="normal" fill="#000000" stroke="#000000" stroke-width="0.3">Delta plain</text>
<line x1="876.9" y1="1234.7" x2="884.1" y2="1241.9" stroke="#000000" stroke-width="1.2"/>
<line x1="876.9" y1="1241.9" x2="884.1" y2="1234.7" stroke="#000000" stroke-width="1.2"/>
<text x="897" y="1242.9" font-size="14.8" text-anchor="start" font-weight="normal" fill="#000000" stroke="#000000" stroke-width="0.3">Tidal flat</text>
<line x1="844.4" y1="1501" x2="896.4" y2="1501" stroke="#000000" stroke-width="1.9"/>
<line x1="844.4" y1="1522.1" x2="896.4" y2="1522.1" stroke="#000000" stroke-width="1.9" stroke-dasharray="15 7.3"/>
<text x="906.4" y="1506.1" font-size="14.8" text-anchor="start" font-weight="normal" fill="#000000" stroke="#000000" stroke-width="0.3">relative sea level</text>
<text x="906.4" y="1527.2" font-size="14.8" text-anchor="start" font-weight="normal" fill="#000000" stroke="#000000" stroke-width="0.3">global ice volume history</text>
<line x1="656.1" y1="1537" x2="656.1" y2="1546.6" stroke="#231815" stroke-width="1.15"/>
<line x1="656.1" y1="1113.7" x2="656.1" y2="1104.1" stroke="#231815" stroke-width="1.15"/>
<text x="656.1" y="1571.6" font-size="22.4" text-anchor="middle" font-weight="normal" fill="#231815" stroke="#231815" stroke-width="0.3">16</text>
<line x1="673.7" y1="1537" x2="673.7" y2="1542" stroke="#231815" stroke-width="1.15"/>
<line x1="673.7" y1="1113.7" x2="673.7" y2="1108.7" stroke="#231815" stroke-width="1.15"/>
<line x1="691.3" y1="1537" x2="691.3" y2="1542" stroke="#231815" stroke-width="1.15"/>
<line x1="691.3" y1="1113.7" x2="691.3" y2="1108.7" stroke="#231815" stroke-width="1.15"/>
<line x1="708.9" y1="1537" x2="708.9" y2="1542" stroke="#231815" stroke-width="1.15"/>
<line x1="708.9" y1="1113.7" x2="708.9" y2="1108.7" stroke="#231815" stroke-width="1.15"/>
<line x1="726.5" y1="1537" x2="726.5" y2="1542" stroke="#231815" stroke-width="1.15"/>
<line x1="726.5" y1="1113.7" x2="726.5" y2="1108.7" stroke="#231815" stroke-width="1.15"/>
<line x1="744.1" y1="1537" x2="744.1" y2="1542" stroke="#231815" stroke-width="1.15"/>
<line x1="744.1" y1="1113.7" x2="744.1" y2="1108.7" stroke="#231815" stroke-width="1.15"/>
<line x1="761.7" y1="1537" x2="761.7" y2="1542" stroke="#231815" stroke-width="1.15"/>
<line x1="761.7" y1="1113.7" x2="761.7" y2="1108.7" stroke="#231815" stroke-width="1.15"/>
<line x1="779.3" y1="1537" x2="779.3" y2="1542" stroke="#231815" stroke-width="1.15"/>
<line x1="779.3" y1="1113.7" x2="779.3" y2="1108.7" stroke="#231815" stroke-width="1.15"/>
<line x1="796.9" y1="1537" x2="796.9" y2="1546.6" stroke="#231815" stroke-width="1.15"/>
<line x1="796.9" y1="1113.7" x2="796.9" y2="1104.1" stroke="#231815" stroke-width="1.15"/>
<text x="796.9" y="1571.6" font-size="22.4" text-anchor="middle" font-weight="normal" fill="#231815" stroke="#231815" stroke-width="0.3">20</text>
<line x1="814.5" y1="1537" x2="814.5" y2="1542" stroke="#231815" stroke-width="1.15"/>
<line x1="814.5" y1="1113.7" x2="814.5" y2="1108.7" stroke="#231815" stroke-width="1.15"/>
<line x1="832.1" y1="1537" x2="832.1" y2="1542" stroke="#231815" stroke-width="1.15"/>
<line x1="832.1" y1="1113.7" x2="832.1" y2="1108.7" stroke="#231815" stroke-width="1.15"/>
<line x1="849.7" y1="1537" x2="849.7" y2="1542" stroke="#231815" stroke-width="1.15"/>
<line x1="849.7" y1="1113.7" x2="849.7" y2="1108.7" stroke="#231815" stroke-width="1.15"/>
<line x1="867.3" y1="1537" x2="867.3" y2="1542" stroke="#231815" stroke-width="1.15"/>
<line x1="867.3" y1="1113.7" x2="867.3" y2="1108.7" stroke="#231815" stroke-width="1.15"/>
<line x1="885" y1="1537" x2="885" y2="1542" stroke="#231815" stroke-width="1.15"/>
<line x1="885" y1="1113.7" x2="885" y2="1108.7" stroke="#231815" stroke-width="1.15"/>
<line x1="902.6" y1="1537" x2="902.6" y2="1542" stroke="#231815" stroke-width="1.15"/>
<line x1="902.6" y1="1113.7" x2="902.6" y2="1108.7" stroke="#231815" stroke-width="1.15"/>
<line x1="920.2" y1="1537" x2="920.2" y2="1542" stroke="#231815" stroke-width="1.15"/>
<line x1="920.2" y1="1113.7" x2="920.2" y2="1108.7" stroke="#231815" stroke-width="1.15"/>
<line x1="937.8" y1="1537" x2="937.8" y2="1546.6" stroke="#231815" stroke-width="1.15"/>
<line x1="937.8" y1="1113.7" x2="937.8" y2="1104.1" stroke="#231815" stroke-width="1.15"/>
<text x="937.8" y="1571.6" font-size="22.4" text-anchor="middle" font-weight="normal" fill="#231815" stroke="#231815" stroke-width="0.3">24</text>
<line x1="955.4" y1="1537" x2="955.4" y2="1542" stroke="#231815" stroke-width="1.15"/>
<line x1="955.4" y1="1113.7" x2="955.4" y2="1108.7" stroke="#231815" stroke-width="1.15"/>
<line x1="973" y1="1537" x2="973" y2="1542" stroke="#231815" stroke-width="1.15"/>
<line x1="973" y1="1113.7" x2="973" y2="1108.7" stroke="#231815" stroke-width="1.15"/>
<line x1="990.6" y1="1537" x2="990.6" y2="1542" stroke="#231815" stroke-width="1.15"/>
<line x1="990.6" y1="1113.7" x2="990.6" y2="1108.7" stroke="#231815" stroke-width="1.15"/>
<line x1="1008.2" y1="1537" x2="1008.2" y2="1542" stroke="#231815" stroke-width="1.15"/>
<line x1="1008.2" y1="1113.7" x2="1008.2" y2="1108.7" stroke="#231815" stroke-width="1.15"/>
<line x1="1025.8" y1="1537" x2="1025.8" y2="1542" stroke="#231815" stroke-width="1.15"/>
<line x1="1025.8" y1="1113.7" x2="1025.8" y2="1108.7" stroke="#231815" stroke-width="1.15"/>
<line x1="1043.4" y1="1537" x2="1043.4" y2="1542" stroke="#231815" stroke-width="1.15"/>
<line x1="1043.4" y1="1113.7" x2="1043.4" y2="1108.7" stroke="#231815" stroke-width="1.15"/>
<line x1="1061" y1="1537" x2="1061" y2="1542" stroke="#231815" stroke-width="1.15"/>
<line x1="1061" y1="1113.7" x2="1061" y2="1108.7" stroke="#231815" stroke-width="1.15"/>
<line x1="1078.6" y1="1537" x2="1078.6" y2="1546.6" stroke="#231815" stroke-width="1.15"/>
<line x1="1078.6" y1="1113.7" x2="1078.6" y2="1104.1" stroke="#231815" stroke-width="1.15"/>
<text x="1078.6" y="1571.6" font-size="22.4" text-anchor="middle" font-weight="normal" fill="#231815" stroke="#231815" stroke-width="0.3">28</text>
<line x1="656.1" y1="1113.7" x2="646.5" y2="1113.7" stroke="#231815" stroke-width="1.15"/>
<line x1="1078.6" y1="1113.7" x2="1088.2" y2="1113.7" stroke="#231815" stroke-width="1.15"/>
<text x="637.5" y="1121" font-size="22.4" text-anchor="end" font-weight="normal" fill="#231815" stroke="#231815" stroke-width="0.3">−60</text>
<line x1="656.1" y1="1123.1" x2="651.1" y2="1123.1" stroke="#231815" stroke-width="1.15"/>
<line x1="1078.6" y1="1123.1" x2="1083.6" y2="1123.1" stroke="#231815" stroke-width="1.15"/>
<line x1="656.1" y1="1132.5" x2="651.1" y2="1132.5" stroke="#231815" stroke-width="1.15"/>
<line x1="1078.6" y1="1132.5" x2="1083.6" y2="1132.5" stroke="#231815" stroke-width="1.15"/>
<line x1="656.1" y1="1141.9" x2="651.1" y2="1141.9" stroke="#231815" stroke-width="1.15"/>
<line x1="1078.6" y1="1141.9" x2="1083.6" y2="1141.9" stroke="#231815" stroke-width="1.15"/>
<line x1="656.1" y1="1151.3" x2="651.1" y2="1151.3" stroke="#231815" stroke-width="1.15"/>
<line x1="1078.6" y1="1151.3" x2="1083.6" y2="1151.3" stroke="#231815" stroke-width="1.15"/>
<line x1="656.1" y1="1160.7" x2="646.5" y2="1160.7" stroke="#231815" stroke-width="1.15"/>
<line x1="1078.6" y1="1160.7" x2="1088.2" y2="1160.7" stroke="#231815" stroke-width="1.15"/>
<text x="637.5" y="1168" font-size="22.4" text-anchor="end" font-weight="normal" fill="#231815" stroke="#231815" stroke-width="0.3">−70</text>
<line x1="656.1" y1="1170.1" x2="651.1" y2="1170.1" stroke="#231815" stroke-width="1.15"/>
<line x1="1078.6" y1="1170.1" x2="1083.6" y2="1170.1" stroke="#231815" stroke-width="1.15"/>
<line x1="656.1" y1="1179.5" x2="651.1" y2="1179.5" stroke="#231815" stroke-width="1.15"/>
<line x1="1078.6" y1="1179.5" x2="1083.6" y2="1179.5" stroke="#231815" stroke-width="1.15"/>
<line x1="656.1" y1="1189" x2="651.1" y2="1189" stroke="#231815" stroke-width="1.15"/>
<line x1="1078.6" y1="1189" x2="1083.6" y2="1189" stroke="#231815" stroke-width="1.15"/>
<line x1="656.1" y1="1198.4" x2="651.1" y2="1198.4" stroke="#231815" stroke-width="1.15"/>
<line x1="1078.6" y1="1198.4" x2="1083.6" y2="1198.4" stroke="#231815" stroke-width="1.15"/>
<line x1="656.1" y1="1207.8" x2="646.5" y2="1207.8" stroke="#231815" stroke-width="1.15"/>
<line x1="1078.6" y1="1207.8" x2="1088.2" y2="1207.8" stroke="#231815" stroke-width="1.15"/>
<text x="637.5" y="1215.1" font-size="22.4" text-anchor="end" font-weight="normal" fill="#231815" stroke="#231815" stroke-width="0.3">−80</text>
<line x1="656.1" y1="1217.2" x2="651.1" y2="1217.2" stroke="#231815" stroke-width="1.15"/>
<line x1="1078.6" y1="1217.2" x2="1083.6" y2="1217.2" stroke="#231815" stroke-width="1.15"/>
<line x1="656.1" y1="1226.6" x2="651.1" y2="1226.6" stroke="#231815" stroke-width="1.15"/>
<line x1="1078.6" y1="1226.6" x2="1083.6" y2="1226.6" stroke="#231815" stroke-width="1.15"/>
<line x1="656.1" y1="1236" x2="651.1" y2="1236" stroke="#231815" stroke-width="1.15"/>
<line x1="1078.6" y1="1236" x2="1083.6" y2="1236" stroke="#231815" stroke-width="1.15"/>
<line x1="656.1" y1="1245.4" x2="651.1" y2="1245.4" stroke="#231815" stroke-width="1.15"/>
<line x1="1078.6" y1="1245.4" x2="1083.6" y2="1245.4" stroke="#231815" stroke-width="1.15"/>
<line x1="656.1" y1="1254.8" x2="646.5" y2="1254.8" stroke="#231815" stroke-width="1.15"/>
<line x1="1078.6" y1="1254.8" x2="1088.2" y2="1254.8" stroke="#231815" stroke-width="1.15"/>
<text x="637.5" y="1262.1" font-size="22.4" text-anchor="end" font-weight="normal" fill="#231815" stroke="#231815" stroke-width="0.3">−90</text>
<line x1="656.1" y1="1264.2" x2="651.1" y2="1264.2" stroke="#231815" stroke-width="1.15"/>
<line x1="1078.6" y1="1264.2" x2="1083.6" y2="1264.2" stroke="#231815" stroke-width="1.15"/>
<line x1="656.1" y1="1273.6" x2="651.1" y2="1273.6" stroke="#231815" stroke-width="1.15"/>
<line x1="1078.6" y1="1273.6" x2="1083.6" y2="1273.6" stroke="#231815" stroke-width="1.15"/>
<line x1="656.1" y1="1283" x2="651.1" y2="1283" stroke="#231815" stroke-width="1.15"/>
<line x1="1078.6" y1="1283" x2="1083.6" y2="1283" stroke="#231815" stroke-width="1.15"/>
<line x1="656.1" y1="1292.4" x2="651.1" y2="1292.4" stroke="#231815" stroke-width="1.15"/>
<line x1="1078.6" y1="1292.4" x2="1083.6" y2="1292.4" stroke="#231815" stroke-width="1.15"/>
<line x1="656.1" y1="1301.8" x2="646.5" y2="1301.8" stroke="#231815" stroke-width="1.15"/>
<line x1="1078.6" y1="1301.8" x2="1088.2" y2="1301.8" stroke="#231815" stroke-width="1.15"/>
<text x="637.5" y="1309.1" font-size="22.4" text-anchor="end" font-weight="normal" fill="#231815" stroke="#231815" stroke-width="0.3">−100</text>
<line x1="656.1" y1="1311.2" x2="651.1" y2="1311.2" stroke="#231815" stroke-width="1.15"/>
<line x1="1078.6" y1="1311.2" x2="1083.6" y2="1311.2" stroke="#231815" stroke-width="1.15"/>
<line x1="656.1" y1="1320.6" x2="651.1" y2="1320.6" stroke="#231815" stroke-width="1.15"/>
<line x1="1078.6" y1="1320.6" x2="1083.6" y2="1320.6" stroke="#231815" stroke-width="1.15"/>
<line x1="656.1" y1="1330.1" x2="651.1" y2="1330.1" stroke="#231815" stroke-width="1.15"/>
<line x1="1078.6" y1="1330.1" x2="1083.6" y2="1330.1" stroke="#231815" stroke-width="1.15"/>
<line x1="656.1" y1="1339.5" x2="651.1" y2="1339.5" stroke="#231815" stroke-width="1.15"/>
<line x1="1078.6" y1="1339.5" x2="1083.6" y2="1339.5" stroke="#231815" stroke-width="1.15"/>
<line x1="656.1" y1="1348.9" x2="646.5" y2="1348.9" stroke="#231815" stroke-width="1.15"/>
<line x1="1078.6" y1="1348.9" x2="1088.2" y2="1348.9" stroke="#231815" stroke-width="1.15"/>
<text x="637.5" y="1356.2" font-size="22.4" text-anchor="end" font-weight="normal" fill="#231815" stroke="#231815" stroke-width="0.3">−110</text>
<line x1="656.1" y1="1358.3" x2="651.1" y2="1358.3" stroke="#231815" stroke-width="1.15"/>
<line x1="1078.6" y1="1358.3" x2="1083.6" y2="1358.3" stroke="#231815" stroke-width="1.15"/>
<line x1="656.1" y1="1367.7" x2="651.1" y2="1367.7" stroke="#231815" stroke-width="1.15"/>
<line x1="1078.6" y1="1367.7" x2="1083.6" y2="1367.7" stroke="#231815" stroke-width="1.15"/>
<line x1="656.1" y1="1377.1" x2="651.1" y2="1377.1" stroke="#231815" stroke-width="1.15"/>
<line x1="1078.6" y1="1377.1" x2="1083.6" y2="1377.1" stroke="#231815" stroke-width="1.15"/>
<line x1="656.1" y1="1386.5" x2="651.1" y2="1386.5" stroke="#231815" stroke-width="1.15"/>
<line x1="1078.6" y1="1386.5" x2="1083.6" y2="1386.5" stroke="#231815" stroke-width="1.15"/>
<line x1="656.1" y1="1395.9" x2="646.5" y2="1395.9" stroke="#231815" stroke-width="1.15"/>
<line x1="1078.6" y1="1395.9" x2="1088.2" y2="1395.9" stroke="#231815" stroke-width="1.15"/>
<text x="637.5" y="1403.2" font-size="22.4" text-anchor="end" font-weight="normal" fill="#231815" stroke="#231815" stroke-width="0.3">−120</text>
<line x1="656.1" y1="1405.3" x2="651.1" y2="1405.3" stroke="#231815" stroke-width="1.15"/>
<line x1="1078.6" y1="1405.3" x2="1083.6" y2="1405.3" stroke="#231815" stroke-width="1.15"/>
<line x1="656.1" y1="1414.7" x2="651.1" y2="1414.7" stroke="#231815" stroke-width="1.15"/>
<line x1="1078.6" y1="1414.7" x2="1083.6" y2="1414.7" stroke="#231815" stroke-width="1.15"/>
<line x1="656.1" y1="1424.1" x2="651.1" y2="1424.1" stroke="#231815" stroke-width="1.15"/>
<line x1="1078.6" y1="1424.1" x2="1083.6" y2="1424.1" stroke="#231815" stroke-width="1.15"/>
<line x1="656.1" y1="1433.5" x2="651.1" y2="1433.5" stroke="#231815" stroke-width="1.15"/>
<line x1="1078.6" y1="1433.5" x2="1083.6" y2="1433.5" stroke="#231815" stroke-width="1.15"/>
<line x1="656.1" y1="1442.9" x2="646.5" y2="1442.9" stroke="#231815" stroke-width="1.15"/>
<line x1="1078.6" y1="1442.9" x2="1088.2" y2="1442.9" stroke="#231815" stroke-width="1.15"/>
<text x="637.5" y="1450.2" font-size="22.4" text-anchor="end" font-weight="normal" fill="#231815" stroke="#231815" stroke-width="0.3">−130</text>
<line x1="656.1" y1="1452.3" x2="651.1" y2="1452.3" stroke="#231815" stroke-width="1.15"/>
<line x1="1078.6" y1="1452.3" x2="1083.6" y2="1452.3" stroke="#231815" stroke-width="1.15"/>
<line x1="656.1" y1="1461.7" x2="651.1" y2="1461.7" stroke="#231815" stroke-width="1.15"/>
<line x1="1078.6" y1="1461.7" x2="1083.6" y2="1461.7" stroke="#231815" stroke-width="1.15"/>
<line x1="656.1" y1="1471.2" x2="651.1" y2="1471.2" stroke="#231815" stroke-width="1.15"/>
<line x1="1078.6" y1="1471.2" x2="1083.6" y2="1471.2" stroke="#231815" stroke-width="1.15"/>
<line x1="656.1" y1="1480.6" x2="651.1" y2="1480.6" stroke="#231815" stroke-width="1.15"/>
<line x1="1078.6" y1="1480.6" x2="1083.6" y2="1480.6" stroke="#231815" stroke-width="1.15"/>
<line x1="656.1" y1="1490" x2="646.5" y2="1490" stroke="#231815" stroke-width="1.15"/>
<line x1="1078.6" y1="1490" x2="1088.2" y2="1490" stroke="#231815" stroke-width="1.15"/>
<text x="637.5" y="1497.3" font-size="22.4" text-anchor="end" font-weight="normal" fill="#231815" stroke="#231815" stroke-width="0.3">−140</text>
<line x1="656.1" y1="1499.4" x2="651.1" y2="1499.4" stroke="#231815" stroke-width="1.15"/>
<line x1="1078.6" y1="1499.4" x2="1083.6" y2="1499.4" stroke="#231815" stroke-width="1.15"/>
<line x1="656.1" y1="1508.8" x2="651.1" y2="1508.8" stroke="#231815" stroke-width="1.15"/>
<line x1="1078.6" y1="1508.8" x2="1083.6" y2="1508.8" stroke="#231815" stroke-width="1.15"/>
<line x1="656.1" y1="1518.2" x2="651.1" y2="1518.2" stroke="#231815" stroke-width="1.15"/>
<line x1="1078.6" y1="1518.2" x2="1083.6" y2="1518.2" stroke="#231815" stroke-width="1.15"/>
<line x1="656.1" y1="1527.6" x2="651.1" y2="1527.6" stroke="#231815" stroke-width="1.15"/>
<line x1="1078.6" y1="1527.6" x2="1083.6" y2="1527.6" stroke="#231815" stroke-width="1.15"/>
<line x1="656.1" y1="1537" x2="646.5" y2="1537" stroke="#231815" stroke-width="1.15"/>
<line x1="1078.6" y1="1537" x2="1088.2" y2="1537" stroke="#231815" stroke-width="1.15"/>
<text x="637.5" y="1544.3" font-size="22.4" text-anchor="end" font-weight="normal" fill="#231815" stroke="#231815" stroke-width="0.3">−150</text>
<rect x="656.1" y="1113.7" width="422.5" height="423.3" fill="none" stroke="#000000" stroke-width="2.2"/>
<text x="867.3" y="1602.3" font-size="22.2" text-anchor="middle" font-weight="normal" fill="#231815" stroke="#231815" stroke-width="0.3">Age (cal kyr BP)</text>
<text x="572.6" y="1326.3" font-size="22.2" text-anchor="middle" font-weight="normal" fill="#231815" transform="rotate(-90 572.6 1326.3)" stroke="#231815" stroke-width="0.3">Sea level (m)</text>
<text x="567.8" y="1100.1" font-size="29" text-anchor="start" font-weight="bold" fill="#000000">e</text>
<clipPath id="cf"><rect x="1211.4" y="1113.7" width="422.9" height="423.3"/></clipPath>
<g clip-path="url(#cf)">
<polyline points="1211.4,1299.5 1229,1318.3 1281.9,1348.9 1317.1,1383.2 1352.4,1336.2 1387.6,1308.4 1599.1,1295.5 1634.3,1259.5" fill="none" stroke="#000000" stroke-width="1.65" stroke-linejoin="miter"/>
<polyline points="1211.4,1315.5 1229,1336.6 1281.9,1371.4 1317.1,1414.7 1352.4,1366.5 1387.6,1342.8 1601.5,1342.8 1634.3,1302.3" fill="none" stroke="#000000" stroke-width="1.65" stroke-dasharray="12.6 5.4" stroke-dashoffset="2.35"/>
</g>
<line x1="1267.3" y1="1334" x2="1267.3" y2="1354.2" stroke="#111" stroke-width="1.0"/>
<line x1="1285.7" y1="1331.8" x2="1285.7" y2="1355.3" stroke="#111" stroke-width="1.0"/>
<line x1="1287.7" y1="1334" x2="1287.7" y2="1359.4" stroke="#111" stroke-width="1.0"/>
<line x1="1289.3" y1="1335.2" x2="1289.3" y2="1359.8" stroke="#111" stroke-width="1.0"/>
<line x1="1297.3" y1="1339.2" x2="1297.3" y2="1358.7" stroke="#111" stroke-width="1.0"/>
<line x1="1300.5" y1="1346.4" x2="1300.5" y2="1363.8" stroke="#111" stroke-width="1.0"/>
<line x1="1307.9" y1="1343" x2="1307.9" y2="1366.5" stroke="#111" stroke-width="1.0"/>
<line x1="1309" y1="1343.7" x2="1309" y2="1374.4" stroke="#111" stroke-width="1.0"/>
<line x1="1310.1" y1="1350.8" x2="1310.1" y2="1375.5" stroke="#111" stroke-width="1.0"/>
<line x1="1306.7" y1="1350.8" x2="1306.7" y2="1374.4" stroke="#111" stroke-width="1.0"/>
<line x1="1319.7" y1="1373.7" x2="1319.7" y2="1397.4" stroke="#111" stroke-width="1.0"/>
<line x1="1364.3" y1="1192.3" x2="1364.3" y2="1427.4" stroke="#111" stroke-width="1.0"/>
<line x1="1296" y1="1315.5" x2="1296" y2="1339" stroke="#111" stroke-width="1.0"/>
<line x1="1332.3" y1="1121.7" x2="1332.3" y2="1356.9" stroke="#111" stroke-width="1.0"/>
<line x1="1338.1" y1="1133.6" x2="1338.1" y2="1368.8" stroke="#111" stroke-width="1.0"/>
<line x1="1339.2" y1="1133.6" x2="1339.2" y2="1362.5" stroke="#111" stroke-width="1.0"/>
<line x1="1333.6" y1="1267.5" x2="1333.6" y2="1360.9" stroke="#111" stroke-width="1.0"/>
<line x1="1339.7" y1="1269.1" x2="1339.7" y2="1362.5" stroke="#111" stroke-width="1.0"/>
<line x1="1343.7" y1="1261.9" x2="1343.7" y2="1355.3" stroke="#111" stroke-width="1.0"/>
<line x1="1349.1" y1="1277.4" x2="1349.1" y2="1371.4" stroke="#111" stroke-width="1.0"/>
<line x1="1372.4" y1="1292.6" x2="1372.4" y2="1386.7" stroke="#111" stroke-width="1.0"/>
<line x1="1374.4" y1="1298.7" x2="1374.4" y2="1392.3" stroke="#111" stroke-width="1.0"/>
<line x1="1330.3" y1="1317.2" x2="1330.3" y2="1340.8" stroke="#111" stroke-width="1.0"/>
<line x1="1335.2" y1="1325.1" x2="1335.2" y2="1348.2" stroke="#111" stroke-width="1.0"/>
<line x1="1341.9" y1="1327.3" x2="1341.9" y2="1349.7" stroke="#111" stroke-width="1.0"/>
<line x1="1411.8" y1="1214.5" x2="1411.8" y2="1449.4" stroke="#111" stroke-width="1.0"/>
<line x1="1414.5" y1="1215.5" x2="1414.5" y2="1450.1" stroke="#111" stroke-width="1.0"/>
<line x1="1417.8" y1="1216.5" x2="1417.8" y2="1451.4" stroke="#111" stroke-width="1.0"/>
<line x1="1421.5" y1="1221.2" x2="1421.5" y2="1455.7" stroke="#111" stroke-width="1.0"/>
<line x1="1428.9" y1="1363.7" x2="1428.9" y2="1458.1" stroke="#111" stroke-width="1.0"/>
<line x1="1441.3" y1="1370.1" x2="1441.3" y2="1464.1" stroke="#111" stroke-width="1.0"/>
<line x1="1443.3" y1="1371.1" x2="1443.3" y2="1465.1" stroke="#111" stroke-width="1.0"/>
<line x1="1459.3" y1="1379.5" x2="1459.3" y2="1473.8" stroke="#111" stroke-width="1.0"/>
<line x1="1468.4" y1="1380.5" x2="1468.4" y2="1474.5" stroke="#111" stroke-width="1.0"/>
<line x1="1488.1" y1="1386.8" x2="1488.1" y2="1481.2" stroke="#111" stroke-width="1.0"/>
<line x1="1513.9" y1="1249" x2="1513.9" y2="1484.2" stroke="#111" stroke-width="1.0"/>
<line x1="1524.6" y1="1248.3" x2="1524.6" y2="1483.2" stroke="#111" stroke-width="1.0"/>
<line x1="1529.9" y1="1258" x2="1529.9" y2="1493.2" stroke="#111" stroke-width="1.0"/>
<line x1="1537.9" y1="1257.7" x2="1537.9" y2="1492.9" stroke="#111" stroke-width="1.0"/>
<line x1="1550" y1="1404.6" x2="1550" y2="1498.2" stroke="#111" stroke-width="1.0"/>
<line x1="1551.7" y1="1402.9" x2="1551.7" y2="1498.9" stroke="#111" stroke-width="1.0"/>
<line x1="1554.3" y1="1403.9" x2="1554.3" y2="1499.2" stroke="#111" stroke-width="1.0"/>
<line x1="1559" y1="1406.2" x2="1559" y2="1500.6" stroke="#111" stroke-width="1.0"/>
<line x1="1565" y1="1406.2" x2="1565" y2="1500.9" stroke="#111" stroke-width="1.0"/>
<line x1="1416.5" y1="1216.2" x2="1416.5" y2="1450.7" stroke="#111" stroke-width="0.9"/>
<polygon points="1263,1360.2 1271.7,1360.2 1267.3,1352.6" fill="#fff" stroke="#000000" stroke-width="1.1" stroke-linejoin="miter"/>
<circle cx="1284.8" cy="1355.3" r="5.6" fill="#fff" stroke="#000000" stroke-width="1.2"/>
<circle cx="1287.7" cy="1359.4" r="5.6" fill="#fff" stroke="#000000" stroke-width="1.2"/>
<circle cx="1297.3" cy="1358.7" r="5.6" fill="#fff" stroke="#000000" stroke-width="1.2"/>
<circle cx="1300.5" cy="1363.8" r="5.6" fill="#fff" stroke="#000000" stroke-width="1.2"/>
<circle cx="1308.3" cy="1366.5" r="5.6" fill="#fff" stroke="#000000" stroke-width="1.2"/>
<circle cx="1306.1" cy="1374.4" r="5.6" fill="#fff" stroke="#000000" stroke-width="1.2"/>
<circle cx="1310.1" cy="1375.5" r="5.6" fill="#fff" stroke="#000000" stroke-width="1.2"/>
<circle cx="1319.7" cy="1397.4" r="5.6" fill="#fff" stroke="#000000" stroke-width="1.2"/>
<circle cx="1363.9" cy="1427.4" r="5.6" fill="#fff" stroke="#000000" stroke-width="1.2"/>
<circle cx="1411.8" cy="1449.4" r="5.6" fill="#fff" stroke="#000000" stroke-width="1.2"/>
<circle cx="1414.5" cy="1450.1" r="5.6" fill="#fff" stroke="#000000" stroke-width="1.2"/>
<circle cx="1417.8" cy="1451.4" r="5.6" fill="#fff" stroke="#000000" stroke-width="1.2"/>
<circle cx="1421.5" cy="1455.7" r="5.6" fill="#fff" stroke="#000000" stroke-width="1.2"/>
<circle cx="1428.9" cy="1458.1" r="5.6" fill="#fff" stroke="#000000" stroke-width="1.2"/>
<circle cx="1441.3" cy="1464.1" r="5.6" fill="#fff" stroke="#000000" stroke-width="1.2"/>
<circle cx="1443.3" cy="1465.1" r="5.6" fill="#fff" stroke="#000000" stroke-width="1.2"/>
<circle cx="1459.3" cy="1473.8" r="5.6" fill="#fff" stroke="#000000" stroke-width="1.2"/>
<circle cx="1468.4" cy="1474.5" r="5.6" fill="#fff" stroke="#000000" stroke-width="1.2"/>
<circle cx="1488.1" cy="1481.2" r="5.6" fill="#fff" stroke="#000000" stroke-width="1.2"/>
<circle cx="1513.9" cy="1484.2" r="5.6" fill="#fff" stroke="#000000" stroke-width="1.2"/>
<circle cx="1524.6" cy="1483.2" r="5.6" fill="#fff" stroke="#000000" stroke-width="1.2"/>
<circle cx="1529.9" cy="1493.2" r="5.6" fill="#fff" stroke="#000000" stroke-width="1.2"/>
<circle cx="1537.9" cy="1492.9" r="5.6" fill="#fff" stroke="#000000" stroke-width="1.2"/>
<circle cx="1550" cy="1498.2" r="5.6" fill="#fff" stroke="#000000" stroke-width="1.2"/>
<circle cx="1551.7" cy="1498.9" r="5.6" fill="#fff" stroke="#000000" stroke-width="1.2"/>
<circle cx="1554.3" cy="1499.2" r="5.6" fill="#fff" stroke="#000000" stroke-width="1.2"/>
<circle cx="1559" cy="1500.6" r="5.6" fill="#fff" stroke="#000000" stroke-width="1.2"/>
<circle cx="1565" cy="1500.9" r="5.6" fill="#fff" stroke="#000000" stroke-width="1.2"/>
<line x1="1291.4" y1="1339" x2="1300.6" y2="1339" stroke="#000000" stroke-width="1.3"/>
<line x1="1296" y1="1334.4" x2="1296" y2="1343.6" stroke="#000000" stroke-width="1.3"/>
<circle cx="1296" cy="1339" r="1.5" fill="#000"/>
<line x1="1325.7" y1="1340.8" x2="1334.9" y2="1340.8" stroke="#000000" stroke-width="1.3"/>
<line x1="1330.3" y1="1336.2" x2="1330.3" y2="1345.4" stroke="#000000" stroke-width="1.3"/>
<circle cx="1330.3" cy="1340.8" r="1.5" fill="#000"/>
<line x1="1329.9" y1="1348.2" x2="1339.1" y2="1348.2" stroke="#000000" stroke-width="1.3"/>
<line x1="1334.5" y1="1343.6" x2="1334.5" y2="1352.8" stroke="#000000" stroke-width="1.3"/>
<circle cx="1334.5" cy="1348.2" r="1.5" fill="#000"/>
<line x1="1337.8" y1="1349.7" x2="1347" y2="1349.7" stroke="#000000" stroke-width="1.3"/>
<line x1="1342.4" y1="1345.1" x2="1342.4" y2="1354.3" stroke="#000000" stroke-width="1.3"/>
<circle cx="1342.4" cy="1349.7" r="1.5" fill="#000"/>
<line x1="1327.7" y1="1356.9" x2="1336.9" y2="1356.9" stroke="#000000" stroke-width="1.3"/>
<line x1="1332.3" y1="1352.3" x2="1332.3" y2="1361.5" stroke="#000000" stroke-width="1.3"/>
<circle cx="1332.3" cy="1356.9" r="1.5" fill="#000"/>
<line x1="1339.5" y1="1355.3" x2="1348.7" y2="1355.3" stroke="#000000" stroke-width="1.3"/>
<line x1="1344.1" y1="1350.7" x2="1344.1" y2="1359.9" stroke="#000000" stroke-width="1.3"/>
<circle cx="1344.1" cy="1355.3" r="1.5" fill="#000"/>
<line x1="1329" y1="1360.9" x2="1338.2" y2="1360.9" stroke="#000000" stroke-width="1.3"/>
<line x1="1333.6" y1="1356.3" x2="1333.6" y2="1365.5" stroke="#000000" stroke-width="1.3"/>
<circle cx="1333.6" cy="1360.9" r="1.5" fill="#000"/>
<line x1="1335.1" y1="1362.5" x2="1344.3" y2="1362.5" stroke="#000000" stroke-width="1.3"/>
<line x1="1339.7" y1="1357.9" x2="1339.7" y2="1367.1" stroke="#000000" stroke-width="1.3"/>
<circle cx="1339.7" cy="1362.5" r="1.5" fill="#000"/>
<line x1="1333.9" y1="1368.8" x2="1343.1" y2="1368.8" stroke="#000000" stroke-width="1.3"/>
<line x1="1338.5" y1="1364.2" x2="1338.5" y2="1373.4" stroke="#000000" stroke-width="1.3"/>
<circle cx="1338.5" cy="1368.8" r="1.5" fill="#000"/>
<line x1="1344.5" y1="1371.4" x2="1353.7" y2="1371.4" stroke="#000000" stroke-width="1.3"/>
<line x1="1349.1" y1="1366.8" x2="1349.1" y2="1376" stroke="#000000" stroke-width="1.3"/>
<circle cx="1349.1" cy="1371.4" r="1.5" fill="#000"/>
<line x1="1368.2" y1="1386.7" x2="1377.4" y2="1386.7" stroke="#000000" stroke-width="1.3"/>
<line x1="1372.8" y1="1382.1" x2="1372.8" y2="1391.3" stroke="#000000" stroke-width="1.3"/>
<circle cx="1372.8" cy="1386.7" r="1.5" fill="#000"/>
<line x1="1369.8" y1="1392.3" x2="1379" y2="1392.3" stroke="#000000" stroke-width="1.3"/>
<line x1="1374.4" y1="1387.7" x2="1374.4" y2="1396.9" stroke="#000000" stroke-width="1.3"/>
<circle cx="1374.4" cy="1392.3" r="1.5" fill="#000"/>
<circle cx="1552.3" cy="1125.9" r="5.4" fill="#fff" stroke="#000000" stroke-width="1.4"/>
<polygon points="1547.9,1148.4 1556.7,1148.4 1552.3,1140.8" fill="#fff" stroke="#000000" stroke-width="1.4" stroke-linejoin="miter"/>
<line x1="1547.1" y1="1163" x2="1557.5" y2="1163" stroke="#000000" stroke-width="1.4"/>
<line x1="1552.3" y1="1157.8" x2="1552.3" y2="1168.2" stroke="#000000" stroke-width="1.4"/>
<text x="1568.4" y="1130.5" font-size="14.8" text-anchor="start" font-weight="normal" fill="#000000" stroke="#000000" stroke-width="0.3">RGF 9</text>
<text x="1568.4" y="1149.1" font-size="14.8" text-anchor="start" font-weight="normal" fill="#000000" stroke="#000000" stroke-width="0.3">RGF 13</text>
<text x="1568.4" y="1167.6" font-size="14.8" text-anchor="start" font-weight="normal" fill="#000000" stroke="#000000" stroke-width="0.3">RGF 15</text>
<line x1="1219.8" y1="1501" x2="1271.8" y2="1501" stroke="#000000" stroke-width="1.9"/>
<line x1="1219.8" y1="1522.1" x2="1271.8" y2="1522.1" stroke="#000000" stroke-width="1.9" stroke-dasharray="15 7.3"/>
<text x="1281.8" y="1506.1" font-size="14.8" text-anchor="start" font-weight="normal" fill="#000000" stroke="#000000" stroke-width="0.3">relative sea level</text>
<text x="1281.8" y="1527.2" font-size="14.8" text-anchor="start" font-weight="normal" fill="#000000" stroke="#000000" stroke-width="0.3">global ice volume history</text>
<line x1="1211.4" y1="1537" x2="1211.4" y2="1546.6" stroke="#231815" stroke-width="1.15"/>
<line x1="1211.4" y1="1113.7" x2="1211.4" y2="1104.1" stroke="#231815" stroke-width="1.15"/>
<text x="1211.4" y="1571.6" font-size="22.4" text-anchor="middle" font-weight="normal" fill="#231815" stroke="#231815" stroke-width="0.3">16</text>
<line x1="1229" y1="1537" x2="1229" y2="1542" stroke="#231815" stroke-width="1.15"/>
<line x1="1229" y1="1113.7" x2="1229" y2="1108.7" stroke="#231815" stroke-width="1.15"/>
<line x1="1246.6" y1="1537" x2="1246.6" y2="1542" stroke="#231815" stroke-width="1.15"/>
<line x1="1246.6" y1="1113.7" x2="1246.6" y2="1108.7" stroke="#231815" stroke-width="1.15"/>
<line x1="1264.3" y1="1537" x2="1264.3" y2="1542" stroke="#231815" stroke-width="1.15"/>
<line x1="1264.3" y1="1113.7" x2="1264.3" y2="1108.7" stroke="#231815" stroke-width="1.15"/>
<line x1="1281.9" y1="1537" x2="1281.9" y2="1542" stroke="#231815" stroke-width="1.15"/>
<line x1="1281.9" y1="1113.7" x2="1281.9" y2="1108.7" stroke="#231815" stroke-width="1.15"/>
<line x1="1299.5" y1="1537" x2="1299.5" y2="1542" stroke="#231815" stroke-width="1.15"/>
<line x1="1299.5" y1="1113.7" x2="1299.5" y2="1108.7" stroke="#231815" stroke-width="1.15"/>
<line x1="1317.1" y1="1537" x2="1317.1" y2="1542" stroke="#231815" stroke-width="1.15"/>
<line x1="1317.1" y1="1113.7" x2="1317.1" y2="1108.7" stroke="#231815" stroke-width="1.15"/>
<line x1="1334.7" y1="1537" x2="1334.7" y2="1542" stroke="#231815" stroke-width="1.15"/>
<line x1="1334.7" y1="1113.7" x2="1334.7" y2="1108.7" stroke="#231815" stroke-width="1.15"/>
<line x1="1352.4" y1="1537" x2="1352.4" y2="1546.6" stroke="#231815" stroke-width="1.15"/>
<line x1="1352.4" y1="1113.7" x2="1352.4" y2="1104.1" stroke="#231815" stroke-width="1.15"/>
<text x="1352.4" y="1571.6" font-size="22.4" text-anchor="middle" font-weight="normal" fill="#231815" stroke="#231815" stroke-width="0.3">20</text>
<line x1="1370" y1="1537" x2="1370" y2="1542" stroke="#231815" stroke-width="1.15"/>
<line x1="1370" y1="1113.7" x2="1370" y2="1108.7" stroke="#231815" stroke-width="1.15"/>
<line x1="1387.6" y1="1537" x2="1387.6" y2="1542" stroke="#231815" stroke-width="1.15"/>
<line x1="1387.6" y1="1113.7" x2="1387.6" y2="1108.7" stroke="#231815" stroke-width="1.15"/>
<line x1="1405.2" y1="1537" x2="1405.2" y2="1542" stroke="#231815" stroke-width="1.15"/>
<line x1="1405.2" y1="1113.7" x2="1405.2" y2="1108.7" stroke="#231815" stroke-width="1.15"/>
<line x1="1422.8" y1="1537" x2="1422.8" y2="1542" stroke="#231815" stroke-width="1.15"/>
<line x1="1422.8" y1="1113.7" x2="1422.8" y2="1108.7" stroke="#231815" stroke-width="1.15"/>
<line x1="1440.5" y1="1537" x2="1440.5" y2="1542" stroke="#231815" stroke-width="1.15"/>
<line x1="1440.5" y1="1113.7" x2="1440.5" y2="1108.7" stroke="#231815" stroke-width="1.15"/>
<line x1="1458.1" y1="1537" x2="1458.1" y2="1542" stroke="#231815" stroke-width="1.15"/>
<line x1="1458.1" y1="1113.7" x2="1458.1" y2="1108.7" stroke="#231815" stroke-width="1.15"/>
<line x1="1475.7" y1="1537" x2="1475.7" y2="1542" stroke="#231815" stroke-width="1.15"/>
<line x1="1475.7" y1="1113.7" x2="1475.7" y2="1108.7" stroke="#231815" stroke-width="1.15"/>
<line x1="1493.3" y1="1537" x2="1493.3" y2="1546.6" stroke="#231815" stroke-width="1.15"/>
<line x1="1493.3" y1="1113.7" x2="1493.3" y2="1104.1" stroke="#231815" stroke-width="1.15"/>
<text x="1493.3" y="1571.6" font-size="22.4" text-anchor="middle" font-weight="normal" fill="#231815" stroke="#231815" stroke-width="0.3">24</text>
<line x1="1511" y1="1537" x2="1511" y2="1542" stroke="#231815" stroke-width="1.15"/>
<line x1="1511" y1="1113.7" x2="1511" y2="1108.7" stroke="#231815" stroke-width="1.15"/>
<line x1="1528.6" y1="1537" x2="1528.6" y2="1542" stroke="#231815" stroke-width="1.15"/>
<line x1="1528.6" y1="1113.7" x2="1528.6" y2="1108.7" stroke="#231815" stroke-width="1.15"/>
<line x1="1546.2" y1="1537" x2="1546.2" y2="1542" stroke="#231815" stroke-width="1.15"/>
<line x1="1546.2" y1="1113.7" x2="1546.2" y2="1108.7" stroke="#231815" stroke-width="1.15"/>
<line x1="1563.8" y1="1537" x2="1563.8" y2="1542" stroke="#231815" stroke-width="1.15"/>
<line x1="1563.8" y1="1113.7" x2="1563.8" y2="1108.7" stroke="#231815" stroke-width="1.15"/>
<line x1="1581.4" y1="1537" x2="1581.4" y2="1542" stroke="#231815" stroke-width="1.15"/>
<line x1="1581.4" y1="1113.7" x2="1581.4" y2="1108.7" stroke="#231815" stroke-width="1.15"/>
<line x1="1599.1" y1="1537" x2="1599.1" y2="1542" stroke="#231815" stroke-width="1.15"/>
<line x1="1599.1" y1="1113.7" x2="1599.1" y2="1108.7" stroke="#231815" stroke-width="1.15"/>
<line x1="1616.7" y1="1537" x2="1616.7" y2="1542" stroke="#231815" stroke-width="1.15"/>
<line x1="1616.7" y1="1113.7" x2="1616.7" y2="1108.7" stroke="#231815" stroke-width="1.15"/>
<line x1="1634.3" y1="1537" x2="1634.3" y2="1546.6" stroke="#231815" stroke-width="1.15"/>
<line x1="1634.3" y1="1113.7" x2="1634.3" y2="1104.1" stroke="#231815" stroke-width="1.15"/>
<text x="1634.3" y="1571.6" font-size="22.4" text-anchor="middle" font-weight="normal" fill="#231815" stroke="#231815" stroke-width="0.3">28</text>
<line x1="1211.4" y1="1113.7" x2="1201.8" y2="1113.7" stroke="#231815" stroke-width="1.15"/>
<line x1="1634.3" y1="1113.7" x2="1643.9" y2="1113.7" stroke="#231815" stroke-width="1.15"/>
<text x="1192.8" y="1121" font-size="22.4" text-anchor="end" font-weight="normal" fill="#231815" stroke="#231815" stroke-width="0.3">−60</text>
<line x1="1211.4" y1="1123.1" x2="1206.4" y2="1123.1" stroke="#231815" stroke-width="1.15"/>
<line x1="1634.3" y1="1123.1" x2="1639.3" y2="1123.1" stroke="#231815" stroke-width="1.15"/>
<line x1="1211.4" y1="1132.5" x2="1206.4" y2="1132.5" stroke="#231815" stroke-width="1.15"/>
<line x1="1634.3" y1="1132.5" x2="1639.3" y2="1132.5" stroke="#231815" stroke-width="1.15"/>
<line x1="1211.4" y1="1141.9" x2="1206.4" y2="1141.9" stroke="#231815" stroke-width="1.15"/>
<line x1="1634.3" y1="1141.9" x2="1639.3" y2="1141.9" stroke="#231815" stroke-width="1.15"/>
<line x1="1211.4" y1="1151.3" x2="1206.4" y2="1151.3" stroke="#231815" stroke-width="1.15"/>
<line x1="1634.3" y1="1151.3" x2="1639.3" y2="1151.3" stroke="#231815" stroke-width="1.15"/>
<line x1="1211.4" y1="1160.7" x2="1201.8" y2="1160.7" stroke="#231815" stroke-width="1.15"/>
<line x1="1634.3" y1="1160.7" x2="1643.9" y2="1160.7" stroke="#231815" stroke-width="1.15"/>
<text x="1192.8" y="1168" font-size="22.4" text-anchor="end" font-weight="normal" fill="#231815" stroke="#231815" stroke-width="0.3">−70</text>
<line x1="1211.4" y1="1170.1" x2="1206.4" y2="1170.1" stroke="#231815" stroke-width="1.15"/>
<line x1="1634.3" y1="1170.1" x2="1639.3" y2="1170.1" stroke="#231815" stroke-width="1.15"/>
<line x1="1211.4" y1="1179.5" x2="1206.4" y2="1179.5" stroke="#231815" stroke-width="1.15"/>
<line x1="1634.3" y1="1179.5" x2="1639.3" y2="1179.5" stroke="#231815" stroke-width="1.15"/>
<line x1="1211.4" y1="1189" x2="1206.4" y2="1189" stroke="#231815" stroke-width="1.15"/>
<line x1="1634.3" y1="1189" x2="1639.3" y2="1189" stroke="#231815" stroke-width="1.15"/>
<line x1="1211.4" y1="1198.4" x2="1206.4" y2="1198.4" stroke="#231815" stroke-width="1.15"/>
<line x1="1634.3" y1="1198.4" x2="1639.3" y2="1198.4" stroke="#231815" stroke-width="1.15"/>
<line x1="1211.4" y1="1207.8" x2="1201.8" y2="1207.8" stroke="#231815" stroke-width="1.15"/>
<line x1="1634.3" y1="1207.8" x2="1643.9" y2="1207.8" stroke="#231815" stroke-width="1.15"/>
<text x="1192.8" y="1215.1" font-size="22.4" text-anchor="end" font-weight="normal" fill="#231815" stroke="#231815" stroke-width="0.3">−80</text>
<line x1="1211.4" y1="1217.2" x2="1206.4" y2="1217.2" stroke="#231815" stroke-width="1.15"/>
<line x1="1634.3" y1="1217.2" x2="1639.3" y2="1217.2" stroke="#231815" stroke-width="1.15"/>
<line x1="1211.4" y1="1226.6" x2="1206.4" y2="1226.6" stroke="#231815" stroke-width="1.15"/>
<line x1="1634.3" y1="1226.6" x2="1639.3" y2="1226.6" stroke="#231815" stroke-width="1.15"/>
<line x1="1211.4" y1="1236" x2="1206.4" y2="1236" stroke="#231815" stroke-width="1.15"/>
<line x1="1634.3" y1="1236" x2="1639.3" y2="1236" stroke="#231815" stroke-width="1.15"/>
<line x1="1211.4" y1="1245.4" x2="1206.4" y2="1245.4" stroke="#231815" stroke-width="1.15"/>
<line x1="1634.3" y1="1245.4" x2="1639.3" y2="1245.4" stroke="#231815" stroke-width="1.15"/>
<line x1="1211.4" y1="1254.8" x2="1201.8" y2="1254.8" stroke="#231815" stroke-width="1.15"/>
<line x1="1634.3" y1="1254.8" x2="1643.9" y2="1254.8" stroke="#231815" stroke-width="1.15"/>
<text x="1192.8" y="1262.1" font-size="22.4" text-anchor="end" font-weight="normal" fill="#231815" stroke="#231815" stroke-width="0.3">−90</text>
<line x1="1211.4" y1="1264.2" x2="1206.4" y2="1264.2" stroke="#231815" stroke-width="1.15"/>
<line x1="1634.3" y1="1264.2" x2="1639.3" y2="1264.2" stroke="#231815" stroke-width="1.15"/>
<line x1="1211.4" y1="1273.6" x2="1206.4" y2="1273.6" stroke="#231815" stroke-width="1.15"/>
<line x1="1634.3" y1="1273.6" x2="1639.3" y2="1273.6" stroke="#231815" stroke-width="1.15"/>
<line x1="1211.4" y1="1283" x2="1206.4" y2="1283" stroke="#231815" stroke-width="1.15"/>
<line x1="1634.3" y1="1283" x2="1639.3" y2="1283" stroke="#231815" stroke-width="1.15"/>
<line x1="1211.4" y1="1292.4" x2="1206.4" y2="1292.4" stroke="#231815" stroke-width="1.15"/>
<line x1="1634.3" y1="1292.4" x2="1639.3" y2="1292.4" stroke="#231815" stroke-width="1.15"/>
<line x1="1211.4" y1="1301.8" x2="1201.8" y2="1301.8" stroke="#231815" stroke-width="1.15"/>
<line x1="1634.3" y1="1301.8" x2="1643.9" y2="1301.8" stroke="#231815" stroke-width="1.15"/>
<text x="1192.8" y="1309.1" font-size="22.4" text-anchor="end" font-weight="normal" fill="#231815" stroke="#231815" stroke-width="0.3">−100</text>
<line x1="1211.4" y1="1311.2" x2="1206.4" y2="1311.2" stroke="#231815" stroke-width="1.15"/>
<line x1="1634.3" y1="1311.2" x2="1639.3" y2="1311.2" stroke="#231815" stroke-width="1.15"/>
<line x1="1211.4" y1="1320.6" x2="1206.4" y2="1320.6" stroke="#231815" stroke-width="1.15"/>
<line x1="1634.3" y1="1320.6" x2="1639.3" y2="1320.6" stroke="#231815" stroke-width="1.15"/>
<line x1="1211.4" y1="1330.1" x2="1206.4" y2="1330.1" stroke="#231815" stroke-width="1.15"/>
<line x1="1634.3" y1="1330.1" x2="1639.3" y2="1330.1" stroke="#231815" stroke-width="1.15"/>
<line x1="1211.4" y1="1339.5" x2="1206.4" y2="1339.5" stroke="#231815" stroke-width="1.15"/>
<line x1="1634.3" y1="1339.5" x2="1639.3" y2="1339.5" stroke="#231815" stroke-width="1.15"/>
<line x1="1211.4" y1="1348.9" x2="1201.8" y2="1348.9" stroke="#231815" stroke-width="1.15"/>
<line x1="1634.3" y1="1348.9" x2="1643.9" y2="1348.9" stroke="#231815" stroke-width="1.15"/>
<text x="1192.8" y="1356.2" font-size="22.4" text-anchor="end" font-weight="normal" fill="#231815" stroke="#231815" stroke-width="0.3">−110</text>
<line x1="1211.4" y1="1358.3" x2="1206.4" y2="1358.3" stroke="#231815" stroke-width="1.15"/>
<line x1="1634.3" y1="1358.3" x2="1639.3" y2="1358.3" stroke="#231815" stroke-width="1.15"/>
<line x1="1211.4" y1="1367.7" x2="1206.4" y2="1367.7" stroke="#231815" stroke-width="1.15"/>
<line x1="1634.3" y1="1367.7" x2="1639.3" y2="1367.7" stroke="#231815" stroke-width="1.15"/>
<line x1="1211.4" y1="1377.1" x2="1206.4" y2="1377.1" stroke="#231815" stroke-width="1.15"/>
<line x1="1634.3" y1="1377.1" x2="1639.3" y2="1377.1" stroke="#231815" stroke-width="1.15"/>
<line x1="1211.4" y1="1386.5" x2="1206.4" y2="1386.5" stroke="#231815" stroke-width="1.15"/>
<line x1="1634.3" y1="1386.5" x2="1639.3" y2="1386.5" stroke="#231815" stroke-width="1.15"/>
<line x1="1211.4" y1="1395.9" x2="1201.8" y2="1395.9" stroke="#231815" stroke-width="1.15"/>
<line x1="1634.3" y1="1395.9" x2="1643.9" y2="1395.9" stroke="#231815" stroke-width="1.15"/>
<text x="1192.8" y="1403.2" font-size="22.4" text-anchor="end" font-weight="normal" fill="#231815" stroke="#231815" stroke-width="0.3">−120</text>
<line x1="1211.4" y1="1405.3" x2="1206.4" y2="1405.3" stroke="#231815" stroke-width="1.15"/>
<line x1="1634.3" y1="1405.3" x2="1639.3" y2="1405.3" stroke="#231815" stroke-width="1.15"/>
<line x1="1211.4" y1="1414.7" x2="1206.4" y2="1414.7" stroke="#231815" stroke-width="1.15"/>
<line x1="1634.3" y1="1414.7" x2="1639.3" y2="1414.7" stroke="#231815" stroke-width="1.15"/>
<line x1="1211.4" y1="1424.1" x2="1206.4" y2="1424.1" stroke="#231815" stroke-width="1.15"/>
<line x1="1634.3" y1="1424.1" x2="1639.3" y2="1424.1" stroke="#231815" stroke-width="1.15"/>
<line x1="1211.4" y1="1433.5" x2="1206.4" y2="1433.5" stroke="#231815" stroke-width="1.15"/>
<line x1="1634.3" y1="1433.5" x2="1639.3" y2="1433.5" stroke="#231815" stroke-width="1.15"/>
<line x1="1211.4" y1="1442.9" x2="1201.8" y2="1442.9" stroke="#231815" stroke-width="1.15"/>
<line x1="1634.3" y1="1442.9" x2="1643.9" y2="1442.9" stroke="#231815" stroke-width="1.15"/>
<text x="1192.8" y="1450.2" font-size="22.4" text-anchor="end" font-weight="normal" fill="#231815" stroke="#231815" stroke-width="0.3">−130</text>
<line x1="1211.4" y1="1452.3" x2="1206.4" y2="1452.3" stroke="#231815" stroke-width="1.15"/>
<line x1="1634.3" y1="1452.3" x2="1639.3" y2="1452.3" stroke="#231815" stroke-width="1.15"/>
<line x1="1211.4" y1="1461.7" x2="1206.4" y2="1461.7" stroke="#231815" stroke-width="1.15"/>
<line x1="1634.3" y1="1461.7" x2="1639.3" y2="1461.7" stroke="#231815" stroke-width="1.15"/>
<line x1="1211.4" y1="1471.2" x2="1206.4" y2="1471.2" stroke="#231815" stroke-width="1.15"/>
<line x1="1634.3" y1="1471.2" x2="1639.3" y2="1471.2" stroke="#231815" stroke-width="1.15"/>
<line x1="1211.4" y1="1480.6" x2="1206.4" y2="1480.6" stroke="#231815" stroke-width="1.15"/>
<line x1="1634.3" y1="1480.6" x2="1639.3" y2="1480.6" stroke="#231815" stroke-width="1.15"/>
<line x1="1211.4" y1="1490" x2="1201.8" y2="1490" stroke="#231815" stroke-width="1.15"/>
<line x1="1634.3" y1="1490" x2="1643.9" y2="1490" stroke="#231815" stroke-width="1.15"/>
<text x="1192.8" y="1497.3" font-size="22.4" text-anchor="end" font-weight="normal" fill="#231815" stroke="#231815" stroke-width="0.3">−140</text>
<line x1="1211.4" y1="1499.4" x2="1206.4" y2="1499.4" stroke="#231815" stroke-width="1.15"/>
<line x1="1634.3" y1="1499.4" x2="1639.3" y2="1499.4" stroke="#231815" stroke-width="1.15"/>
<line x1="1211.4" y1="1508.8" x2="1206.4" y2="1508.8" stroke="#231815" stroke-width="1.15"/>
<line x1="1634.3" y1="1508.8" x2="1639.3" y2="1508.8" stroke="#231815" stroke-width="1.15"/>
<line x1="1211.4" y1="1518.2" x2="1206.4" y2="1518.2" stroke="#231815" stroke-width="1.15"/>
<line x1="1634.3" y1="1518.2" x2="1639.3" y2="1518.2" stroke="#231815" stroke-width="1.15"/>
<line x1="1211.4" y1="1527.6" x2="1206.4" y2="1527.6" stroke="#231815" stroke-width="1.15"/>
<line x1="1634.3" y1="1527.6" x2="1639.3" y2="1527.6" stroke="#231815" stroke-width="1.15"/>
<line x1="1211.4" y1="1537" x2="1201.8" y2="1537" stroke="#231815" stroke-width="1.15"/>
<line x1="1634.3" y1="1537" x2="1643.9" y2="1537" stroke="#231815" stroke-width="1.15"/>
<text x="1192.8" y="1544.3" font-size="22.4" text-anchor="end" font-weight="normal" fill="#231815" stroke="#231815" stroke-width="0.3">−150</text>
<rect x="1211.4" y="1113.7" width="422.9" height="423.3" fill="none" stroke="#000000" stroke-width="2.2"/>
<text x="1422.8" y="1602.3" font-size="22.2" text-anchor="middle" font-weight="normal" fill="#231815" stroke="#231815" stroke-width="0.3">Age (cal kyr BP)</text>
<text x="1127.9" y="1326.3" font-size="22.2" text-anchor="middle" font-weight="normal" fill="#231815" transform="rotate(-90 1127.9 1326.3)" stroke="#231815" stroke-width="0.3">Sea level (m)</text>
<text x="1123.8" y="1100.1" font-size="29" text-anchor="start" font-weight="bold" fill="#000000">f</text>
</svg></body></html>
